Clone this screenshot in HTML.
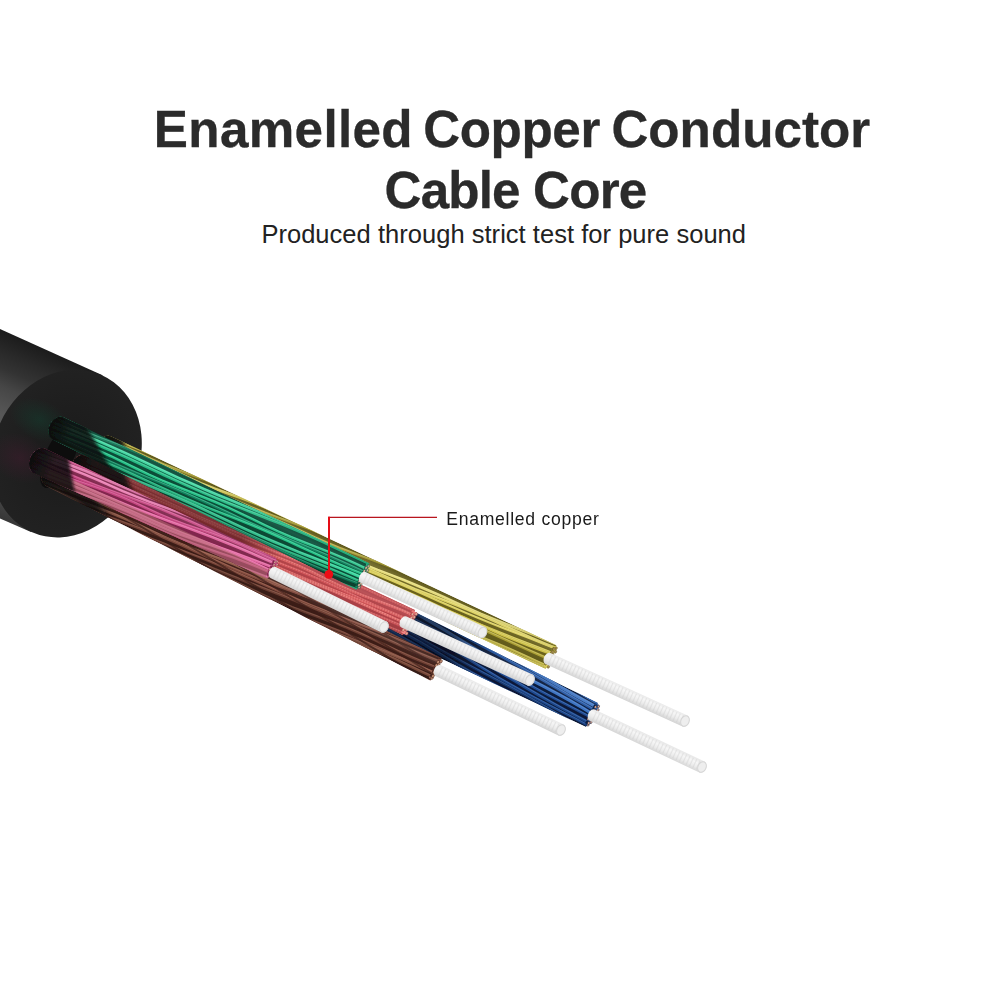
<!DOCTYPE html>
<html><head><meta charset="utf-8"><title>Enamelled Copper Conductor Cable Core</title>
<style>
html,body{margin:0;padding:0;background:#fff;}
body{width:1000px;height:1000px;position:relative;overflow:hidden;font-family:"Liberation Sans",sans-serif;}
.t{position:absolute;white-space:nowrap;line-height:1;transform-origin:0 0;}
#t1,#t1b,#t1c,#t2{font-weight:bold;color:#2b2b2b;font-size:51.2px;-webkit-text-stroke:0.3px #2b2b2b;}
#t3{color:#222;font-size:25.5px;}
#t4{color:#1a1a1a;font-size:17.6px;letter-spacing:0.72px;}
</style></head><body>
<svg width="1000" height="1000" viewBox="0 0 1000 1000" style="position:absolute;left:0;top:0"><defs><linearGradient id="jb" gradientUnits="userSpaceOnUse" x1="45" y1="350" x2="-25" y2="505"><stop offset="0" stop-color="#1c1c1c"/><stop offset="0.1" stop-color="#282828"/><stop offset="0.2" stop-color="#333333"/><stop offset="0.3" stop-color="#464646"/><stop offset="0.45" stop-color="#575757"/><stop offset="0.7" stop-color="#5a5a5a"/><stop offset="0.88" stop-color="#4a4a4a"/><stop offset="1" stop-color="#383838"/></linearGradient><radialGradient id="jf" cx="0.5" cy="0.5" r="0.6"><stop offset="0" stop-color="#1a1a1a"/><stop offset="1" stop-color="#232323"/></radialGradient><radialGradient id="tg"><stop offset="0" stop-color="#0b5a3e" stop-opacity="0.28"/><stop offset="1" stop-color="#0b5a3e" stop-opacity="0"/></radialGradient><radialGradient id="tp"><stop offset="0" stop-color="#5a1a3a" stop-opacity="0.3"/><stop offset="1" stop-color="#5a1a3a" stop-opacity="0"/></radialGradient><clipPath id="y1"><path d="M100.6 459.5 L545.5 668.7 L556.5 645.2 L111.4 436.5 A9.7 12.7 25.2 0 0 100.6 459.5 Z"/></clipPath><linearGradient id="gy1" gradientUnits="userSpaceOnUse" x1="556.5" y1="645.2" x2="545.5" y2="668.7"><stop offset="0" stop-color="#000" stop-opacity="0.12"/><stop offset="0.22" stop-color="#fff" stop-opacity="0.08"/><stop offset="0.55" stop-color="#000" stop-opacity="0"/><stop offset="1" stop-color="#000" stop-opacity="0.13"/></linearGradient><filter id="fy1" x="-30%" y="-30%" width="160%" height="160%"><feGaussianBlur stdDeviation="2"/></filter><linearGradient id="hy1" gradientUnits="userSpaceOnUse" x1="96.8" y1="443.6" x2="118.7" y2="453.9"><stop offset="0" stop-color="#101010" stop-opacity="1"/><stop offset="0.45" stop-color="#101010" stop-opacity="0.85"/><stop offset="1" stop-color="#101010" stop-opacity="0"/></linearGradient><linearGradient id="c2" gradientUnits="userSpaceOnUse" x1="550.5" y1="653" x2="545.5" y2="664"><stop offset="0" stop-color="#e9e9e9"/><stop offset="0.28" stop-color="#f6f6f6"/><stop offset="0.62" stop-color="#ececec"/><stop offset="1" stop-color="#d4d4d4"/></linearGradient><clipPath id="bl3"><path d="M389.2 633.9 L586.1 727.1 L597.9 702.9 L402.8 606.1 A11.8 15.5 25.9 0 0 389.2 633.9 Z"/></clipPath><linearGradient id="gbl3" gradientUnits="userSpaceOnUse" x1="598.8" y1="701.1" x2="585.2" y2="728.9"><stop offset="0" stop-color="#000" stop-opacity="0.12"/><stop offset="0.22" stop-color="#fff" stop-opacity="0.08"/><stop offset="0.55" stop-color="#000" stop-opacity="0"/><stop offset="1" stop-color="#000" stop-opacity="0.12"/></linearGradient><linearGradient id="dbl3" gradientUnits="userSpaceOnUse" x1="396" y1="620" x2="486" y2="663.6"><stop offset="0" stop-color="#040814" stop-opacity="0.55"/><stop offset="0.6" stop-color="#040814" stop-opacity="0.55"/><stop offset="1" stop-color="#040814" stop-opacity="0"/></linearGradient><linearGradient id="c4" gradientUnits="userSpaceOnUse" x1="594.6" y1="709.6" x2="589.4" y2="720.4"><stop offset="0" stop-color="#e9e9e9"/><stop offset="0.28" stop-color="#f6f6f6"/><stop offset="0.62" stop-color="#ececec"/><stop offset="1" stop-color="#d4d4d4"/></linearGradient><clipPath id="r5"><path d="M75.1 476.4 L403 635.2 L415 610 L84.9 455.6 A8.7 11.5 25.5 0 0 75.1 476.4 Z"/></clipPath><linearGradient id="gr5" gradientUnits="userSpaceOnUse" x1="415" y1="610" x2="403" y2="635.2"><stop offset="0" stop-color="#000" stop-opacity="0.12"/><stop offset="0.22" stop-color="#fff" stop-opacity="0.08"/><stop offset="0.55" stop-color="#000" stop-opacity="0"/><stop offset="1" stop-color="#000" stop-opacity="0.15"/></linearGradient><linearGradient id="dr5" gradientUnits="userSpaceOnUse" x1="80" y1="466" x2="278.6" y2="560.6"><stop offset="0" stop-color="#2a0808" stop-opacity="0.45"/><stop offset="0.8" stop-color="#2a0808" stop-opacity="0.45"/><stop offset="1" stop-color="#2a0808" stop-opacity="0"/></linearGradient><filter id="fr5" x="-30%" y="-30%" width="160%" height="160%"><feGaussianBlur stdDeviation="2"/></filter><linearGradient id="hr5" gradientUnits="userSpaceOnUse" x1="71.7" y1="462" x2="92.6" y2="472"><stop offset="0" stop-color="#101010" stop-opacity="1"/><stop offset="0.45" stop-color="#101010" stop-opacity="0.85"/><stop offset="1" stop-color="#101010" stop-opacity="0"/></linearGradient><linearGradient id="c6" gradientUnits="userSpaceOnUse" x1="406.5" y1="616.5" x2="401.5" y2="627.5"><stop offset="0" stop-color="#e9e9e9"/><stop offset="0.28" stop-color="#f6f6f6"/><stop offset="0.62" stop-color="#ececec"/><stop offset="1" stop-color="#d4d4d4"/></linearGradient><clipPath id="g7"><path d="M52.5 439.6 L356.6 589.7 L369.4 563.5 L63.5 417.2 A9.5 12.5 25.9 0 0 52.5 439.6 Z"/></clipPath><linearGradient id="gg7" gradientUnits="userSpaceOnUse" x1="369.4" y1="563.5" x2="356.6" y2="589.7"><stop offset="0" stop-color="#000" stop-opacity="0.12"/><stop offset="0.22" stop-color="#fff" stop-opacity="0.08"/><stop offset="0.55" stop-color="#000" stop-opacity="0"/><stop offset="1" stop-color="#000" stop-opacity="0.2"/></linearGradient><filter id="fg7" x="-30%" y="-30%" width="160%" height="160%"><feGaussianBlur stdDeviation="1.5"/></filter><linearGradient id="hg7" gradientUnits="userSpaceOnUse" x1="49" y1="424" x2="70.6" y2="434.5"><stop offset="0" stop-color="#101010" stop-opacity="1"/><stop offset="0.45" stop-color="#101010" stop-opacity="0.85"/><stop offset="1" stop-color="#101010" stop-opacity="0"/></linearGradient><linearGradient id="c8" gradientUnits="userSpaceOnUse" x1="365.5" y1="571.9" x2="360.5" y2="582.7"><stop offset="0" stop-color="#e9e9e9"/><stop offset="0.28" stop-color="#f6f6f6"/><stop offset="0.62" stop-color="#ececec"/><stop offset="1" stop-color="#d4d4d4"/></linearGradient><clipPath id="br9"><path d="M45.3 485.4 L430.4 680.4 L441.6 658.2 L54.7 466.6 A8 10.5 26.6 0 0 45.3 485.4 Z"/></clipPath><linearGradient id="gbr9" gradientUnits="userSpaceOnUse" x1="441.6" y1="658.2" x2="430.4" y2="680.4"><stop offset="0" stop-color="#000" stop-opacity="0.12"/><stop offset="0.22" stop-color="#fff" stop-opacity="0.08"/><stop offset="0.55" stop-color="#000" stop-opacity="0"/><stop offset="1" stop-color="#000" stop-opacity="0.2"/></linearGradient><filter id="fbr9" x="-30%" y="-30%" width="160%" height="160%"><feGaussianBlur stdDeviation="4"/></filter><linearGradient id="hbr9" gradientUnits="userSpaceOnUse" x1="42.5" y1="472.2" x2="62.5" y2="482.3"><stop offset="0" stop-color="#101010" stop-opacity="1"/><stop offset="0.45" stop-color="#101010" stop-opacity="0.85"/><stop offset="1" stop-color="#101010" stop-opacity="0"/></linearGradient><clipPath id="p10"><path d="M34.3 473.5 L267.4 578.6 L276.6 558.6 L45.7 448.9 A10.3 13.5 24.8 0 0 34.3 473.5 Z"/></clipPath><linearGradient id="gp10" gradientUnits="userSpaceOnUse" x1="277.7" y1="556.3" x2="266.3" y2="580.9"><stop offset="0" stop-color="#000" stop-opacity="0.12"/><stop offset="0.22" stop-color="#fff" stop-opacity="0.08"/><stop offset="0.55" stop-color="#000" stop-opacity="0"/><stop offset="1" stop-color="#000" stop-opacity="0.15"/></linearGradient><filter id="fp10" x="-30%" y="-30%" width="160%" height="160%"><feGaussianBlur stdDeviation="1.5"/></filter><linearGradient id="hp10" gradientUnits="userSpaceOnUse" x1="30.2" y1="456.7" x2="52.7" y2="467.1"><stop offset="0" stop-color="#101010" stop-opacity="1"/><stop offset="0.45" stop-color="#101010" stop-opacity="0.85"/><stop offset="1" stop-color="#101010" stop-opacity="0"/></linearGradient><linearGradient id="c11" gradientUnits="userSpaceOnUse" x1="275.6" y1="567.1" x2="270.4" y2="577.9"><stop offset="0" stop-color="#e9e9e9"/><stop offset="0.28" stop-color="#f6f6f6"/><stop offset="0.62" stop-color="#ececec"/><stop offset="1" stop-color="#d4d4d4"/></linearGradient><linearGradient id="c12" gradientUnits="userSpaceOnUse" x1="440.6" y1="665.1" x2="435.4" y2="675.9"><stop offset="0" stop-color="#e9e9e9"/><stop offset="0.28" stop-color="#f6f6f6"/><stop offset="0.62" stop-color="#ececec"/><stop offset="1" stop-color="#d4d4d4"/></linearGradient><filter id="soft" x="0" y="0" width="1000" height="1000" filterUnits="userSpaceOnUse"><feGaussianBlur stdDeviation="0.45"/></filter></defs><path d="M-2 328 L102.5 375.3 L31 532 L-2 517.5 Z" fill="url(#jb)"/>
<ellipse cx="66.5" cy="453.5" rx="73" ry="86" fill="url(#jf)" transform="rotate(24 66.5 453.5)"/>
<ellipse cx="40" cy="420" rx="32" ry="20" fill="url(#tg)" transform="rotate(25 40 420)"/>
<ellipse cx="20" cy="458" rx="32" ry="24" fill="url(#tp)" transform="rotate(25 20 458)"/>
<ellipse cx="60" cy="455" rx="14" ry="36" fill="#0d0d0d" transform="rotate(25.6 60 455)"/><g filter="url(#soft)"><g clip-path="url(#y1)">
<path d="M100.6 459.5 L545.5 668.7 L556.5 645.2 L111.4 436.5 A9.7 12.7 25.2 0 0 100.6 459.5 Z" fill="#6a621e"/>
<path d="M99.5 403 L112.3 408.8 L125 414.7 L137.7 420.6 L150.5 426.4 L163.5 431.8 L176.5 437 L189.7 442 L202.9 446.9 L216.1 451.8 L229.2 456.8 L242.2 462.2 L255.1 467.8 L267.8 473.6 L280.5 479.5 L293.3 485.4 L306.1 491.2 L319 496.7 L332 501.9 L345.2 506.8 L358.4 511.7 L371.6 516.6 L384.7 521.7 L397.7 527 L410.6 532.6 L423.4 538.4 L436.1 544.3 L448.8 550.3 L461.6 556 L474.5 561.5 L487.6 566.7 L500.7 571.7 L513.9 576.5 L527.1 581.4 L540.3 586.5 L553.3 591.8 L566.1 597.4 L578.9 603.2 L591.6 609.2 L604.3 615.1 L617.1 620.8" stroke="#d4c850" stroke-width="2.6" fill="none" stroke-linejoin="round"/>
<path d="M99.5 403 L112.3 408.8 L125 414.7 L137.7 420.6 L150.5 426.4 L163.5 431.8 L176.5 437 L189.7 442 L202.9 446.9 L216.1 451.8 L229.2 456.8 L242.2 462.2 L255.1 467.8 L267.8 473.6 L280.5 479.5 L293.3 485.4 L306.1 491.2 L319 496.7 L332 501.9 L345.2 506.8 L358.4 511.7 L371.6 516.6 L384.7 521.7 L397.7 527 L410.6 532.6 L423.4 538.4 L436.1 544.3 L448.8 550.3 L461.6 556 L474.5 561.5 L487.6 566.7 L500.7 571.7 L513.9 576.5 L527.1 581.4 L540.3 586.5 L553.3 591.8 L566.1 597.4 L578.9 603.2 L591.6 609.2 L604.3 615.1 L617.1 620.8" stroke="#f6f0b0" stroke-width="0.8" fill="none" opacity="0.45" transform="translate(0.2 -0.5)"/>
<path d="M97.2 407.8 L110.4 412.8 L123.7 417.5 L136.9 422.4 L150 427.6 L162.7 433.4 L175.4 439.5 L188 445.7 L200.7 451.5 L213.7 456.9 L226.9 461.7 L240.2 466.4 L253.4 471.4 L266.4 476.8 L279.1 482.7 L291.7 488.9 L304.3 495 L317.2 500.7 L330.2 505.8 L343.5 510.6 L356.7 515.4 L369.9 520.4 L382.8 526 L395.4 532 L408 538.2 L420.7 544.2 L433.6 549.8 L446.7 554.8 L460 559.5 L473.3 564.3 L486.3 569.5 L499.1 575.2 L511.8 581.3 L524.4 587.5 L537.1 593.4 L550.1 598.8 L563.3 603.7 L576.6 608.4 L589.8 613.3 L602.7 618.6 L615.5 624.5" stroke="#b0a436" stroke-width="2.5" fill="none" stroke-linejoin="round"/>
<path d="M97.2 407.8 L110.4 412.8 L123.7 417.5 L136.9 422.4 L150 427.6 L162.7 433.4 L175.4 439.5 L188 445.7 L200.7 451.5 L213.7 456.9 L226.9 461.7 L240.2 466.4 L253.4 471.4 L266.4 476.8 L279.1 482.7 L291.7 488.9 L304.3 495 L317.2 500.7 L330.2 505.8 L343.5 510.6 L356.7 515.4 L369.9 520.4 L382.8 526 L395.4 532 L408 538.2 L420.7 544.2 L433.6 549.8 L446.7 554.8 L460 559.5 L473.3 564.3 L486.3 569.5 L499.1 575.2 L511.8 581.3 L524.4 587.5 L537.1 593.4 L550.1 598.8 L563.3 603.7 L576.6 608.4 L589.8 613.3 L602.7 618.6 L615.5 624.5" stroke="#f6f0b0" stroke-width="0.8" fill="none" opacity="0.45" transform="translate(0.2 -0.4)"/>
<path d="M96.7 409.1 L109.5 414.6 L122.4 420.4 L135.1 426.2 L147.8 432.1 L160.6 437.9 L173.5 443.5 L186.5 448.9 L199.5 454.1 L212.7 459.1 L225.8 464.2 L238.9 469.3 L251.9 474.6 L264.8 480.1 L277.6 485.9 L290.4 491.7 L303.1 497.6 L315.9 503.4 L328.7 509 L341.7 514.4 L354.8 519.6 L367.9 524.6 L381 529.7 L394.1 534.8 L407.1 540.1 L420 545.6 L432.8 551.4 L445.6 557.2 L458.3 563.1 L471.1 568.9 L484 574.5 L497 579.9 L510 585.1 L523.1 590.1 L536.3 595.2 L549.4 600.3 L562.4 605.6 L575.3 611.1 L588.1 616.8 L600.8 622.7 L613.6 628.6" stroke="#dcd05a" stroke-width="2.4" fill="none" stroke-linejoin="round"/>
<path d="M96.7 409.1 L109.5 414.6 L122.4 420.4 L135.1 426.2 L147.8 432.1 L160.6 437.9 L173.5 443.5 L186.5 448.9 L199.5 454.1 L212.7 459.1 L225.8 464.2 L238.9 469.3 L251.9 474.6 L264.8 480.1 L277.6 485.9 L290.4 491.7 L303.1 497.6 L315.9 503.4 L328.7 509 L341.7 514.4 L354.8 519.6 L367.9 524.6 L381 529.7 L394.1 534.8 L407.1 540.1 L420 545.6 L432.8 551.4 L445.6 557.2 L458.3 563.1 L471.1 568.9 L484 574.5 L497 579.9 L510 585.1 L523.1 590.1 L536.3 595.2 L549.4 600.3 L562.4 605.6 L575.3 611.1 L588.1 616.8 L600.8 622.7 L613.6 628.6" stroke="#f6f0b0" stroke-width="0.8" fill="none" opacity="0.45" transform="translate(0.2 -0.4)"/>
<path d="M94.8 413.1 L107.8 418.4 L120.8 423.7 L133.7 429.1 L146.6 434.7 L159.5 440.3 L172.4 445.9 L185.2 451.6 L198 457.2 L210.9 462.8 L223.8 468.3 L236.8 473.7 L249.8 479.1 L262.8 484.3 L275.9 489.5 L288.9 494.7 L302 499.9 L315 505.2 L328 510.6 L340.9 516 L353.8 521.5 L366.7 527.1 L379.5 532.8 L392.4 538.4 L405.2 544.1 L418.1 549.7 L431 555.2 L444 560.6 L457 565.9 L470 571.2 L483.1 576.4 L496.1 581.6 L509.2 586.8 L522.2 592.1 L535.2 597.4 L548.1 602.9 L561 608.4 L573.9 614 L586.7 619.6 L599.6 625.3 L612.4 631" stroke="#d4c850" stroke-width="2.1" fill="none" stroke-linejoin="round"/>
<path d="M94.8 413.1 L107.8 418.4 L120.8 423.7 L133.7 429.1 L146.6 434.7 L159.5 440.3 L172.4 445.9 L185.2 451.6 L198 457.2 L210.9 462.8 L223.8 468.3 L236.8 473.7 L249.8 479.1 L262.8 484.3 L275.9 489.5 L288.9 494.7 L302 499.9 L315 505.2 L328 510.6 L340.9 516 L353.8 521.5 L366.7 527.1 L379.5 532.8 L392.4 538.4 L405.2 544.1 L418.1 549.7 L431 555.2 L444 560.6 L457 565.9 L470 571.2 L483.1 576.4 L496.1 581.6 L509.2 586.8 L522.2 592.1 L535.2 597.4 L548.1 602.9 L561 608.4 L573.9 614 L586.7 619.6 L599.6 625.3 L612.4 631" stroke="#f6f0b0" stroke-width="0.7" fill="none" opacity="0.45" transform="translate(0.2 -0.4)"/>
<path d="M92.9 417.1 L106.1 422.1 L119.2 427.1 L132.2 432.3 L145.2 437.7 L158.1 443.3 L170.9 449 L183.7 454.8 L196.5 460.6 L209.3 466.2 L222.2 471.8 L235.2 477.1 L248.2 482.3 L261.4 487.3 L274.5 492.3 L287.7 497.3 L300.8 502.4 L313.8 507.7 L326.7 513.1 L339.6 518.7 L352.4 524.4 L365.2 530.2 L378 536 L390.8 541.6 L403.7 547.1 L416.7 552.4 L429.8 557.6 L443 562.6 L456.1 567.6 L469.3 572.6 L482.4 577.7 L495.4 583 L508.3 588.5 L521.1 594.1 L533.9 599.9 L546.7 605.7 L559.5 611.4 L572.4 617 L585.3 622.5 L598.3 627.7 L611.4 632.8" stroke="#d4c850" stroke-width="2.6" fill="none" stroke-linejoin="round"/>
<path d="M92.9 417.1 L106.1 422.1 L119.2 427.1 L132.2 432.3 L145.2 437.7 L158.1 443.3 L170.9 449 L183.7 454.8 L196.5 460.6 L209.3 466.2 L222.2 471.8 L235.2 477.1 L248.2 482.3 L261.4 487.3 L274.5 492.3 L287.7 497.3 L300.8 502.4 L313.8 507.7 L326.7 513.1 L339.6 518.7 L352.4 524.4 L365.2 530.2 L378 536 L390.8 541.6 L403.7 547.1 L416.7 552.4 L429.8 557.6 L443 562.6 L456.1 567.6 L469.3 572.6 L482.4 577.7 L495.4 583 L508.3 588.5 L521.1 594.1 L533.9 599.9 L546.7 605.7 L559.5 611.4 L572.4 617 L585.3 622.5 L598.3 627.7 L611.4 632.8" stroke="#f6f0b0" stroke-width="0.8" fill="none" opacity="0.45" transform="translate(0.2 -0.5)"/>
<path d="M91.1 421 L103.9 426.6 L116.8 432.2 L129.8 437.6 L142.8 442.9 L155.8 448.1 L168.9 453.2 L182 458.3 L195.2 463.3 L208.3 468.5 L221.3 473.7 L234.3 479 L247.2 484.5 L260.1 490.1 L272.9 495.8 L285.7 501.5 L298.5 507.3 L311.3 513 L324.2 518.6 L337.1 524.1 L350.1 529.4 L363.1 534.7 L376.2 539.8 L389.3 544.9 L402.5 549.9 L415.6 555 L428.6 560.2 L441.6 565.5 L454.6 570.9 L467.5 576.4 L480.3 582.1 L493.2 587.8 L506 593.5 L518.8 599.3 L531.6 604.9 L544.5 610.5 L557.4 615.9 L570.4 621.2 L583.5 626.4 L596.6 631.5 L609.7 636.5" stroke="#e6dc74" stroke-width="2.3" fill="none" stroke-linejoin="round"/>
<path d="M91.1 421 L103.9 426.6 L116.8 432.2 L129.8 437.6 L142.8 442.9 L155.8 448.1 L168.9 453.2 L182 458.3 L195.2 463.3 L208.3 468.5 L221.3 473.7 L234.3 479 L247.2 484.5 L260.1 490.1 L272.9 495.8 L285.7 501.5 L298.5 507.3 L311.3 513 L324.2 518.6 L337.1 524.1 L350.1 529.4 L363.1 534.7 L376.2 539.8 L389.3 544.9 L402.5 549.9 L415.6 555 L428.6 560.2 L441.6 565.5 L454.6 570.9 L467.5 576.4 L480.3 582.1 L493.2 587.8 L506 593.5 L518.8 599.3 L531.6 604.9 L544.5 610.5 L557.4 615.9 L570.4 621.2 L583.5 626.4 L596.6 631.5 L609.7 636.5" stroke="#f6f0b0" stroke-width="0.7" fill="none" opacity="0.45" transform="translate(0.2 -0.4)"/>
<path d="M89.7 424 L102.7 429.2 L115.8 434.4 L128.8 439.6 L141.9 444.9 L154.8 450.2 L167.8 455.7 L180.6 461.3 L193.5 467 L206.3 472.7 L219.1 478.4 L232 484 L244.8 489.6 L257.8 495.1 L270.7 500.5 L283.8 505.7 L296.8 510.9 L309.9 516.1 L322.9 521.3 L336 526.6 L348.9 532 L361.9 537.5 L374.7 543.1 L387.6 548.7 L400.4 554.5 L413.2 560.2 L426 565.8 L438.9 571.4 L451.9 576.8 L464.9 582.2 L477.9 587.5 L490.9 592.7 L504 597.8 L517 603.1 L530.1 608.4 L543 613.7 L556 619.2 L568.8 624.8 L581.7 630.5 L594.5 636.2 L607.3 641.9" stroke="#d4c850" stroke-width="2.3" fill="none" stroke-linejoin="round"/>
<path d="M89.7 424 L102.7 429.2 L115.8 434.4 L128.8 439.6 L141.9 444.9 L154.8 450.2 L167.8 455.7 L180.6 461.3 L193.5 467 L206.3 472.7 L219.1 478.4 L232 484 L244.8 489.6 L257.8 495.1 L270.7 500.5 L283.8 505.7 L296.8 510.9 L309.9 516.1 L322.9 521.3 L336 526.6 L348.9 532 L361.9 537.5 L374.7 543.1 L387.6 548.7 L400.4 554.5 L413.2 560.2 L426 565.8 L438.9 571.4 L451.9 576.8 L464.9 582.2 L477.9 587.5 L490.9 592.7 L504 597.8 L517 603.1 L530.1 608.4 L543 613.7 L556 619.2 L568.8 624.8 L581.7 630.5 L594.5 636.2 L607.3 641.9" stroke="#f6f0b0" stroke-width="0.7" fill="none" opacity="0.45" transform="translate(0.2 -0.4)"/>
<path d="M88.3 427 L101 432.8 L113.8 438.5 L126.7 444.1 L139.7 449.4 L152.8 454.6 L165.9 459.6 L179.1 464.6 L192.1 469.9 L205 475.3 L217.9 481 L230.7 486.8 L243.5 492.5 L256.4 498 L269.4 503.3 L282.5 508.4 L295.6 513.4 L308.7 518.5 L321.7 523.8 L334.7 529.3 L347.5 535 L360.3 540.7 L373.1 546.4 L386 551.9 L399 557.1 L412.2 562.2 L425.3 567.2 L438.4 572.4 L451.4 577.7 L464.3 583.3 L477.1 589 L489.9 594.7 L502.7 600.4 L515.7 605.8 L528.7 611 L541.9 616 L555 621.1 L568.1 626.2 L581 631.6 L593.9 637.2 L606.7 643" stroke="#dcd05a" stroke-width="2.6" fill="none" stroke-linejoin="round"/>
<path d="M88.3 427 L101 432.8 L113.8 438.5 L126.7 444.1 L139.7 449.4 L152.8 454.6 L165.9 459.6 L179.1 464.6 L192.1 469.9 L205 475.3 L217.9 481 L230.7 486.8 L243.5 492.5 L256.4 498 L269.4 503.3 L282.5 508.4 L295.6 513.4 L308.7 518.5 L321.7 523.8 L334.7 529.3 L347.5 535 L360.3 540.7 L373.1 546.4 L386 551.9 L399 557.1 L412.2 562.2 L425.3 567.2 L438.4 572.4 L451.4 577.7 L464.3 583.3 L477.1 589 L489.9 594.7 L502.7 600.4 L515.7 605.8 L528.7 611 L541.9 616 L555 621.1 L568.1 626.2 L581 631.6 L593.9 637.2 L606.7 643" stroke="#f6f0b0" stroke-width="0.8" fill="none" opacity="0.45" transform="translate(0.2 -0.5)"/>
<path d="M87 429.7 L100 435.1 L112.7 440.8 L125.4 446.9 L138.1 452.9 L150.8 458.8 L163.7 464.3 L176.8 469.4 L190 474.4 L203.2 479.3 L216.3 484.5 L229.2 490 L241.9 495.9 L254.6 501.9 L267.3 507.9 L280.1 513.7 L293 519.1 L306.2 524.1 L319.4 529 L332.5 534 L345.5 539.3 L358.4 544.9 L371.1 550.9 L383.7 557 L396.5 562.9 L409.3 568.5 L422.3 573.8 L435.5 578.8 L448.7 583.7 L461.8 588.7 L474.8 594.1 L487.6 599.9 L500.3 605.9 L512.9 612 L525.7 617.8 L538.6 623.4 L551.7 628.5 L564.8 633.4 L578 638.4 L591.1 643.5 L604 649" stroke="#b0a436" stroke-width="2.3" fill="none" stroke-linejoin="round"/>
<path d="M87 429.7 L100 435.1 L112.7 440.8 L125.4 446.9 L138.1 452.9 L150.8 458.8 L163.7 464.3 L176.8 469.4 L190 474.4 L203.2 479.3 L216.3 484.5 L229.2 490 L241.9 495.9 L254.6 501.9 L267.3 507.9 L280.1 513.7 L293 519.1 L306.2 524.1 L319.4 529 L332.5 534 L345.5 539.3 L358.4 544.9 L371.1 550.9 L383.7 557 L396.5 562.9 L409.3 568.5 L422.3 573.8 L435.5 578.8 L448.7 583.7 L461.8 588.7 L474.8 594.1 L487.6 599.9 L500.3 605.9 L512.9 612 L525.7 617.8 L538.6 623.4 L551.7 628.5 L564.8 633.4 L578 638.4 L591.1 643.5 L604 649" stroke="#f6f0b0" stroke-width="0.7" fill="none" opacity="0.45" transform="translate(0.2 -0.4)"/>
<path d="M84.5 435 L97.6 440.1 L110.8 444.9 L124.1 449.6 L137.3 454.5 L150.3 459.9 L163.1 465.7 L175.7 471.8 L188.4 477.8 L201.2 483.4 L214.3 488.5 L227.6 493.2 L240.9 497.9 L254.1 502.9 L267 508.3 L279.8 514.2 L292.4 520.3 L305.1 526.2 L318 531.8 L331.1 536.9 L344.4 541.6 L357.6 546.3 L370.8 551.3 L383.7 556.7 L396.5 562.6 L409.1 568.7 L421.8 574.7 L434.7 580.2 L447.8 585.2 L461.1 590 L474.4 594.7 L487.5 599.7 L500.5 605.2 L513.2 611.1 L525.8 617.2 L538.5 623.1 L551.4 628.6 L564.6 633.6 L577.9 638.3 L591.1 643 L604.3 648.1" stroke="#dcd05a" stroke-width="2.7" fill="none" stroke-linejoin="round"/>
<path d="M84.5 435 L97.6 440.1 L110.8 444.9 L124.1 449.6 L137.3 454.5 L150.3 459.9 L163.1 465.7 L175.7 471.8 L188.4 477.8 L201.2 483.4 L214.3 488.5 L227.6 493.2 L240.9 497.9 L254.1 502.9 L267 508.3 L279.8 514.2 L292.4 520.3 L305.1 526.2 L318 531.8 L331.1 536.9 L344.4 541.6 L357.6 546.3 L370.8 551.3 L383.7 556.7 L396.5 562.6 L409.1 568.7 L421.8 574.7 L434.7 580.2 L447.8 585.2 L461.1 590 L474.4 594.7 L487.5 599.7 L500.5 605.2 L513.2 611.1 L525.8 617.2 L538.5 623.1 L551.4 628.6 L564.6 633.6 L577.9 638.3 L591.1 643 L604.3 648.1" stroke="#f6f0b0" stroke-width="0.9" fill="none" opacity="0.45" transform="translate(0.2 -0.5)"/>
<path d="M83.1 438 L96.1 443.3 L109.2 448.5 L122.3 453.5 L135.5 458.3 L148.7 463.2 L161.8 468.3 L174.8 473.6 L187.7 479.1 L200.5 484.8 L213.3 490.6 L226.1 496.4 L238.9 502 L251.9 507.4 L265 512.6 L278.2 517.5 L291.4 522.4 L304.6 527.3 L317.7 532.3 L330.7 537.6 L343.6 543.2 L356.4 548.9 L369.1 554.7 L381.9 560.5 L394.8 566.1 L407.7 571.5 L420.8 576.6 L434 581.6 L447.2 586.4 L460.4 591.3 L473.5 596.4 L486.5 601.7 L499.4 607.3 L512.2 613 L525 618.8 L537.7 624.6 L550.6 630.2 L563.6 635.6 L576.7 640.7 L589.8 645.6 L603 650.5" stroke="#b0a436" stroke-width="2.2" fill="none" stroke-linejoin="round"/>
<path d="M83.1 438 L96.1 443.3 L109.2 448.5 L122.3 453.5 L135.5 458.3 L148.7 463.2 L161.8 468.3 L174.8 473.6 L187.7 479.1 L200.5 484.8 L213.3 490.6 L226.1 496.4 L238.9 502 L251.9 507.4 L265 512.6 L278.2 517.5 L291.4 522.4 L304.6 527.3 L317.7 532.3 L330.7 537.6 L343.6 543.2 L356.4 548.9 L369.1 554.7 L381.9 560.5 L394.8 566.1 L407.7 571.5 L420.8 576.6 L434 581.6 L447.2 586.4 L460.4 591.3 L473.5 596.4 L486.5 601.7 L499.4 607.3 L512.2 613 L525 618.8 L537.7 624.6 L550.6 630.2 L563.6 635.6 L576.7 640.7 L589.8 645.6 L603 650.5" stroke="#f6f0b0" stroke-width="0.7" fill="none" opacity="0.45" transform="translate(0.2 -0.4)"/>
<path d="M81.5 441.4 L94.6 446.6 L107.8 451.4 L121 456.3 L134.1 461.3 L147.2 466.5 L160 472.1 L172.8 478 L185.5 483.8 L198.3 489.5 L211.3 494.9 L224.4 500 L237.6 504.8 L250.9 509.7 L264 514.7 L277 520.1 L289.8 525.7 L302.5 531.6 L315.3 537.4 L328.1 543.1 L341.1 548.4 L354.3 553.4 L367.5 558.2 L380.7 563.1 L393.8 568.2 L406.8 573.6 L419.6 579.3 L432.3 585.2 L445.1 591 L457.9 596.6 L471 601.9 L484.1 606.8 L497.4 611.6 L510.6 616.5 L523.6 621.7 L536.6 627.2 L549.3 632.9 L562.1 638.8 L574.9 644.6 L587.8 650.1 L600.8 655.3" stroke="#b0a436" stroke-width="2.2" fill="none" stroke-linejoin="round"/>
<path d="M81.5 441.4 L94.6 446.6 L107.8 451.4 L121 456.3 L134.1 461.3 L147.2 466.5 L160 472.1 L172.8 478 L185.5 483.8 L198.3 489.5 L211.3 494.9 L224.4 500 L237.6 504.8 L250.9 509.7 L264 514.7 L277 520.1 L289.8 525.7 L302.5 531.6 L315.3 537.4 L328.1 543.1 L341.1 548.4 L354.3 553.4 L367.5 558.2 L380.7 563.1 L393.8 568.2 L406.8 573.6 L419.6 579.3 L432.3 585.2 L445.1 591 L457.9 596.6 L471 601.9 L484.1 606.8 L497.4 611.6 L510.6 616.5 L523.6 621.7 L536.6 627.2 L549.3 632.9 L562.1 638.8 L574.9 644.6 L587.8 650.1 L600.8 655.3" stroke="#f6f0b0" stroke-width="0.7" fill="none" opacity="0.45" transform="translate(0.2 -0.4)"/>
<path d="M80.2 444.1 L93 449.9 L105.8 455.6 L118.8 461 L131.8 466.2 L144.9 471.3 L158 476.4 L171.1 481.7 L184 487.2 L196.8 493 L209.5 498.8 L222.3 504.6 L235.2 510.2 L248.2 515.5 L261.3 520.6 L274.4 525.7 L287.5 530.9 L300.4 536.3 L313.3 541.9 L326.1 547.7 L338.8 553.5 L351.6 559.2 L364.6 564.7 L377.6 570 L390.7 575 L403.8 580.1 L416.9 585.4 L429.8 590.9 L442.6 596.6 L455.4 602.4 L468.1 608.2 L481 613.9 L494 619.2 L507.1 624.4 L520.2 629.4 L533.3 634.6 L546.2 639.9 L559.1 645.5 L571.9 651.3 L584.6 657.2 L597.5 662.9" stroke="#e6dc74" stroke-width="2.7" fill="none" stroke-linejoin="round"/>
<path d="M80.2 444.1 L93 449.9 L105.8 455.6 L118.8 461 L131.8 466.2 L144.9 471.3 L158 476.4 L171.1 481.7 L184 487.2 L196.8 493 L209.5 498.8 L222.3 504.6 L235.2 510.2 L248.2 515.5 L261.3 520.6 L274.4 525.7 L287.5 530.9 L300.4 536.3 L313.3 541.9 L326.1 547.7 L338.8 553.5 L351.6 559.2 L364.6 564.7 L377.6 570 L390.7 575 L403.8 580.1 L416.9 585.4 L429.8 590.9 L442.6 596.6 L455.4 602.4 L468.1 608.2 L481 613.9 L494 619.2 L507.1 624.4 L520.2 629.4 L533.3 634.6 L546.2 639.9 L559.1 645.5 L571.9 651.3 L584.6 657.2 L597.5 662.9" stroke="#f6f0b0" stroke-width="0.9" fill="none" opacity="0.45" transform="translate(0.2 -0.5)"/>
<path d="M78.9 446.9 L91.8 452.5 L104.6 458.3 L117.3 464.1 L130.1 469.9 L143 475.4 L156 480.7 L169.2 485.7 L182.3 490.7 L195.4 495.8 L208.4 501.1 L221.3 506.6 L234.1 512.4 L246.9 518.3 L259.7 524 L272.5 529.6 L285.5 534.9 L298.6 540 L311.8 545 L324.9 550.1 L338 555.3 L350.9 560.8 L363.7 566.5 L376.4 572.4 L389.2 578.2 L402.1 583.8 L415 589.2 L428.1 594.3 L441.3 599.3 L454.4 604.3 L467.5 609.5 L480.4 615 L493.2 620.6 L506 626.5 L518.8 632.3 L531.6 638 L544.5 643.4 L557.6 648.6 L570.7 653.6 L583.9 658.6 L597 663.8" stroke="#dcd05a" stroke-width="2.7" fill="none" stroke-linejoin="round"/>
<path d="M78.9 446.9 L91.8 452.5 L104.6 458.3 L117.3 464.1 L130.1 469.9 L143 475.4 L156 480.7 L169.2 485.7 L182.3 490.7 L195.4 495.8 L208.4 501.1 L221.3 506.6 L234.1 512.4 L246.9 518.3 L259.7 524 L272.5 529.6 L285.5 534.9 L298.6 540 L311.8 545 L324.9 550.1 L338 555.3 L350.9 560.8 L363.7 566.5 L376.4 572.4 L389.2 578.2 L402.1 583.8 L415 589.2 L428.1 594.3 L441.3 599.3 L454.4 604.3 L467.5 609.5 L480.4 615 L493.2 620.6 L506 626.5 L518.8 632.3 L531.6 638 L544.5 643.4 L557.6 648.6 L570.7 653.6 L583.9 658.6 L597 663.8" stroke="#f6f0b0" stroke-width="0.9" fill="none" opacity="0.45" transform="translate(0.2 -0.5)"/>
<path d="M77 451 L89.8 456.7 L102.7 462.3 L115.6 467.7 L128.6 473.1 L141.7 478.3 L154.8 483.4 L167.9 488.4 L181 493.5 L194.1 498.7 L207.1 504 L220 509.4 L232.9 515 L245.7 520.6 L258.5 526.3 L271.4 532 L284.3 537.6 L297.2 543 L310.2 548.3 L323.3 553.5 L336.4 558.6 L349.5 563.6 L362.6 568.7 L375.7 573.9 L388.7 579.2 L401.6 584.7 L414.4 590.3 L427.3 596 L440.1 601.7 L452.9 607.3 L465.8 612.9 L478.8 618.3 L491.8 623.6 L504.9 628.7 L518 633.8 L531.1 638.8 L544.2 643.9 L557.3 649.2 L570.2 654.5 L583.1 660 L596 665.7" stroke="#dcd05a" stroke-width="2.1" fill="none" stroke-linejoin="round"/>
<path d="M77 451 L89.8 456.7 L102.7 462.3 L115.6 467.7 L128.6 473.1 L141.7 478.3 L154.8 483.4 L167.9 488.4 L181 493.5 L194.1 498.7 L207.1 504 L220 509.4 L232.9 515 L245.7 520.6 L258.5 526.3 L271.4 532 L284.3 537.6 L297.2 543 L310.2 548.3 L323.3 553.5 L336.4 558.6 L349.5 563.6 L362.6 568.7 L375.7 573.9 L388.7 579.2 L401.6 584.7 L414.4 590.3 L427.3 596 L440.1 601.7 L452.9 607.3 L465.8 612.9 L478.8 618.3 L491.8 623.6 L504.9 628.7 L518 633.8 L531.1 638.8 L544.2 643.9 L557.3 649.2 L570.2 654.5 L583.1 660 L596 665.7" stroke="#f6f0b0" stroke-width="0.7" fill="none" opacity="0.45" transform="translate(0.2 -0.4)"/>
<path d="M75.8 453.4 L88.6 459.2 L101.4 465 L114.1 470.9 L127 476.6 L139.9 482.1 L152.9 487.4 L165.9 492.6 L179.1 497.7 L192.2 502.7 L205.3 507.8 L218.4 513 L231.3 518.4 L244.2 524 L257 529.7 L269.7 535.6 L282.5 541.4 L295.3 547.1 L308.2 552.7 L321.2 558 L334.2 563.2 L347.4 568.3 L360.5 573.3 L373.6 578.4 L386.7 583.6 L399.7 588.9 L412.5 594.5 L425.4 600.2 L438.1 606.1 L450.9 611.9 L463.7 617.6 L476.5 623.2 L489.5 628.6 L502.6 633.8 L515.7 638.9 L528.8 643.9 L541.9 649 L555 654.2 L568 659.5 L580.9 665 L593.7 670.7" stroke="#cfc248" stroke-width="2.7" fill="none" stroke-linejoin="round"/>
<path d="M75.8 453.4 L88.6 459.2 L101.4 465 L114.1 470.9 L127 476.6 L139.9 482.1 L152.9 487.4 L165.9 492.6 L179.1 497.7 L192.2 502.7 L205.3 507.8 L218.4 513 L231.3 518.4 L244.2 524 L257 529.7 L269.7 535.6 L282.5 541.4 L295.3 547.1 L308.2 552.7 L321.2 558 L334.2 563.2 L347.4 568.3 L360.5 573.3 L373.6 578.4 L386.7 583.6 L399.7 588.9 L412.5 594.5 L425.4 600.2 L438.1 606.1 L450.9 611.9 L463.7 617.6 L476.5 623.2 L489.5 628.6 L502.6 633.8 L515.7 638.9 L528.8 643.9 L541.9 649 L555 654.2 L568 659.5 L580.9 665 L593.7 670.7" stroke="#f6f0b0" stroke-width="0.9" fill="none" opacity="0.45" transform="translate(0.2 -0.5)"/>
<path d="M74.3 456.6 L87.3 462.1 L100.1 467.8 L112.8 473.7 L125.6 479.4 L138.5 484.9 L151.6 490 L164.8 495 L178 499.9 L191.1 504.9 L204.1 510.2 L217 515.8 L229.8 521.6 L242.5 527.4 L255.4 533 L268.4 538.4 L281.5 543.4 L294.7 548.3 L307.9 553.3 L321 558.4 L333.9 563.8 L346.7 569.5 L359.5 575.3 L372.3 581.1 L385.2 586.6 L398.2 591.8 L411.4 596.8 L424.6 601.7 L437.7 606.7 L450.8 611.9 L463.6 617.5 L476.4 623.2 L489.2 629 L502 634.7 L515 640.1 L528.1 645.2 L541.3 650.2 L554.5 655.1 L567.6 660.1 L580.5 665.5 L593.4 671.1" stroke="#cfc248" stroke-width="2.6" fill="none" stroke-linejoin="round"/>
<path d="M74.3 456.6 L87.3 462.1 L100.1 467.8 L112.8 473.7 L125.6 479.4 L138.5 484.9 L151.6 490 L164.8 495 L178 499.9 L191.1 504.9 L204.1 510.2 L217 515.8 L229.8 521.6 L242.5 527.4 L255.4 533 L268.4 538.4 L281.5 543.4 L294.7 548.3 L307.9 553.3 L321 558.4 L333.9 563.8 L346.7 569.5 L359.5 575.3 L372.3 581.1 L385.2 586.6 L398.2 591.8 L411.4 596.8 L424.6 601.7 L437.7 606.7 L450.8 611.9 L463.6 617.5 L476.4 623.2 L489.2 629 L502 634.7 L515 640.1 L528.1 645.2 L541.3 650.2 L554.5 655.1 L567.6 660.1 L580.5 665.5 L593.4 671.1" stroke="#f6f0b0" stroke-width="0.8" fill="none" opacity="0.45" transform="translate(0.2 -0.5)"/>
<path d="M72 461.6 L84.8 467.3 L97.8 472.7 L110.9 477.8 L124 482.8 L137.2 487.6 L150.4 492.6 L163.5 497.6 L176.5 503 L189.4 508.6 L202.2 514.4 L214.9 520.2 L227.7 526 L240.6 531.6 L253.5 537 L266.6 542.1 L279.8 547 L293 551.8 L306.2 556.8 L319.3 561.9 L332.2 567.4 L345.1 573 L357.8 578.8 L370.6 584.7 L383.4 590.4 L396.3 596 L409.3 601.3 L422.4 606.3 L435.6 611.2 L448.8 616.1 L462 621.1 L475 626.3 L487.9 631.7 L500.8 637.5 L513.5 643.3 L526.3 649.1 L539.1 654.8 L552 660.3 L565 665.5 L578.2 670.5 L591.4 675.4" stroke="#b0a436" stroke-width="2.6" fill="none" stroke-linejoin="round"/>
<path d="M72 461.6 L84.8 467.3 L97.8 472.7 L110.9 477.8 L124 482.8 L137.2 487.6 L150.4 492.6 L163.5 497.6 L176.5 503 L189.4 508.6 L202.2 514.4 L214.9 520.2 L227.7 526 L240.6 531.6 L253.5 537 L266.6 542.1 L279.8 547 L293 551.8 L306.2 556.8 L319.3 561.9 L332.2 567.4 L345.1 573 L357.8 578.8 L370.6 584.7 L383.4 590.4 L396.3 596 L409.3 601.3 L422.4 606.3 L435.6 611.2 L448.8 616.1 L462 621.1 L475 626.3 L487.9 631.7 L500.8 637.5 L513.5 643.3 L526.3 649.1 L539.1 654.8 L552 660.3 L565 665.5 L578.2 670.5 L591.4 675.4" stroke="#f6f0b0" stroke-width="0.8" fill="none" opacity="0.45" transform="translate(0.2 -0.5)"/>
<path d="M71.2 463.4 L83.9 469.3 L96.6 475.2 L109.4 481 L122.3 486.6 L135.2 492 L148.3 497.2 L161.4 502.2 L174.5 507.3 L187.6 512.5 L200.6 517.9 L213.4 523.5 L226.2 529.3 L238.9 535.2 L251.7 541.1 L264.5 546.8 L277.4 552.4 L290.4 557.7 L303.5 562.8 L316.6 567.9 L329.7 573 L342.8 578.2 L355.7 583.7 L368.5 589.3 L381.3 595.2 L394 601.1 L406.8 607 L419.6 612.7 L432.5 618.1 L445.5 623.4 L458.6 628.5 L471.8 633.6 L484.9 638.7 L497.9 644 L510.8 649.5 L523.6 655.2 L536.4 661.1 L549.1 667 L561.8 672.8 L574.7 678.5 L587.6 683.9" stroke="#cfc248" stroke-width="2.5" fill="none" stroke-linejoin="round"/>
<path d="M71.2 463.4 L83.9 469.3 L96.6 475.2 L109.4 481 L122.3 486.6 L135.2 492 L148.3 497.2 L161.4 502.2 L174.5 507.3 L187.6 512.5 L200.6 517.9 L213.4 523.5 L226.2 529.3 L238.9 535.2 L251.7 541.1 L264.5 546.8 L277.4 552.4 L290.4 557.7 L303.5 562.8 L316.6 567.9 L329.7 573 L342.8 578.2 L355.7 583.7 L368.5 589.3 L381.3 595.2 L394 601.1 L406.8 607 L419.6 612.7 L432.5 618.1 L445.5 623.4 L458.6 628.5 L471.8 633.6 L484.9 638.7 L497.9 644 L510.8 649.5 L523.6 655.2 L536.4 661.1 L549.1 667 L561.8 672.8 L574.7 678.5 L587.6 683.9" stroke="#f6f0b0" stroke-width="0.8" fill="none" opacity="0.45" transform="translate(0.2 -0.5)"/>
<path d="M69.6 466.8 L82.6 471.9 L95.6 477.3 L108.5 482.8 L121.4 488.5 L134.1 494.3 L146.9 500.1 L159.7 505.8 L172.6 511.4 L185.5 516.9 L198.5 522.2 L211.6 527.3 L224.7 532.4 L237.9 537.4 L251 542.5 L264 547.7 L277 553.1 L289.9 558.6 L302.7 564.3 L315.5 570.1 L328.3 575.9 L341.1 581.6 L353.9 587.2 L366.9 592.7 L379.9 597.9 L393 603.1 L406.1 608.1 L419.3 613.1 L432.4 618.2 L445.4 623.5 L458.4 628.8 L471.3 634.4 L484.1 640.1 L496.9 645.9 L509.6 651.7 L522.5 657.4 L535.3 663 L548.3 668.4 L561.3 673.7 L574.4 678.8 L587.5 683.8" stroke="#dcd05a" stroke-width="2.2" fill="none" stroke-linejoin="round"/>
<path d="M69.6 466.8 L82.6 471.9 L95.6 477.3 L108.5 482.8 L121.4 488.5 L134.1 494.3 L146.9 500.1 L159.7 505.8 L172.6 511.4 L185.5 516.9 L198.5 522.2 L211.6 527.3 L224.7 532.4 L237.9 537.4 L251 542.5 L264 547.7 L277 553.1 L289.9 558.6 L302.7 564.3 L315.5 570.1 L328.3 575.9 L341.1 581.6 L353.9 587.2 L366.9 592.7 L379.9 597.9 L393 603.1 L406.1 608.1 L419.3 613.1 L432.4 618.2 L445.4 623.5 L458.4 628.8 L471.3 634.4 L484.1 640.1 L496.9 645.9 L509.6 651.7 L522.5 657.4 L535.3 663 L548.3 668.4 L561.3 673.7 L574.4 678.8 L587.5 683.8" stroke="#f6f0b0" stroke-width="0.7" fill="none" opacity="0.45" transform="translate(0.2 -0.4)"/>
<path d="M67.5 471.1 L80.5 476.4 L93.6 481.5 L106.8 486.6 L119.9 491.6 L133 496.7 L146 502.1 L158.9 507.5 L171.8 513.2 L184.6 518.9 L197.4 524.5 L210.3 530.1 L223.3 535.5 L236.3 540.7 L249.4 545.8 L262.5 550.8 L275.7 555.9 L288.7 561.1 L301.7 566.4 L314.6 572 L327.4 577.6 L340.2 583.3 L353.1 589 L366 594.5 L379 599.8 L392.1 605 L405.2 610 L418.3 615.1 L431.4 620.2 L444.4 625.4 L457.4 630.8 L470.2 636.4 L483.1 642.1 L495.9 647.8 L508.8 653.4 L521.7 658.8 L534.7 664.1 L547.8 669.2 L560.9 674.3 L574.1 679.3 L587.1 684.5" stroke="#cfc248" stroke-width="2.5" fill="none" stroke-linejoin="round"/>
<path d="M67.5 471.1 L80.5 476.4 L93.6 481.5 L106.8 486.6 L119.9 491.6 L133 496.7 L146 502.1 L158.9 507.5 L171.8 513.2 L184.6 518.9 L197.4 524.5 L210.3 530.1 L223.3 535.5 L236.3 540.7 L249.4 545.8 L262.5 550.8 L275.7 555.9 L288.7 561.1 L301.7 566.4 L314.6 572 L327.4 577.6 L340.2 583.3 L353.1 589 L366 594.5 L379 599.8 L392.1 605 L405.2 610 L418.3 615.1 L431.4 620.2 L444.4 625.4 L457.4 630.8 L470.2 636.4 L483.1 642.1 L495.9 647.8 L508.8 653.4 L521.7 658.8 L534.7 664.1 L547.8 669.2 L560.9 674.3 L574.1 679.3 L587.1 684.5" stroke="#f6f0b0" stroke-width="0.8" fill="none" opacity="0.45" transform="translate(0.2 -0.5)"/>
<path d="M100.6 459.5 L545.5 668.7 L556.5 645.2 L111.4 436.5 A9.7 12.7 25.2 0 0 100.6 459.5 Z" fill="url(#gy1)"/>
<polygon points="84.2,423.7 124.4,437 125.6,476.7 73.4,446.7" fill="#0b0b0b" opacity="0.86" filter="url(#fy1)"/>
<path d="M100.6 459.5 L545.5 668.7 L556.5 645.2 L111.4 436.5 A9.7 12.7 25.2 0 0 100.6 459.5 Z" fill="url(#hy1)"/>
</g>
<line x1="553" y1="646.8" x2="556.1" y2="648.3" stroke="#d4c850" stroke-width="3"/>
<ellipse cx="556.1" cy="648.3" rx="1.1" ry="1.5" fill="#a88a58" stroke="#6a621e" stroke-width="0.5" transform="rotate(25.2 556.1 648.3)"/>
<line x1="551.6" y1="649.9" x2="555.5" y2="651.7" stroke="#cfc248" stroke-width="3"/>
<ellipse cx="555.5" cy="651.7" rx="1.1" ry="1.5" fill="#a88a58" stroke="#6a621e" stroke-width="0.5" transform="rotate(25.2 555.5 651.7)"/>
<line x1="550.2" y1="652.9" x2="552.7" y2="654.1" stroke="#cfc248" stroke-width="3"/>
<ellipse cx="552.7" cy="654.1" rx="1.1" ry="1.5" fill="#a88a58" stroke="#6a621e" stroke-width="0.5" transform="rotate(25.2 552.7 654.1)"/>
<line x1="548.7" y1="655.9" x2="553.6" y2="658.2" stroke="#e6dc74" stroke-width="3"/>
<ellipse cx="553.6" cy="658.2" rx="1.1" ry="1.5" fill="#a88a58" stroke="#6a621e" stroke-width="0.5" transform="rotate(25.2 553.6 658.2)"/>
<line x1="547.3" y1="658.9" x2="551.5" y2="660.9" stroke="#d4c850" stroke-width="3"/>
<ellipse cx="551.5" cy="660.9" rx="1.1" ry="1.5" fill="#a88a58" stroke="#6a621e" stroke-width="0.5" transform="rotate(25.2 551.5 660.9)"/>
<line x1="545.9" y1="662" x2="549.9" y2="663.8" stroke="#cfc248" stroke-width="3"/>
<ellipse cx="549.9" cy="663.8" rx="1.1" ry="1.5" fill="#a88a58" stroke="#6a621e" stroke-width="0.5" transform="rotate(25.2 549.9 663.8)"/>
<line x1="544.5" y1="665" x2="548.4" y2="666.8" stroke="#dcd05a" stroke-width="3"/>
<ellipse cx="548.4" cy="666.8" rx="1.1" ry="1.5" fill="#a88a58" stroke="#6a621e" stroke-width="0.5" transform="rotate(25.2 548.4 666.8)"/>
<line x1="552.3" y1="648.3" x2="553.9" y2="649.1" stroke="#6a621e" stroke-width="3"/>
<ellipse cx="553.9" cy="649.1" rx="1.1" ry="1.5" fill="#a88a58" stroke="#6a621e" stroke-width="0.5" transform="rotate(25.2 553.9 649.1)"/>
<line x1="550.9" y1="651.4" x2="552.2" y2="652" stroke="#6a621e" stroke-width="3"/>
<ellipse cx="552.2" cy="652" rx="1.1" ry="1.5" fill="#a88a58" stroke="#6a621e" stroke-width="0.5" transform="rotate(25.2 552.2 652)"/>
<line x1="549.4" y1="654.4" x2="550.6" y2="654.9" stroke="#6a621e" stroke-width="3"/>
<ellipse cx="550.6" cy="654.9" rx="1.1" ry="1.5" fill="#a88a58" stroke="#6a621e" stroke-width="0.5" transform="rotate(25.2 550.6 654.9)"/>
<line x1="548" y1="657.4" x2="548.4" y2="657.6" stroke="#6a621e" stroke-width="3"/>
<ellipse cx="548.4" cy="657.6" rx="1.1" ry="1.5" fill="#a88a58" stroke="#6a621e" stroke-width="0.5" transform="rotate(25.2 548.4 657.6)"/>
<line x1="546.6" y1="660.4" x2="548.6" y2="661.4" stroke="#6a621e" stroke-width="3"/>
<ellipse cx="548.6" cy="661.4" rx="1.1" ry="1.5" fill="#a88a58" stroke="#6a621e" stroke-width="0.5" transform="rotate(25.2 548.6 661.4)"/>
<line x1="545.2" y1="663.5" x2="545.7" y2="663.7" stroke="#6a621e" stroke-width="3"/>
<ellipse cx="545.7" cy="663.7" rx="1.1" ry="1.5" fill="#a88a58" stroke="#6a621e" stroke-width="0.5" transform="rotate(25.2 545.7 663.7)"/>
<path d="M545.5 664 L682.5 726.5 A4.1 6 24.5 0 0 687.5 715.5 L550.5 653 A4.1 6 24.5 0 0 545.5 664 Z" fill="url(#c2)"/>
<line x1="549.8" y1="659.3" x2="683.2" y2="720.2" stroke="#c8c8c8" stroke-width="9.4" stroke-dasharray="1.3 2.4" opacity="0.32"/>
<ellipse cx="685" cy="721" rx="4.1" ry="5.5" fill="#eeeeee" stroke="#d6d6d6" stroke-width="1" transform="rotate(24.5 685 721)"/>
<g clip-path="url(#bl3)">
<path d="M389.2 633.9 L586.1 727.1 L597.9 702.9 L402.8 606.1 A11.8 15.5 25.9 0 0 389.2 633.9 Z" fill="#0a1a3a"/>
<path d="M388.8 577.6 L401.7 583.9 L414.4 590.8 L426.7 598.3 L438.9 606.1 L451.1 613.8 L463.6 621 L476.3 627.6 L489.3 633.8 L502.3 640 L515 646.7 L527.4 654 L539.6 661.7 L551.8 669.5 L564.2 676.9 L576.9 683.7 L589.8 690 L602.8 696.1 L615.6 702.6 L628.2 709.7 L640.4 717.3" stroke="#193e7c" stroke-width="2.7" fill="none" stroke-linejoin="round"/>
<path d="M388.8 577.6 L401.7 583.9 L414.4 590.8 L426.7 598.3 L438.9 606.1 L451.1 613.8 L463.6 621 L476.3 627.6 L489.3 633.8 L502.3 640 L515 646.7 L527.4 654 L539.6 661.7 L551.8 669.5 L564.2 676.9 L576.9 683.7 L589.8 690 L602.8 696.1 L615.6 702.6 L628.2 709.7 L640.4 717.3" stroke="#74a0e0" stroke-width="0.9" fill="none" opacity="0.45" transform="translate(0.2 -0.5)"/>
<path d="M387.2 580.9 L399.8 587.9 L412.2 595.3 L424.4 603 L436.6 610.7 L448.9 618.4 L461.3 625.7 L473.8 632.7 L486.6 639.3 L499.4 645.8 L512.2 652.3 L524.9 659.1 L537.4 666.2 L549.7 673.7 L561.9 681.4 L574.1 689.1 L586.4 696.7 L598.8 704 L611.4 710.9 L624.2 717.5 L637 724" stroke="#2f65b6" stroke-width="3.1" fill="none" stroke-linejoin="round"/>
<path d="M387.2 580.9 L399.8 587.9 L412.2 595.3 L424.4 603 L436.6 610.7 L448.9 618.4 L461.3 625.7 L473.8 632.7 L486.6 639.3 L499.4 645.8 L512.2 652.3 L524.9 659.1 L537.4 666.2 L549.7 673.7 L561.9 681.4 L574.1 689.1 L586.4 696.7 L598.8 704 L611.4 710.9 L624.2 717.5 L637 724" stroke="#74a0e0" stroke-width="1" fill="none" opacity="0.45" transform="translate(0.3 -0.6)"/>
<path d="M384.6 586.3 L397 593.7 L409.4 601 L421.9 608.1 L434.5 615.2 L447.1 622 L459.7 628.8 L472.4 635.7 L485 642.6 L497.5 649.6 L510 656.8 L522.4 664.1 L534.8 671.6 L547.1 679 L559.5 686.3 L572 693.5 L584.6 700.5 L597.2 707.4 L609.8 714.2 L622.5 721.1 L635.1 727.9" stroke="#3d74c4" stroke-width="3.2" fill="none" stroke-linejoin="round"/>
<path d="M384.6 586.3 L397 593.7 L409.4 601 L421.9 608.1 L434.5 615.2 L447.1 622 L459.7 628.8 L472.4 635.7 L485 642.6 L497.5 649.6 L510 656.8 L522.4 664.1 L534.8 671.6 L547.1 679 L559.5 686.3 L572 693.5 L584.6 700.5 L597.2 707.4 L609.8 714.2 L622.5 721.1 L635.1 727.9" stroke="#74a0e0" stroke-width="1" fill="none" opacity="0.45" transform="translate(0.3 -0.6)"/>
<path d="M382.6 590.4 L395 597.7 L407.5 605 L419.9 612.2 L432.5 619.2 L445.1 626.1 L457.8 632.9 L470.5 639.6 L483.2 646.4 L495.8 653.2 L508.4 660.2 L521 667.3 L533.4 674.5 L545.8 681.8 L558.3 689.1 L570.7 696.4 L583.2 703.6 L595.7 710.7 L608.3 717.7 L620.9 724.5 L633.6 731.3" stroke="#2455a2" stroke-width="2.9" fill="none" stroke-linejoin="round"/>
<path d="M382.6 590.4 L395 597.7 L407.5 605 L419.9 612.2 L432.5 619.2 L445.1 626.1 L457.8 632.9 L470.5 639.6 L483.2 646.4 L495.8 653.2 L508.4 660.2 L521 667.3 L533.4 674.5 L545.8 681.8 L558.3 689.1 L570.7 696.4 L583.2 703.6 L595.7 710.7 L608.3 717.7 L620.9 724.5 L633.6 731.3" stroke="#74a0e0" stroke-width="0.9" fill="none" opacity="0.45" transform="translate(0.3 -0.5)"/>
<path d="M380.5 594.9 L393.2 601.4 L406 608.1 L418.6 614.9 L431.1 622.1 L443.5 629.4 L455.8 637 L468.1 644.6 L480.4 652.1 L492.8 659.4 L505.3 666.5 L518 673.2 L530.8 679.8 L543.6 686.4 L556.3 693.1 L568.9 700 L581.4 707.2 L593.7 714.6 L606 722.2 L618.3 729.8 L630.6 737.3" stroke="#3d74c4" stroke-width="3.2" fill="none" stroke-linejoin="round"/>
<path d="M380.5 594.9 L393.2 601.4 L406 608.1 L418.6 614.9 L431.1 622.1 L443.5 629.4 L455.8 637 L468.1 644.6 L480.4 652.1 L492.8 659.4 L505.3 666.5 L518 673.2 L530.8 679.8 L543.6 686.4 L556.3 693.1 L568.9 700 L581.4 707.2 L593.7 714.6 L606 722.2 L618.3 729.8 L630.6 737.3" stroke="#74a0e0" stroke-width="1" fill="none" opacity="0.45" transform="translate(0.3 -0.6)"/>
<path d="M378.1 599.6 L390.7 606.6 L403.4 613.4 L416.2 620 L428.9 626.6 L441.7 633.3 L454.3 640.1 L466.8 647.3 L479.2 654.6 L491.5 662.1 L503.8 669.7 L516.2 677.1 L528.6 684.3 L541.2 691.3 L553.9 698.1 L566.6 704.7 L579.4 711.3 L592.1 718 L604.8 724.8 L617.3 732 L629.7 739.3" stroke="#204b92" stroke-width="2.5" fill="none" stroke-linejoin="round"/>
<path d="M378.1 599.6 L390.7 606.6 L403.4 613.4 L416.2 620 L428.9 626.6 L441.7 633.3 L454.3 640.1 L466.8 647.3 L479.2 654.6 L491.5 662.1 L503.8 669.7 L516.2 677.1 L528.6 684.3 L541.2 691.3 L553.9 698.1 L566.6 704.7 L579.4 711.3 L592.1 718 L604.8 724.8 L617.3 732 L629.7 739.3" stroke="#74a0e0" stroke-width="0.8" fill="none" opacity="0.45" transform="translate(0.2 -0.5)"/>
<path d="M376.3 603.5 L388.9 610.3 L401.6 617 L414.4 623.7 L427 630.5 L439.7 637.3 L452.3 644.3 L464.8 651.4 L477.2 658.7 L489.6 666 L502 673.4 L514.4 680.8 L526.8 688.2 L539.2 695.4 L551.7 702.5 L564.3 709.5 L577 716.3 L589.7 723.1 L602.4 729.8 L615.1 736.5 L627.7 743.3" stroke="#204b92" stroke-width="3" fill="none" stroke-linejoin="round"/>
<path d="M376.3 603.5 L388.9 610.3 L401.6 617 L414.4 623.7 L427 630.5 L439.7 637.3 L452.3 644.3 L464.8 651.4 L477.2 658.7 L489.6 666 L502 673.4 L514.4 680.8 L526.8 688.2 L539.2 695.4 L551.7 702.5 L564.3 709.5 L577 716.3 L589.7 723.1 L602.4 729.8 L615.1 736.5 L627.7 743.3" stroke="#74a0e0" stroke-width="0.9" fill="none" opacity="0.45" transform="translate(0.3 -0.5)"/>
<path d="M374.6 606.9 L387.4 613.5 L400.2 620.1 L412.9 626.8 L425.5 633.7 L438 640.9 L450.4 648.2 L462.7 655.7 L475 663.3 L487.3 670.9 L499.6 678.3 L512.1 685.4 L524.7 692.4 L537.4 699.1 L550.2 705.8 L562.9 712.3 L575.7 718.9 L588.4 725.7 L600.9 732.7 L613.4 740 L625.7 747.4" stroke="#204b92" stroke-width="2.6" fill="none" stroke-linejoin="round"/>
<path d="M374.6 606.9 L387.4 613.5 L400.2 620.1 L412.9 626.8 L425.5 633.7 L438 640.9 L450.4 648.2 L462.7 655.7 L475 663.3 L487.3 670.9 L499.6 678.3 L512.1 685.4 L524.7 692.4 L537.4 699.1 L550.2 705.8 L562.9 712.3 L575.7 718.9 L588.4 725.7 L600.9 732.7 L613.4 740 L625.7 747.4" stroke="#74a0e0" stroke-width="0.8" fill="none" opacity="0.45" transform="translate(0.2 -0.5)"/>
<path d="M372.9 610.5 L385.3 617.8 L397.7 625.2 L410.1 632.5 L422.5 639.8 L435.1 646.9 L447.6 653.8 L460.3 660.7 L473 667.4 L485.7 674.1 L498.4 680.8 L511.1 687.5 L523.8 694.4 L536.3 701.5 L548.8 708.6 L561.2 715.9 L573.6 723.3 L586 730.7 L598.4 738 L610.9 745.2 L623.4 752.3" stroke="#193e7c" stroke-width="2.6" fill="none" stroke-linejoin="round"/>
<path d="M372.9 610.5 L385.3 617.8 L397.7 625.2 L410.1 632.5 L422.5 639.8 L435.1 646.9 L447.6 653.8 L460.3 660.7 L473 667.4 L485.7 674.1 L498.4 680.8 L511.1 687.5 L523.8 694.4 L536.3 701.5 L548.8 708.6 L561.2 715.9 L573.6 723.3 L586 730.7 L598.4 738 L610.9 745.2 L623.4 752.3" stroke="#74a0e0" stroke-width="0.8" fill="none" opacity="0.45" transform="translate(0.2 -0.5)"/>
<path d="M370.3 615.8 L383.1 622.4 L395.9 628.9 L408.6 635.6 L421.1 642.7 L433.5 650 L445.9 657.5 L458.2 665 L470.7 672.2 L483.3 679 L496.1 685.6 L508.9 692.2 L521.6 699 L534.1 706 L546.5 713.4 L558.8 720.9 L571.2 728.4 L583.6 735.5 L596.3 742.3 L609.1 748.9 L621.9 755.5" stroke="#204b92" stroke-width="3.2" fill="none" stroke-linejoin="round"/>
<path d="M370.3 615.8 L383.1 622.4 L395.9 628.9 L408.6 635.6 L421.1 642.7 L433.5 650 L445.9 657.5 L458.2 665 L470.7 672.2 L483.3 679 L496.1 685.6 L508.9 692.2 L521.6 699 L534.1 706 L546.5 713.4 L558.8 720.9 L571.2 728.4 L583.6 735.5 L596.3 742.3 L609.1 748.9 L621.9 755.5" stroke="#74a0e0" stroke-width="1" fill="none" opacity="0.45" transform="translate(0.3 -0.6)"/>
<path d="M368.4 619.8 L381.2 626.3 L393.9 632.9 L406.6 639.8 L419 647 L431.4 654.5 L443.7 661.9 L456.2 669.2 L468.8 676.1 L481.6 682.7 L494.4 689.2 L507.2 695.8 L519.8 702.6 L532.3 709.8 L544.7 717.3 L557 724.7 L569.4 732 L582 739 L594.7 745.7 L607.6 752.2 L620.4 758.7" stroke="#2455a2" stroke-width="3.2" fill="none" stroke-linejoin="round"/>
<path d="M368.4 619.8 L381.2 626.3 L393.9 632.9 L406.6 639.8 L419 647 L431.4 654.5 L443.7 661.9 L456.2 669.2 L468.8 676.1 L481.6 682.7 L494.4 689.2 L507.2 695.8 L519.8 702.6 L532.3 709.8 L544.7 717.3 L557 724.7 L569.4 732 L582 739 L594.7 745.7 L607.6 752.2 L620.4 758.7" stroke="#74a0e0" stroke-width="1" fill="none" opacity="0.45" transform="translate(0.3 -0.6)"/>
<path d="M367.1 622.5 L379.6 629.5 L392.1 636.7 L404.5 644 L416.9 651.4 L429.3 658.8 L441.7 666.1 L454.2 673.3 L466.8 680.3 L479.4 687.1 L492.2 693.7 L504.9 700.4 L517.7 707 L530.4 713.7 L543 720.6 L555.6 727.7 L568 734.9 L580.4 742.3 L592.8 749.7 L605.2 757.1 L617.6 764.4" stroke="#3d74c4" stroke-width="2.8" fill="none" stroke-linejoin="round"/>
<path d="M367.1 622.5 L379.6 629.5 L392.1 636.7 L404.5 644 L416.9 651.4 L429.3 658.8 L441.7 666.1 L454.2 673.3 L466.8 680.3 L479.4 687.1 L492.2 693.7 L504.9 700.4 L517.7 707 L530.4 713.7 L543 720.6 L555.6 727.7 L568 734.9 L580.4 742.3 L592.8 749.7 L605.2 757.1 L617.6 764.4" stroke="#74a0e0" stroke-width="0.9" fill="none" opacity="0.45" transform="translate(0.2 -0.5)"/>
<path d="M364.6 627.6 L377 634.9 L389.5 642.2 L401.9 649.3 L414.5 656.4 L427.1 663.3 L439.7 670.2 L452.4 677 L465 683.9 L477.6 690.7 L490.2 697.7 L502.8 704.7 L515.3 711.8 L527.8 719 L540.2 726.3 L552.6 733.6 L565 740.9 L577.5 748.2 L589.9 755.4 L602.5 762.5 L615 769.5" stroke="#193e7c" stroke-width="2.5" fill="none" stroke-linejoin="round"/>
<path d="M364.6 627.6 L377 634.9 L389.5 642.2 L401.9 649.3 L414.5 656.4 L427.1 663.3 L439.7 670.2 L452.4 677 L465 683.9 L477.6 690.7 L490.2 697.7 L502.8 704.7 L515.3 711.8 L527.8 719 L540.2 726.3 L552.6 733.6 L565 740.9 L577.5 748.2 L589.9 755.4 L602.5 762.5 L615 769.5" stroke="#74a0e0" stroke-width="0.8" fill="none" opacity="0.45" transform="translate(0.2 -0.5)"/>
<path d="M362.4 632.2 L375.1 638.8 L387.8 645.5 L400.6 652.2 L413.2 659 L425.7 666.1 L438.2 673.3 L450.6 680.7 L462.9 688.2 L475.2 695.7 L487.6 703 L500.1 710.3 L512.6 717.3 L525.3 724.2 L538 730.9 L550.7 737.5 L563.5 744.2 L576.1 751 L588.7 757.9 L601.2 765.1 L613.6 772.4" stroke="#193e7c" stroke-width="3" fill="none" stroke-linejoin="round"/>
<path d="M362.4 632.2 L375.1 638.8 L387.8 645.5 L400.6 652.2 L413.2 659 L425.7 666.1 L438.2 673.3 L450.6 680.7 L462.9 688.2 L475.2 695.7 L487.6 703 L500.1 710.3 L512.6 717.3 L525.3 724.2 L538 730.9 L550.7 737.5 L563.5 744.2 L576.1 751 L588.7 757.9 L601.2 765.1 L613.6 772.4" stroke="#74a0e0" stroke-width="0.9" fill="none" opacity="0.45" transform="translate(0.3 -0.5)"/>
<path d="M361.1 634.8 L373.7 641.8 L386.1 649.1 L398.4 656.6 L410.7 664.2 L423.1 671.5 L435.7 678.4 L448.5 685 L461.2 691.6 L473.8 698.5 L486.3 705.8 L498.6 713.4 L510.9 720.9 L523.3 728.3 L535.9 735.2 L548.6 741.8 L561.4 748.4 L574 755.3 L586.4 762.6 L598.7 770.1 L611 777.7" stroke="#193e7c" stroke-width="2.7" fill="none" stroke-linejoin="round"/>
<path d="M361.1 634.8 L373.7 641.8 L386.1 649.1 L398.4 656.6 L410.7 664.2 L423.1 671.5 L435.7 678.4 L448.5 685 L461.2 691.6 L473.8 698.5 L486.3 705.8 L498.6 713.4 L510.9 720.9 L523.3 728.3 L535.9 735.2 L548.6 741.8 L561.4 748.4 L574 755.3 L586.4 762.6 L598.7 770.1 L611 777.7" stroke="#74a0e0" stroke-width="0.9" fill="none" opacity="0.45" transform="translate(0.2 -0.5)"/>
<path d="M389.2 633.9 L586.1 727.1 L597.9 702.9 L402.8 606.1 A11.8 15.5 25.9 0 0 389.2 633.9 Z" fill="url(#gbl3)"/>
<path d="M389.2 633.9 L586.1 727.1 L597.9 702.9 L402.8 606.1 A11.8 15.5 25.9 0 0 389.2 633.9 Z" fill="url(#dbl3)"/>
</g>
<line x1="594.3" y1="704.5" x2="598.4" y2="706.5" stroke="#193e7c" stroke-width="3.1"/>
<ellipse cx="598.4" cy="706.5" rx="1.1" ry="1.5" fill="#e0ab92" stroke="#0a1a3a" stroke-width="0.5" transform="rotate(25.9 598.4 706.5)"/>
<line x1="592.8" y1="707.7" x2="597.8" y2="710.1" stroke="#2f65b6" stroke-width="3.1"/>
<ellipse cx="597.8" cy="710.1" rx="1.1" ry="1.5" fill="#e0ab92" stroke="#0a1a3a" stroke-width="0.5" transform="rotate(25.9 597.8 710.1)"/>
<line x1="591.3" y1="710.8" x2="594.1" y2="712.2" stroke="#3d74c4" stroke-width="3.1"/>
<ellipse cx="594.1" cy="712.2" rx="1.1" ry="1.5" fill="#e0ab92" stroke="#0a1a3a" stroke-width="0.5" transform="rotate(25.9 594.1 712.2)"/>
<line x1="589.8" y1="713.9" x2="592.7" y2="715.4" stroke="#2455a2" stroke-width="3.1"/>
<ellipse cx="592.7" cy="715.4" rx="1.1" ry="1.5" fill="#e0ab92" stroke="#0a1a3a" stroke-width="0.5" transform="rotate(25.9 592.7 715.4)"/>
<line x1="588.2" y1="717" x2="592.7" y2="719.2" stroke="#204b92" stroke-width="3.1"/>
<ellipse cx="592.7" cy="719.2" rx="1.1" ry="1.5" fill="#e0ab92" stroke="#0a1a3a" stroke-width="0.5" transform="rotate(25.9 592.7 719.2)"/>
<line x1="586.7" y1="720.2" x2="591" y2="722.2" stroke="#2f65b6" stroke-width="3.1"/>
<ellipse cx="591" cy="722.2" rx="1.1" ry="1.5" fill="#e0ab92" stroke="#0a1a3a" stroke-width="0.5" transform="rotate(25.9 591 722.2)"/>
<line x1="585.2" y1="723.3" x2="588.1" y2="724.7" stroke="#193e7c" stroke-width="3.1"/>
<ellipse cx="588.1" cy="724.7" rx="1.1" ry="1.5" fill="#e0ab92" stroke="#0a1a3a" stroke-width="0.5" transform="rotate(25.9 588.1 724.7)"/>
<line x1="593.5" y1="706.1" x2="595.4" y2="707" stroke="#0a1a3a" stroke-width="3.1"/>
<ellipse cx="595.4" cy="707" rx="1.1" ry="1.5" fill="#e0ab92" stroke="#0a1a3a" stroke-width="0.5" transform="rotate(25.9 595.4 707)"/>
<line x1="592" y1="709.2" x2="595" y2="710.7" stroke="#0a1a3a" stroke-width="3.1"/>
<ellipse cx="595" cy="710.7" rx="1.1" ry="1.5" fill="#e0ab92" stroke="#0a1a3a" stroke-width="0.5" transform="rotate(25.9 595 710.7)"/>
<line x1="590.5" y1="712.3" x2="592.2" y2="713.2" stroke="#0a1a3a" stroke-width="3.1"/>
<ellipse cx="592.2" cy="713.2" rx="1.1" ry="1.5" fill="#e0ab92" stroke="#0a1a3a" stroke-width="0.5" transform="rotate(25.9 592.2 713.2)"/>
<line x1="589" y1="715.5" x2="592.1" y2="717" stroke="#0a1a3a" stroke-width="3.1"/>
<ellipse cx="592.1" cy="717" rx="1.1" ry="1.5" fill="#e0ab92" stroke="#0a1a3a" stroke-width="0.5" transform="rotate(25.9 592.1 717)"/>
<line x1="587.5" y1="718.6" x2="588.2" y2="718.9" stroke="#0a1a3a" stroke-width="3.1"/>
<ellipse cx="588.2" cy="718.9" rx="1.1" ry="1.5" fill="#e0ab92" stroke="#0a1a3a" stroke-width="0.5" transform="rotate(25.9 588.2 718.9)"/>
<line x1="586" y1="721.7" x2="588.7" y2="723" stroke="#0a1a3a" stroke-width="3.1"/>
<ellipse cx="588.7" cy="723" rx="1.1" ry="1.5" fill="#e0ab92" stroke="#0a1a3a" stroke-width="0.5" transform="rotate(25.9 588.7 723)"/>
<path d="M589.4 720.4 L699.4 772.4 A4.1 6 25.3 0 0 704.6 761.6 L594.6 709.6 A4.1 6 25.3 0 0 589.4 720.4 Z" fill="url(#c4)"/>
<line x1="593.8" y1="715.9" x2="700.2" y2="766.1" stroke="#c8c8c8" stroke-width="9.4" stroke-dasharray="1.3 2.4" opacity="0.32"/>
<ellipse cx="702" cy="767" rx="4.1" ry="5.5" fill="#eeeeee" stroke="#d6d6d6" stroke-width="1" transform="rotate(25.3 702 767)"/>
<g clip-path="url(#r5)">
<path d="M75.1 476.4 L403 635.2 L415 610 L84.9 455.6 A8.7 11.5 25.5 0 0 75.1 476.4 Z" fill="#b4444a"/>
<path d="M71.2 426.4 L84 432.1 L96.8 437.7 L109.8 443 L122.8 448.2 L135.9 453.2 L149.1 458.3 L162.1 463.3 L175.2 468.5 L188.1 473.9 L201 479.5 L213.7 485.3 L226.4 491.2 L239.1 497.2 L251.7 503.1 L264.5 509 L277.3 514.6 L290.2 520.1 L303.2 525.3 L316.3 530.5 L329.4 535.5 L342.5 540.5 L355.6 545.6 L368.5 550.9 L381.4 556.4 L394.2 562.1 L407 567.9 L419.6 573.9 L432.3 579.8 L445 585.8 L457.7 591.5 L470.6 597.1" stroke="#ee7a78" stroke-width="2.3" fill="none" stroke-linejoin="round"/>
<path d="M71.2 426.4 L84 432.1 L96.8 437.7 L109.8 443 L122.8 448.2 L135.9 453.2 L149.1 458.3 L162.1 463.3 L175.2 468.5 L188.1 473.9 L201 479.5 L213.7 485.3 L226.4 491.2 L239.1 497.2 L251.7 503.1 L264.5 509 L277.3 514.6 L290.2 520.1 L303.2 525.3 L316.3 530.5 L329.4 535.5 L342.5 540.5 L355.6 545.6 L368.5 550.9 L381.4 556.4 L394.2 562.1 L407 567.9 L419.6 573.9 L432.3 579.8 L445 585.8 L457.7 591.5 L470.6 597.1" stroke="#fab0aa" stroke-width="0.7" fill="none" opacity="0.45" transform="translate(0.2 -0.4)"/>
<path d="M71.2 426.4 L84 432.1 L96.8 437.7 L109.8 443 L122.8 448.2 L135.9 453.2 L149.1 458.3 L162.1 463.3 L175.2 468.5 L188.1 473.9 L201 479.5 L213.7 485.3 L226.4 491.2 L239.1 497.2 L251.7 503.1 L264.5 509 L277.3 514.6 L290.2 520.1 L303.2 525.3 L316.3 530.5 L329.4 535.5 L342.5 540.5 L355.6 545.6 L368.5 550.9 L381.4 556.4 L394.2 562.1 L407 567.9 L419.6 573.9 L432.3 579.8 L445 585.8 L457.7 591.5 L470.6 597.1" stroke="#bd454a" stroke-width="2.3" fill="none" stroke-dasharray="1.2 1.6" stroke-dashoffset="1.4" opacity="0.45"/>
<path d="M70.3 428.3 L83 434.2 L95.6 440.2 L108.3 446.2 L121 452.1 L133.8 457.8 L146.6 463.3 L159.6 468.6 L172.7 473.7 L185.8 478.7 L198.9 483.9 L211.9 489.1 L224.8 494.6 L237.6 500.3 L250.3 506.3 L262.9 512.3 L275.6 518.2 L288.3 524.1 L301.1 529.7 L314.1 535.1 L327.1 540.3 L340.2 545.3 L353.3 550.4 L366.3 555.6 L379.3 561 L392.1 566.6 L404.9 572.4 L417.5 578.4 L430.2 584.4 L442.9 590.3 L455.6 596 L468.5 601.6" stroke="#f28884" stroke-width="2.6" fill="none" stroke-linejoin="round"/>
<path d="M70.3 428.3 L83 434.2 L95.6 440.2 L108.3 446.2 L121 452.1 L133.8 457.8 L146.6 463.3 L159.6 468.6 L172.7 473.7 L185.8 478.7 L198.9 483.9 L211.9 489.1 L224.8 494.6 L237.6 500.3 L250.3 506.3 L262.9 512.3 L275.6 518.2 L288.3 524.1 L301.1 529.7 L314.1 535.1 L327.1 540.3 L340.2 545.3 L353.3 550.4 L366.3 555.6 L379.3 561 L392.1 566.6 L404.9 572.4 L417.5 578.4 L430.2 584.4 L442.9 590.3 L455.6 596 L468.5 601.6" stroke="#fab0aa" stroke-width="0.8" fill="none" opacity="0.45" transform="translate(0.2 -0.5)"/>
<path d="M70.3 428.3 L83 434.2 L95.6 440.2 L108.3 446.2 L121 452.1 L133.8 457.8 L146.6 463.3 L159.6 468.6 L172.7 473.7 L185.8 478.7 L198.9 483.9 L211.9 489.1 L224.8 494.6 L237.6 500.3 L250.3 506.3 L262.9 512.3 L275.6 518.2 L288.3 524.1 L301.1 529.7 L314.1 535.1 L327.1 540.3 L340.2 545.3 L353.3 550.4 L366.3 555.6 L379.3 561 L392.1 566.6 L404.9 572.4 L417.5 578.4 L430.2 584.4 L442.9 590.3 L455.6 596 L468.5 601.6" stroke="#bd454a" stroke-width="2.6" fill="none" stroke-dasharray="1.2 1.6" stroke-dashoffset="1" opacity="0.45"/>
<path d="M68.7 431.6 L81.6 437.2 L94.3 443 L107 448.9 L119.6 454.9 L132.3 460.9 L145 466.8 L157.8 472.5 L170.7 478 L183.6 483.3 L196.7 488.5 L209.8 493.5 L222.9 498.6 L235.9 503.8 L248.9 509.2 L261.7 514.8 L274.5 520.6 L287.1 526.5 L299.8 532.6 L312.4 538.6 L325.1 544.4 L338 550.1 L350.9 555.6 L363.9 560.8 L376.9 565.9 L390 571 L403.1 576.1 L416.1 581.3 L429.1 586.8 L441.9 592.4 L454.6 598.2 L467.3 604.2" stroke="#e46868" stroke-width="2.7" fill="none" stroke-linejoin="round"/>
<path d="M68.7 431.6 L81.6 437.2 L94.3 443 L107 448.9 L119.6 454.9 L132.3 460.9 L145 466.8 L157.8 472.5 L170.7 478 L183.6 483.3 L196.7 488.5 L209.8 493.5 L222.9 498.6 L235.9 503.8 L248.9 509.2 L261.7 514.8 L274.5 520.6 L287.1 526.5 L299.8 532.6 L312.4 538.6 L325.1 544.4 L338 550.1 L350.9 555.6 L363.9 560.8 L376.9 565.9 L390 571 L403.1 576.1 L416.1 581.3 L429.1 586.8 L441.9 592.4 L454.6 598.2 L467.3 604.2" stroke="#fab0aa" stroke-width="0.9" fill="none" opacity="0.45" transform="translate(0.2 -0.5)"/>
<path d="M68.7 431.6 L81.6 437.2 L94.3 443 L107 448.9 L119.6 454.9 L132.3 460.9 L145 466.8 L157.8 472.5 L170.7 478 L183.6 483.3 L196.7 488.5 L209.8 493.5 L222.9 498.6 L235.9 503.8 L248.9 509.2 L261.7 514.8 L274.5 520.6 L287.1 526.5 L299.8 532.6 L312.4 538.6 L325.1 544.4 L338 550.1 L350.9 555.6 L363.9 560.8 L376.9 565.9 L390 571 L403.1 576.1 L416.1 581.3 L429.1 586.8 L441.9 592.4 L454.6 598.2 L467.3 604.2" stroke="#bd454a" stroke-width="2.7" fill="none" stroke-dasharray="1.2 1.6" stroke-dashoffset="0.6" opacity="0.45"/>
<path d="M66.6 436 L79.2 442.1 L91.8 448.3 L104.5 454.2 L117.3 459.8 L130.3 465 L143.4 470.1 L156.6 475 L169.7 480.1 L182.7 485.4 L195.5 491.1 L208.1 497.1 L220.7 503.2 L233.3 509.3 L246 515.2 L258.9 520.7 L271.9 525.9 L285.1 530.9 L298.2 535.8 L311.3 540.9 L324.2 546.3 L337 552.1 L349.7 558.1 L362.2 564.2 L374.9 570.3 L387.6 576.1 L400.5 581.6 L413.5 586.8 L426.7 591.7 L439.8 596.7 L452.9 601.8 L465.8 607.3" stroke="#da5c60" stroke-width="2.6" fill="none" stroke-linejoin="round"/>
<path d="M66.6 436 L79.2 442.1 L91.8 448.3 L104.5 454.2 L117.3 459.8 L130.3 465 L143.4 470.1 L156.6 475 L169.7 480.1 L182.7 485.4 L195.5 491.1 L208.1 497.1 L220.7 503.2 L233.3 509.3 L246 515.2 L258.9 520.7 L271.9 525.9 L285.1 530.9 L298.2 535.8 L311.3 540.9 L324.2 546.3 L337 552.1 L349.7 558.1 L362.2 564.2 L374.9 570.3 L387.6 576.1 L400.5 581.6 L413.5 586.8 L426.7 591.7 L439.8 596.7 L452.9 601.8 L465.8 607.3" stroke="#fab0aa" stroke-width="0.8" fill="none" opacity="0.45" transform="translate(0.2 -0.5)"/>
<path d="M66.6 436 L79.2 442.1 L91.8 448.3 L104.5 454.2 L117.3 459.8 L130.3 465 L143.4 470.1 L156.6 475 L169.7 480.1 L182.7 485.4 L195.5 491.1 L208.1 497.1 L220.7 503.2 L233.3 509.3 L246 515.2 L258.9 520.7 L271.9 525.9 L285.1 530.9 L298.2 535.8 L311.3 540.9 L324.2 546.3 L337 552.1 L349.7 558.1 L362.2 564.2 L374.9 570.3 L387.6 576.1 L400.5 581.6 L413.5 586.8 L426.7 591.7 L439.8 596.7 L452.9 601.8 L465.8 607.3" stroke="#bd454a" stroke-width="2.6" fill="none" stroke-dasharray="1.2 1.6" stroke-dashoffset="2.6" opacity="0.45"/>
<path d="M64.8 439.9 L77.4 445.8 L90.2 451.7 L103 457.3 L115.9 462.7 L129 467.8 L142.1 472.8 L155.3 477.7 L168.4 482.8 L181.3 488.1 L194.1 493.8 L206.8 499.6 L219.5 505.5 L232.3 511.3 L245.2 516.8 L258.2 522 L271.3 526.9 L284.5 531.8 L297.6 536.8 L310.6 542.1 L323.5 547.6 L336.2 553.4 L348.9 559.3 L361.7 565.1 L374.5 570.7 L387.5 576.1 L400.5 581.1 L413.7 586 L426.9 591 L439.9 596.1 L452.8 601.5 L465.6 607.2" stroke="#f28884" stroke-width="2.5" fill="none" stroke-linejoin="round"/>
<path d="M64.8 439.9 L77.4 445.8 L90.2 451.7 L103 457.3 L115.9 462.7 L129 467.8 L142.1 472.8 L155.3 477.7 L168.4 482.8 L181.3 488.1 L194.1 493.8 L206.8 499.6 L219.5 505.5 L232.3 511.3 L245.2 516.8 L258.2 522 L271.3 526.9 L284.5 531.8 L297.6 536.8 L310.6 542.1 L323.5 547.6 L336.2 553.4 L348.9 559.3 L361.7 565.1 L374.5 570.7 L387.5 576.1 L400.5 581.1 L413.7 586 L426.9 591 L439.9 596.1 L452.8 601.5 L465.6 607.2" stroke="#fab0aa" stroke-width="0.8" fill="none" opacity="0.45" transform="translate(0.2 -0.4)"/>
<path d="M64.8 439.9 L77.4 445.8 L90.2 451.7 L103 457.3 L115.9 462.7 L129 467.8 L142.1 472.8 L155.3 477.7 L168.4 482.8 L181.3 488.1 L194.1 493.8 L206.8 499.6 L219.5 505.5 L232.3 511.3 L245.2 516.8 L258.2 522 L271.3 526.9 L284.5 531.8 L297.6 536.8 L310.6 542.1 L323.5 547.6 L336.2 553.4 L348.9 559.3 L361.7 565.1 L374.5 570.7 L387.5 576.1 L400.5 581.1 L413.7 586 L426.9 591 L439.9 596.1 L452.8 601.5 L465.6 607.2" stroke="#bd454a" stroke-width="2.5" fill="none" stroke-dasharray="1.2 1.6" stroke-dashoffset="0.7" opacity="0.45"/>
<path d="M62.5 444.7 L75.3 450.3 L88.2 455.8 L101.2 461.1 L114.2 466.4 L127.2 471.5 L140.3 476.7 L153.3 481.8 L166.3 487.1 L179.3 492.4 L192.2 497.9 L205 503.5 L217.8 509.2 L230.6 515 L243.3 520.8 L256.1 526.5 L268.9 532.1 L281.8 537.6 L294.8 543 L307.8 548.2 L320.8 553.4 L333.9 558.5 L346.9 563.7 L359.9 568.9 L372.9 574.2 L385.8 579.7 L398.6 585.3 L411.4 591 L424.2 596.8 L436.9 602.5 L449.7 608.3 L462.5 613.9" stroke="#e46868" stroke-width="2.4" fill="none" stroke-linejoin="round"/>
<path d="M62.5 444.7 L75.3 450.3 L88.2 455.8 L101.2 461.1 L114.2 466.4 L127.2 471.5 L140.3 476.7 L153.3 481.8 L166.3 487.1 L179.3 492.4 L192.2 497.9 L205 503.5 L217.8 509.2 L230.6 515 L243.3 520.8 L256.1 526.5 L268.9 532.1 L281.8 537.6 L294.8 543 L307.8 548.2 L320.8 553.4 L333.9 558.5 L346.9 563.7 L359.9 568.9 L372.9 574.2 L385.8 579.7 L398.6 585.3 L411.4 591 L424.2 596.8 L436.9 602.5 L449.7 608.3 L462.5 613.9" stroke="#fab0aa" stroke-width="0.8" fill="none" opacity="0.45" transform="translate(0.2 -0.4)"/>
<path d="M62.5 444.7 L75.3 450.3 L88.2 455.8 L101.2 461.1 L114.2 466.4 L127.2 471.5 L140.3 476.7 L153.3 481.8 L166.3 487.1 L179.3 492.4 L192.2 497.9 L205 503.5 L217.8 509.2 L230.6 515 L243.3 520.8 L256.1 526.5 L268.9 532.1 L281.8 537.6 L294.8 543 L307.8 548.2 L320.8 553.4 L333.9 558.5 L346.9 563.7 L359.9 568.9 L372.9 574.2 L385.8 579.7 L398.6 585.3 L411.4 591 L424.2 596.8 L436.9 602.5 L449.7 608.3 L462.5 613.9" stroke="#bd454a" stroke-width="2.4" fill="none" stroke-dasharray="1.2 1.6" stroke-dashoffset="0.4" opacity="0.45"/>
<path d="M60.8 448.1 L73.6 453.9 L86.4 459.5 L99.3 465 L112.2 470.4 L125.2 475.7 L138.3 481 L151.3 486.1 L164.3 491.3 L177.3 496.5 L190.3 501.9 L203.2 507.3 L216.1 512.8 L228.9 518.5 L241.7 524.3 L254.4 530.1 L267.1 535.9 L279.9 541.7 L292.7 547.4 L305.5 553 L318.4 558.5 L331.4 563.9 L344.4 569.1 L357.4 574.3 L370.4 579.5 L383.5 584.7 L396.5 590 L409.4 595.3 L422.3 600.8 L435.2 606.4 L448 612.1 L460.7 617.9" stroke="#f28884" stroke-width="2.9" fill="none" stroke-linejoin="round"/>
<path d="M60.8 448.1 L73.6 453.9 L86.4 459.5 L99.3 465 L112.2 470.4 L125.2 475.7 L138.3 481 L151.3 486.1 L164.3 491.3 L177.3 496.5 L190.3 501.9 L203.2 507.3 L216.1 512.8 L228.9 518.5 L241.7 524.3 L254.4 530.1 L267.1 535.9 L279.9 541.7 L292.7 547.4 L305.5 553 L318.4 558.5 L331.4 563.9 L344.4 569.1 L357.4 574.3 L370.4 579.5 L383.5 584.7 L396.5 590 L409.4 595.3 L422.3 600.8 L435.2 606.4 L448 612.1 L460.7 617.9" stroke="#fab0aa" stroke-width="0.9" fill="none" opacity="0.45" transform="translate(0.2 -0.5)"/>
<path d="M60.8 448.1 L73.6 453.9 L86.4 459.5 L99.3 465 L112.2 470.4 L125.2 475.7 L138.3 481 L151.3 486.1 L164.3 491.3 L177.3 496.5 L190.3 501.9 L203.2 507.3 L216.1 512.8 L228.9 518.5 L241.7 524.3 L254.4 530.1 L267.1 535.9 L279.9 541.7 L292.7 547.4 L305.5 553 L318.4 558.5 L331.4 563.9 L344.4 569.1 L357.4 574.3 L370.4 579.5 L383.5 584.7 L396.5 590 L409.4 595.3 L422.3 600.8 L435.2 606.4 L448 612.1 L460.7 617.9" stroke="#bd454a" stroke-width="2.9" fill="none" stroke-dasharray="1.2 1.6" stroke-dashoffset="0.7" opacity="0.45"/>
<path d="M59.4 451.1 L72.5 456.2 L85.5 461.5 L98.5 466.8 L111.3 472.3 L124.2 478 L136.9 483.7 L149.7 489.5 L162.4 495.2 L175.2 501 L188 506.6 L200.9 512.1 L213.9 517.4 L226.9 522.6 L240 527.7 L253.1 532.8 L266.2 537.9 L279.2 543 L292.2 548.3 L305.1 553.7 L318 559.3 L330.8 565 L343.5 570.7 L356.3 576.5 L369 582.3 L381.8 587.9 L394.7 593.5 L407.6 598.9 L420.6 604.2 L433.6 609.4 L446.7 614.5 L459.8 619.6" stroke="#e06266" stroke-width="2.7" fill="none" stroke-linejoin="round"/>
<path d="M59.4 451.1 L72.5 456.2 L85.5 461.5 L98.5 466.8 L111.3 472.3 L124.2 478 L136.9 483.7 L149.7 489.5 L162.4 495.2 L175.2 501 L188 506.6 L200.9 512.1 L213.9 517.4 L226.9 522.6 L240 527.7 L253.1 532.8 L266.2 537.9 L279.2 543 L292.2 548.3 L305.1 553.7 L318 559.3 L330.8 565 L343.5 570.7 L356.3 576.5 L369 582.3 L381.8 587.9 L394.7 593.5 L407.6 598.9 L420.6 604.2 L433.6 609.4 L446.7 614.5 L459.8 619.6" stroke="#fab0aa" stroke-width="0.9" fill="none" opacity="0.45" transform="translate(0.2 -0.5)"/>
<path d="M59.4 451.1 L72.5 456.2 L85.5 461.5 L98.5 466.8 L111.3 472.3 L124.2 478 L136.9 483.7 L149.7 489.5 L162.4 495.2 L175.2 501 L188 506.6 L200.9 512.1 L213.9 517.4 L226.9 522.6 L240 527.7 L253.1 532.8 L266.2 537.9 L279.2 543 L292.2 548.3 L305.1 553.7 L318 559.3 L330.8 565 L343.5 570.7 L356.3 576.5 L369 582.3 L381.8 587.9 L394.7 593.5 L407.6 598.9 L420.6 604.2 L433.6 609.4 L446.7 614.5 L459.8 619.6" stroke="#bd454a" stroke-width="2.7" fill="none" stroke-dasharray="1.2 1.6" stroke-dashoffset="0.9" opacity="0.45"/>
<path d="M57.8 454.6 L70.8 459.8 L83.8 465 L96.8 470.3 L109.7 475.8 L122.5 481.4 L135.3 487.2 L148 493 L160.7 498.9 L173.4 504.8 L186.1 510.7 L198.9 516.5 L211.7 522.1 L224.6 527.6 L237.6 532.9 L250.6 538.1 L263.7 543.3 L276.7 548.4 L289.8 553.5 L302.8 558.8 L315.8 564.1 L328.6 569.6 L341.5 575.3 L354.2 581 L366.9 586.9 L379.6 592.8 L392.3 598.7 L405 604.6 L417.8 610.3 L430.7 615.9 L443.6 621.4 L456.5 626.7" stroke="#e06266" stroke-width="2.4" fill="none" stroke-linejoin="round"/>
<path d="M57.8 454.6 L70.8 459.8 L83.8 465 L96.8 470.3 L109.7 475.8 L122.5 481.4 L135.3 487.2 L148 493 L160.7 498.9 L173.4 504.8 L186.1 510.7 L198.9 516.5 L211.7 522.1 L224.6 527.6 L237.6 532.9 L250.6 538.1 L263.7 543.3 L276.7 548.4 L289.8 553.5 L302.8 558.8 L315.8 564.1 L328.6 569.6 L341.5 575.3 L354.2 581 L366.9 586.9 L379.6 592.8 L392.3 598.7 L405 604.6 L417.8 610.3 L430.7 615.9 L443.6 621.4 L456.5 626.7" stroke="#fab0aa" stroke-width="0.8" fill="none" opacity="0.45" transform="translate(0.2 -0.4)"/>
<path d="M57.8 454.6 L70.8 459.8 L83.8 465 L96.8 470.3 L109.7 475.8 L122.5 481.4 L135.3 487.2 L148 493 L160.7 498.9 L173.4 504.8 L186.1 510.7 L198.9 516.5 L211.7 522.1 L224.6 527.6 L237.6 532.9 L250.6 538.1 L263.7 543.3 L276.7 548.4 L289.8 553.5 L302.8 558.8 L315.8 564.1 L328.6 569.6 L341.5 575.3 L354.2 581 L366.9 586.9 L379.6 592.8 L392.3 598.7 L405 604.6 L417.8 610.3 L430.7 615.9 L443.6 621.4 L456.5 626.7" stroke="#bd454a" stroke-width="2.4" fill="none" stroke-dasharray="1.2 1.6" stroke-dashoffset="1.7" opacity="0.45"/>
<path d="M55.9 458.5 L68.7 464.3 L81.5 470 L94.3 475.5 L107.3 480.8 L120.4 485.9 L133.4 491 L146.5 496.1 L159.6 501.3 L172.5 506.7 L185.4 512.2 L198.1 518 L210.9 523.8 L223.6 529.7 L236.3 535.5 L249.1 541.1 L262 546.6 L275 551.9 L288.1 557 L301.2 562.1 L314.2 567.2 L327.3 572.4 L340.2 577.8 L353.1 583.4 L365.8 589.1 L378.5 595 L391.3 600.8 L404 606.6 L416.8 612.2 L429.8 617.7 L442.8 622.9 L455.8 628.1" stroke="#e06266" stroke-width="2.2" fill="none" stroke-linejoin="round"/>
<path d="M55.9 458.5 L68.7 464.3 L81.5 470 L94.3 475.5 L107.3 480.8 L120.4 485.9 L133.4 491 L146.5 496.1 L159.6 501.3 L172.5 506.7 L185.4 512.2 L198.1 518 L210.9 523.8 L223.6 529.7 L236.3 535.5 L249.1 541.1 L262 546.6 L275 551.9 L288.1 557 L301.2 562.1 L314.2 567.2 L327.3 572.4 L340.2 577.8 L353.1 583.4 L365.8 589.1 L378.5 595 L391.3 600.8 L404 606.6 L416.8 612.2 L429.8 617.7 L442.8 622.9 L455.8 628.1" stroke="#fab0aa" stroke-width="0.7" fill="none" opacity="0.45" transform="translate(0.2 -0.4)"/>
<path d="M55.9 458.5 L68.7 464.3 L81.5 470 L94.3 475.5 L107.3 480.8 L120.4 485.9 L133.4 491 L146.5 496.1 L159.6 501.3 L172.5 506.7 L185.4 512.2 L198.1 518 L210.9 523.8 L223.6 529.7 L236.3 535.5 L249.1 541.1 L262 546.6 L275 551.9 L288.1 557 L301.2 562.1 L314.2 567.2 L327.3 572.4 L340.2 577.8 L353.1 583.4 L365.8 589.1 L378.5 595 L391.3 600.8 L404 606.6 L416.8 612.2 L429.8 617.7 L442.8 622.9 L455.8 628.1" stroke="#bd454a" stroke-width="2.2" fill="none" stroke-dasharray="1.2 1.6" stroke-dashoffset="2.8" opacity="0.45"/>
<path d="M54.5 461.5 L67.6 466.5 L80.5 471.9 L93.2 477.8 L105.8 484 L118.3 490.2 L131.1 496 L144.1 501.3 L157.2 506.2 L170.4 511.1 L183.5 516.2 L196.3 521.9 L208.9 528 L221.4 534.3 L234.1 540.3 L246.9 545.8 L260 550.9 L273.3 555.7 L286.4 560.7 L299.3 566.1 L312 572 L324.5 578.3 L337.1 584.5 L349.9 590.2 L362.9 595.5 L376.1 600.4 L389.2 605.2 L402.3 610.4 L415.1 616.1 L427.7 622.3 L440.2 628.5 L452.8 634.5" stroke="#e46868" stroke-width="2.6" fill="none" stroke-linejoin="round"/>
<path d="M54.5 461.5 L67.6 466.5 L80.5 471.9 L93.2 477.8 L105.8 484 L118.3 490.2 L131.1 496 L144.1 501.3 L157.2 506.2 L170.4 511.1 L183.5 516.2 L196.3 521.9 L208.9 528 L221.4 534.3 L234.1 540.3 L246.9 545.8 L260 550.9 L273.3 555.7 L286.4 560.7 L299.3 566.1 L312 572 L324.5 578.3 L337.1 584.5 L349.9 590.2 L362.9 595.5 L376.1 600.4 L389.2 605.2 L402.3 610.4 L415.1 616.1 L427.7 622.3 L440.2 628.5 L452.8 634.5" stroke="#fab0aa" stroke-width="0.8" fill="none" opacity="0.45" transform="translate(0.2 -0.5)"/>
<path d="M54.5 461.5 L67.6 466.5 L80.5 471.9 L93.2 477.8 L105.8 484 L118.3 490.2 L131.1 496 L144.1 501.3 L157.2 506.2 L170.4 511.1 L183.5 516.2 L196.3 521.9 L208.9 528 L221.4 534.3 L234.1 540.3 L246.9 545.8 L260 550.9 L273.3 555.7 L286.4 560.7 L299.3 566.1 L312 572 L324.5 578.3 L337.1 584.5 L349.9 590.2 L362.9 595.5 L376.1 600.4 L389.2 605.2 L402.3 610.4 L415.1 616.1 L427.7 622.3 L440.2 628.5 L452.8 634.5" stroke="#bd454a" stroke-width="2.6" fill="none" stroke-dasharray="1.2 1.6" stroke-dashoffset="1.2" opacity="0.45"/>
<path d="M52.7 465.2 L65.4 471.2 L78 477.2 L90.7 483.1 L103.5 488.7 L116.5 494.1 L129.6 499.2 L142.7 504.3 L155.7 509.4 L168.7 514.7 L181.6 520.2 L194.3 526.1 L207 532.1 L219.6 538.1 L232.3 544 L245.1 549.6 L258.1 554.9 L271.2 560.1 L284.3 565.1 L297.4 570.2 L310.3 575.5 L323.2 581.1 L335.9 586.9 L348.6 592.9 L361.2 598.9 L373.9 604.8 L386.8 610.4 L399.7 615.8 L412.8 620.9 L425.9 626 L439 631.1 L452 636.4" stroke="#da5c60" stroke-width="2.4" fill="none" stroke-linejoin="round"/>
<path d="M52.7 465.2 L65.4 471.2 L78 477.2 L90.7 483.1 L103.5 488.7 L116.5 494.1 L129.6 499.2 L142.7 504.3 L155.7 509.4 L168.7 514.7 L181.6 520.2 L194.3 526.1 L207 532.1 L219.6 538.1 L232.3 544 L245.1 549.6 L258.1 554.9 L271.2 560.1 L284.3 565.1 L297.4 570.2 L310.3 575.5 L323.2 581.1 L335.9 586.9 L348.6 592.9 L361.2 598.9 L373.9 604.8 L386.8 610.4 L399.7 615.8 L412.8 620.9 L425.9 626 L439 631.1 L452 636.4" stroke="#fab0aa" stroke-width="0.8" fill="none" opacity="0.45" transform="translate(0.2 -0.4)"/>
<path d="M52.7 465.2 L65.4 471.2 L78 477.2 L90.7 483.1 L103.5 488.7 L116.5 494.1 L129.6 499.2 L142.7 504.3 L155.7 509.4 L168.7 514.7 L181.6 520.2 L194.3 526.1 L207 532.1 L219.6 538.1 L232.3 544 L245.1 549.6 L258.1 554.9 L271.2 560.1 L284.3 565.1 L297.4 570.2 L310.3 575.5 L323.2 581.1 L335.9 586.9 L348.6 592.9 L361.2 598.9 L373.9 604.8 L386.8 610.4 L399.7 615.8 L412.8 620.9 L425.9 626 L439 631.1 L452 636.4" stroke="#bd454a" stroke-width="2.4" fill="none" stroke-dasharray="1.2 1.6" stroke-dashoffset="2.8" opacity="0.45"/>
<path d="M50.2 470.5 L63 476.1 L75.9 481.7 L88.8 487.1 L101.8 492.3 L114.9 497.5 L127.9 502.6 L141 507.7 L154.1 512.9 L167.1 518.1 L180 523.5 L192.9 529 L205.7 534.7 L218.5 540.4 L231.2 546.2 L243.9 552 L256.7 557.8 L269.5 563.6 L282.3 569.1 L295.2 574.6 L308.2 579.9 L321.2 585.1 L334.3 590.3 L347.3 595.4 L360.4 600.5 L373.4 605.7 L386.4 611 L399.3 616.5 L412.2 622.1 L424.9 627.8 L437.7 633.6 L450.4 639.4" stroke="#e46868" stroke-width="2.4" fill="none" stroke-linejoin="round"/>
<path d="M50.2 470.5 L63 476.1 L75.9 481.7 L88.8 487.1 L101.8 492.3 L114.9 497.5 L127.9 502.6 L141 507.7 L154.1 512.9 L167.1 518.1 L180 523.5 L192.9 529 L205.7 534.7 L218.5 540.4 L231.2 546.2 L243.9 552 L256.7 557.8 L269.5 563.6 L282.3 569.1 L295.2 574.6 L308.2 579.9 L321.2 585.1 L334.3 590.3 L347.3 595.4 L360.4 600.5 L373.4 605.7 L386.4 611 L399.3 616.5 L412.2 622.1 L424.9 627.8 L437.7 633.6 L450.4 639.4" stroke="#fab0aa" stroke-width="0.8" fill="none" opacity="0.45" transform="translate(0.2 -0.4)"/>
<path d="M50.2 470.5 L63 476.1 L75.9 481.7 L88.8 487.1 L101.8 492.3 L114.9 497.5 L127.9 502.6 L141 507.7 L154.1 512.9 L167.1 518.1 L180 523.5 L192.9 529 L205.7 534.7 L218.5 540.4 L231.2 546.2 L243.9 552 L256.7 557.8 L269.5 563.6 L282.3 569.1 L295.2 574.6 L308.2 579.9 L321.2 585.1 L334.3 590.3 L347.3 595.4 L360.4 600.5 L373.4 605.7 L386.4 611 L399.3 616.5 L412.2 622.1 L424.9 627.8 L437.7 633.6 L450.4 639.4" stroke="#bd454a" stroke-width="2.4" fill="none" stroke-dasharray="1.2 1.6" stroke-dashoffset="2.3" opacity="0.45"/>
<path d="M48.6 473.9 L61.5 479.2 L74.6 484.5 L87.6 489.6 L100.7 494.7 L113.8 499.8 L126.8 505 L139.8 510.3 L152.7 515.7 L165.5 521.3 L178.3 527 L191.1 532.7 L203.9 538.4 L216.7 544.1 L229.5 549.7 L242.4 555.1 L255.4 560.4 L268.4 565.6 L281.5 570.7 L294.6 575.8 L307.6 581 L320.7 586.2 L333.6 591.5 L346.5 597 L359.3 602.7 L372.1 608.4 L384.9 614.1 L397.7 619.8 L410.5 625.4 L423.4 631 L436.3 636.3 L449.3 641.6" stroke="#ee7a78" stroke-width="2.3" fill="none" stroke-linejoin="round"/>
<path d="M48.6 473.9 L61.5 479.2 L74.6 484.5 L87.6 489.6 L100.7 494.7 L113.8 499.8 L126.8 505 L139.8 510.3 L152.7 515.7 L165.5 521.3 L178.3 527 L191.1 532.7 L203.9 538.4 L216.7 544.1 L229.5 549.7 L242.4 555.1 L255.4 560.4 L268.4 565.6 L281.5 570.7 L294.6 575.8 L307.6 581 L320.7 586.2 L333.6 591.5 L346.5 597 L359.3 602.7 L372.1 608.4 L384.9 614.1 L397.7 619.8 L410.5 625.4 L423.4 631 L436.3 636.3 L449.3 641.6" stroke="#fab0aa" stroke-width="0.7" fill="none" opacity="0.45" transform="translate(0.2 -0.4)"/>
<path d="M48.6 473.9 L61.5 479.2 L74.6 484.5 L87.6 489.6 L100.7 494.7 L113.8 499.8 L126.8 505 L139.8 510.3 L152.7 515.7 L165.5 521.3 L178.3 527 L191.1 532.7 L203.9 538.4 L216.7 544.1 L229.5 549.7 L242.4 555.1 L255.4 560.4 L268.4 565.6 L281.5 570.7 L294.6 575.8 L307.6 581 L320.7 586.2 L333.6 591.5 L346.5 597 L359.3 602.7 L372.1 608.4 L384.9 614.1 L397.7 619.8 L410.5 625.4 L423.4 631 L436.3 636.3 L449.3 641.6" stroke="#bd454a" stroke-width="2.3" fill="none" stroke-dasharray="1.2 1.6" stroke-dashoffset="1.5" opacity="0.45"/>
<path d="M47.6 475.9 L60.3 481.8 L73 487.7 L85.7 493.6 L98.5 499.4 L111.3 505 L124.2 510.5 L137.2 515.7 L150.3 520.8 L163.4 525.9 L176.5 531 L189.5 536.1 L202.5 541.4 L215.4 546.9 L228.2 552.5 L241 558.3 L253.6 564.2 L266.3 570.1 L279.1 576 L291.9 581.7 L304.7 587.2 L317.7 592.5 L330.8 597.7 L343.8 602.7 L357 607.8 L370 612.9 L383 618.1 L396 623.5 L408.8 629.1 L421.6 634.9 L434.3 640.8 L447 646.7" stroke="#e06266" stroke-width="2.7" fill="none" stroke-linejoin="round"/>
<path d="M47.6 475.9 L60.3 481.8 L73 487.7 L85.7 493.6 L98.5 499.4 L111.3 505 L124.2 510.5 L137.2 515.7 L150.3 520.8 L163.4 525.9 L176.5 531 L189.5 536.1 L202.5 541.4 L215.4 546.9 L228.2 552.5 L241 558.3 L253.6 564.2 L266.3 570.1 L279.1 576 L291.9 581.7 L304.7 587.2 L317.7 592.5 L330.8 597.7 L343.8 602.7 L357 607.8 L370 612.9 L383 618.1 L396 623.5 L408.8 629.1 L421.6 634.9 L434.3 640.8 L447 646.7" stroke="#fab0aa" stroke-width="0.8" fill="none" opacity="0.45" transform="translate(0.2 -0.5)"/>
<path d="M47.6 475.9 L60.3 481.8 L73 487.7 L85.7 493.6 L98.5 499.4 L111.3 505 L124.2 510.5 L137.2 515.7 L150.3 520.8 L163.4 525.9 L176.5 531 L189.5 536.1 L202.5 541.4 L215.4 546.9 L228.2 552.5 L241 558.3 L253.6 564.2 L266.3 570.1 L279.1 576 L291.9 581.7 L304.7 587.2 L317.7 592.5 L330.8 597.7 L343.8 602.7 L357 607.8 L370 612.9 L383 618.1 L396 623.5 L408.8 629.1 L421.6 634.9 L434.3 640.8 L447 646.7" stroke="#bd454a" stroke-width="2.7" fill="none" stroke-dasharray="1.2 1.6" stroke-dashoffset="0.1" opacity="0.45"/>
<path d="M45.8 479.7 L58.7 485.1 L71.6 490.6 L84.4 496.3 L97.2 502 L109.9 507.9 L122.7 513.7 L135.4 519.5 L148.3 525.1 L161.1 530.6 L174.1 536 L187.1 541.2 L200.1 546.4 L213.2 551.6 L226.2 556.9 L239.1 562.3 L251.9 567.9 L264.7 573.6 L277.5 579.3 L290.2 585.2 L303 591 L315.7 596.7 L328.6 602.3 L341.5 607.8 L354.5 613.1 L367.5 618.3 L380.5 623.5 L393.5 628.8 L406.5 634.1 L419.4 639.5 L432.3 645.1 L445 650.8" stroke="#e06266" stroke-width="2.3" fill="none" stroke-linejoin="round"/>
<path d="M45.8 479.7 L58.7 485.1 L71.6 490.6 L84.4 496.3 L97.2 502 L109.9 507.9 L122.7 513.7 L135.4 519.5 L148.3 525.1 L161.1 530.6 L174.1 536 L187.1 541.2 L200.1 546.4 L213.2 551.6 L226.2 556.9 L239.1 562.3 L251.9 567.9 L264.7 573.6 L277.5 579.3 L290.2 585.2 L303 591 L315.7 596.7 L328.6 602.3 L341.5 607.8 L354.5 613.1 L367.5 618.3 L380.5 623.5 L393.5 628.8 L406.5 634.1 L419.4 639.5 L432.3 645.1 L445 650.8" stroke="#fab0aa" stroke-width="0.8" fill="none" opacity="0.45" transform="translate(0.2 -0.4)"/>
<path d="M45.8 479.7 L58.7 485.1 L71.6 490.6 L84.4 496.3 L97.2 502 L109.9 507.9 L122.7 513.7 L135.4 519.5 L148.3 525.1 L161.1 530.6 L174.1 536 L187.1 541.2 L200.1 546.4 L213.2 551.6 L226.2 556.9 L239.1 562.3 L251.9 567.9 L264.7 573.6 L277.5 579.3 L290.2 585.2 L303 591 L315.7 596.7 L328.6 602.3 L341.5 607.8 L354.5 613.1 L367.5 618.3 L380.5 623.5 L393.5 628.8 L406.5 634.1 L419.4 639.5 L432.3 645.1 L445 650.8" stroke="#bd454a" stroke-width="2.3" fill="none" stroke-dasharray="1.2 1.6" stroke-dashoffset="1.6" opacity="0.45"/>
<path d="M44 483.6 L56.7 489.5 L69.4 495.4 L82.1 501.2 L94.8 507 L107.7 512.6 L120.6 518.1 L133.6 523.4 L146.6 528.5 L159.7 533.6 L172.8 538.7 L185.8 543.8 L198.9 549.1 L211.8 554.4 L224.7 560 L237.4 565.7 L250.2 571.6 L262.9 577.5 L275.6 583.3 L288.3 589.1 L301.1 594.8 L314 600.3 L326.9 605.7 L340 610.9 L353 616 L366.1 621.1 L379.2 626.2 L392.2 631.4 L405.2 636.7 L418.1 642.2 L430.9 647.9 L443.7 653.7" stroke="#ee7a78" stroke-width="2.4" fill="none" stroke-linejoin="round"/>
<path d="M44 483.6 L56.7 489.5 L69.4 495.4 L82.1 501.2 L94.8 507 L107.7 512.6 L120.6 518.1 L133.6 523.4 L146.6 528.5 L159.7 533.6 L172.8 538.7 L185.8 543.8 L198.9 549.1 L211.8 554.4 L224.7 560 L237.4 565.7 L250.2 571.6 L262.9 577.5 L275.6 583.3 L288.3 589.1 L301.1 594.8 L314 600.3 L326.9 605.7 L340 610.9 L353 616 L366.1 621.1 L379.2 626.2 L392.2 631.4 L405.2 636.7 L418.1 642.2 L430.9 647.9 L443.7 653.7" stroke="#fab0aa" stroke-width="0.8" fill="none" opacity="0.45" transform="translate(0.2 -0.4)"/>
<path d="M44 483.6 L56.7 489.5 L69.4 495.4 L82.1 501.2 L94.8 507 L107.7 512.6 L120.6 518.1 L133.6 523.4 L146.6 528.5 L159.7 533.6 L172.8 538.7 L185.8 543.8 L198.9 549.1 L211.8 554.4 L224.7 560 L237.4 565.7 L250.2 571.6 L262.9 577.5 L275.6 583.3 L288.3 589.1 L301.1 594.8 L314 600.3 L326.9 605.7 L340 610.9 L353 616 L366.1 621.1 L379.2 626.2 L392.2 631.4 L405.2 636.7 L418.1 642.2 L430.9 647.9 L443.7 653.7" stroke="#bd454a" stroke-width="2.4" fill="none" stroke-dasharray="1.2 1.6" stroke-dashoffset="0.9" opacity="0.45"/>
<path d="M75.1 476.4 L403 635.2 L415 610 L84.9 455.6 A8.7 11.5 25.5 0 0 75.1 476.4 Z" fill="url(#gr5)"/>
<path d="M75.1 476.4 L403 635.2 L415 610 L84.9 455.6 A8.7 11.5 25.5 0 0 75.1 476.4 Z" fill="url(#dr5)"/>
<polygon points="57.9,442.7 123.2,468.3 140.6,513.1 48,463.5" fill="#0b0b0b" opacity="0.86" filter="url(#fr5)"/>
<path d="M75.1 476.4 L403 635.2 L415 610 L84.9 455.6 A8.7 11.5 25.5 0 0 75.1 476.4 Z" fill="url(#hr5)"/>
</g>
<line x1="411.4" y1="611.8" x2="416.3" y2="614.1" stroke="#ee7a78" stroke-width="3.2"/>
<ellipse cx="416.3" cy="614.1" rx="1.2" ry="1.6" fill="#e0b09a" stroke="#b4444a" stroke-width="0.5" transform="rotate(25.5 416.3 614.1)"/>
<line x1="409.8" y1="615" x2="414.3" y2="617.2" stroke="#ee7a78" stroke-width="3.2"/>
<ellipse cx="414.3" cy="617.2" rx="1.2" ry="1.6" fill="#e0b09a" stroke="#b4444a" stroke-width="0.5" transform="rotate(25.5 414.3 617.2)"/>
<line x1="408.3" y1="618.3" x2="413.1" y2="620.6" stroke="#ee7a78" stroke-width="3.2"/>
<ellipse cx="413.1" cy="620.6" rx="1.2" ry="1.6" fill="#e0b09a" stroke="#b4444a" stroke-width="0.5" transform="rotate(25.5 413.1 620.6)"/>
<line x1="406.7" y1="621.5" x2="411.6" y2="623.8" stroke="#ee7a78" stroke-width="3.2"/>
<ellipse cx="411.6" cy="623.8" rx="1.2" ry="1.6" fill="#e0b09a" stroke="#b4444a" stroke-width="0.5" transform="rotate(25.5 411.6 623.8)"/>
<line x1="405.2" y1="624.8" x2="409.6" y2="626.9" stroke="#da5c60" stroke-width="3.2"/>
<ellipse cx="409.6" cy="626.9" rx="1.2" ry="1.6" fill="#e0b09a" stroke="#b4444a" stroke-width="0.5" transform="rotate(25.5 409.6 626.9)"/>
<line x1="403.6" y1="628" x2="407" y2="629.6" stroke="#f28884" stroke-width="3.2"/>
<ellipse cx="407" cy="629.6" rx="1.2" ry="1.6" fill="#e0b09a" stroke="#b4444a" stroke-width="0.5" transform="rotate(25.5 407 629.6)"/>
<line x1="402.1" y1="631.3" x2="406.8" y2="633.5" stroke="#f28884" stroke-width="3.2"/>
<ellipse cx="406.8" cy="633.5" rx="1.2" ry="1.6" fill="#e0b09a" stroke="#b4444a" stroke-width="0.5" transform="rotate(25.5 406.8 633.5)"/>
<line x1="410.6" y1="613.4" x2="412.5" y2="614.3" stroke="#b4444a" stroke-width="3.2"/>
<ellipse cx="412.5" cy="614.3" rx="1.2" ry="1.6" fill="#e0b09a" stroke="#b4444a" stroke-width="0.5" transform="rotate(25.5 412.5 614.3)"/>
<line x1="409.1" y1="616.7" x2="411.4" y2="617.8" stroke="#b4444a" stroke-width="3.2"/>
<ellipse cx="411.4" cy="617.8" rx="1.2" ry="1.6" fill="#e0b09a" stroke="#b4444a" stroke-width="0.5" transform="rotate(25.5 411.4 617.8)"/>
<line x1="407.5" y1="619.9" x2="408.4" y2="620.3" stroke="#b4444a" stroke-width="3.2"/>
<ellipse cx="408.4" cy="620.3" rx="1.2" ry="1.6" fill="#e0b09a" stroke="#b4444a" stroke-width="0.5" transform="rotate(25.5 408.4 620.3)"/>
<line x1="406" y1="623.2" x2="408.1" y2="624.1" stroke="#b4444a" stroke-width="3.2"/>
<ellipse cx="408.1" cy="624.1" rx="1.2" ry="1.6" fill="#e0b09a" stroke="#b4444a" stroke-width="0.5" transform="rotate(25.5 408.1 624.1)"/>
<line x1="404.4" y1="626.4" x2="407" y2="627.6" stroke="#b4444a" stroke-width="3.2"/>
<ellipse cx="407" cy="627.6" rx="1.2" ry="1.6" fill="#e0b09a" stroke="#b4444a" stroke-width="0.5" transform="rotate(25.5 407 627.6)"/>
<line x1="402.9" y1="629.7" x2="403.4" y2="629.9" stroke="#b4444a" stroke-width="3.2"/>
<ellipse cx="403.4" cy="629.9" rx="1.2" ry="1.6" fill="#e0b09a" stroke="#b4444a" stroke-width="0.5" transform="rotate(25.5 403.4 629.9)"/>
<path d="M401.5 627.5 L527.5 685.5 A4.1 6 24.7 0 0 532.5 674.5 L406.5 616.5 A4.1 6 24.7 0 0 401.5 627.5 Z" fill="url(#c6)"/>
<line x1="405.8" y1="622.8" x2="528.2" y2="679.2" stroke="#c8c8c8" stroke-width="9.4" stroke-dasharray="1.3 2.4" opacity="0.32"/>
<ellipse cx="530" cy="680" rx="4.1" ry="5.5" fill="#eeeeee" stroke="#d6d6d6" stroke-width="1" transform="rotate(24.7 530 680)"/>
<g clip-path="url(#g7)">
<path d="M52.5 439.6 L356.6 589.7 L369.4 563.5 L63.5 417.2 A9.5 12.5 25.9 0 0 52.5 439.6 Z" fill="#084c37"/>
<path d="M49.8 388.2 L63.1 393.1 L76.2 398.3 L89 404.1 L101.7 410.4 L114.2 416.8 L126.9 423 L139.8 428.7 L153 433.8 L166.3 438.6 L179.6 443.6 L192.6 448.9 L205.5 454.8 L218.1 461.1 L230.6 467.5 L243.3 473.6 L256.3 479.2 L269.5 484.3 L282.8 489.1 L296.1 494 L309.1 499.4 L321.9 505.4 L334.5 511.7 L347 518.1 L359.8 524.2 L372.8 529.7 L386 534.7 L399.3 539.5 L412.6 544.5 L425.6 550" stroke="#128660" stroke-width="3" fill="none" stroke-linejoin="round"/>
<path d="M49.8 388.2 L63.1 393.1 L76.2 398.3 L89 404.1 L101.7 410.4 L114.2 416.8 L126.9 423 L139.8 428.7 L153 433.8 L166.3 438.6 L179.6 443.6 L192.6 448.9 L205.5 454.8 L218.1 461.1 L230.6 467.5 L243.3 473.6 L256.3 479.2 L269.5 484.3 L282.8 489.1 L296.1 494 L309.1 499.4 L321.9 505.4 L334.5 511.7 L347 518.1 L359.8 524.2 L372.8 529.7 L386 534.7 L399.3 539.5 L412.6 544.5 L425.6 550" stroke="#86ecc6" stroke-width="0.9" fill="none" opacity="0.45" transform="translate(0.3 -0.5)"/>
<path d="M47.7 392.4 L60.4 398.5 L73.2 404.4 L86.1 410.1 L99.2 415.5 L112.3 420.7 L125.5 425.8 L138.7 430.9 L151.8 436.1 L164.8 441.6 L177.7 447.4 L190.4 453.4 L203.1 459.5 L215.8 465.6 L228.6 471.6 L241.5 477.4 L254.5 482.8 L267.6 488.1 L280.8 493.2 L294 498.2 L307.1 503.5 L320.2 508.9 L333.1 514.6 L345.8 520.6 L358.5 526.7 L371.2 532.8 L384 538.8 L396.8 544.6 L409.8 550.2 L422.9 555.4" stroke="#27c288" stroke-width="2.9" fill="none" stroke-linejoin="round"/>
<path d="M47.7 392.4 L60.4 398.5 L73.2 404.4 L86.1 410.1 L99.2 415.5 L112.3 420.7 L125.5 425.8 L138.7 430.9 L151.8 436.1 L164.8 441.6 L177.7 447.4 L190.4 453.4 L203.1 459.5 L215.8 465.6 L228.6 471.6 L241.5 477.4 L254.5 482.8 L267.6 488.1 L280.8 493.2 L294 498.2 L307.1 503.5 L320.2 508.9 L333.1 514.6 L345.8 520.6 L358.5 526.7 L371.2 532.8 L384 538.8 L396.8 544.6 L409.8 550.2 L422.9 555.4" stroke="#86ecc6" stroke-width="0.9" fill="none" opacity="0.45" transform="translate(0.3 -0.5)"/>
<path d="M45.6 396.7 L58.5 402.4 L71.6 407.8 L84.7 413 L97.9 418.1 L110.9 423.6 L123.8 429.3 L136.6 435.3 L149.3 441.4 L162 447.4 L175 453 L188 458.3 L201.2 463.5 L214.4 468.7 L227.4 474.2 L240.2 480 L253 486 L265.7 492.1 L278.5 498 L291.4 503.6 L304.5 508.9 L317.7 514 L330.8 519.3 L343.8 524.8 L356.6 530.6 L369.4 536.7 L382.1 542.8 L394.9 548.7 L407.9 554.2 L421 559.4" stroke="#107a58" stroke-width="2.7" fill="none" stroke-linejoin="round"/>
<path d="M45.6 396.7 L58.5 402.4 L71.6 407.8 L84.7 413 L97.9 418.1 L110.9 423.6 L123.8 429.3 L136.6 435.3 L149.3 441.4 L162 447.4 L175 453 L188 458.3 L201.2 463.5 L214.4 468.7 L227.4 474.2 L240.2 480 L253 486 L265.7 492.1 L278.5 498 L291.4 503.6 L304.5 508.9 L317.7 514 L330.8 519.3 L343.8 524.8 L356.6 530.6 L369.4 536.7 L382.1 542.8 L394.9 548.7 L407.9 554.2 L421 559.4" stroke="#86ecc6" stroke-width="0.9" fill="none" opacity="0.45" transform="translate(0.2 -0.5)"/>
<path d="M44.1 399.9 L57.2 405.2 L70.2 410.5 L83.3 415.9 L96.3 421.4 L109.3 427 L122.2 432.6 L135.1 438.3 L148 444.1 L160.8 449.9 L173.7 455.7 L186.5 461.4 L199.4 467.1 L212.4 472.8 L225.3 478.3 L238.3 483.7 L251.4 489.1 L264.5 494.5 L277.5 499.8 L290.6 505.2 L303.6 510.6 L316.6 516.1 L329.6 521.7 L342.5 527.4 L355.4 533.1 L368.2 538.9 L381.1 544.7 L393.9 550.5 L406.8 556.2 L419.7 561.9" stroke="#27c288" stroke-width="2.4" fill="none" stroke-linejoin="round"/>
<path d="M44.1 399.9 L57.2 405.2 L70.2 410.5 L83.3 415.9 L96.3 421.4 L109.3 427 L122.2 432.6 L135.1 438.3 L148 444.1 L160.8 449.9 L173.7 455.7 L186.5 461.4 L199.4 467.1 L212.4 472.8 L225.3 478.3 L238.3 483.7 L251.4 489.1 L264.5 494.5 L277.5 499.8 L290.6 505.2 L303.6 510.6 L316.6 516.1 L329.6 521.7 L342.5 527.4 L355.4 533.1 L368.2 538.9 L381.1 544.7 L393.9 550.5 L406.8 556.2 L419.7 561.9" stroke="#86ecc6" stroke-width="0.8" fill="none" opacity="0.45" transform="translate(0.2 -0.4)"/>
<path d="M42 404.2 L55.2 409.4 L68.4 414.4 L81.5 419.7 L94.5 425.2 L107.3 431 L120 437.1 L132.7 443.1 L145.6 449 L158.5 454.6 L171.6 459.9 L184.8 465 L198 470.1 L211.1 475.4 L224 481 L236.8 486.9 L249.5 493 L262.3 499 L275.1 504.8 L288.1 510.4 L301.2 515.6 L314.4 520.7 L327.6 525.8 L340.7 531.2 L353.6 536.9 L366.3 542.8 L379 548.9 L391.8 554.9 L404.7 560.6 L417.7 566.1" stroke="#3ad69e" stroke-width="2.6" fill="none" stroke-linejoin="round"/>
<path d="M42 404.2 L55.2 409.4 L68.4 414.4 L81.5 419.7 L94.5 425.2 L107.3 431 L120 437.1 L132.7 443.1 L145.6 449 L158.5 454.6 L171.6 459.9 L184.8 465 L198 470.1 L211.1 475.4 L224 481 L236.8 486.9 L249.5 493 L262.3 499 L275.1 504.8 L288.1 510.4 L301.2 515.6 L314.4 520.7 L327.6 525.8 L340.7 531.2 L353.6 536.9 L366.3 542.8 L379 548.9 L391.8 554.9 L404.7 560.6 L417.7 566.1" stroke="#86ecc6" stroke-width="0.8" fill="none" opacity="0.45" transform="translate(0.2 -0.5)"/>
<path d="M40.1 408.1 L53.3 413.3 L66.4 418.4 L79.5 423.6 L92.6 429 L105.6 434.4 L118.6 440 L131.5 445.8 L144.3 451.6 L157.1 457.5 L169.9 463.4 L182.7 469.2 L195.7 474.8 L208.6 480.3 L221.7 485.7 L234.8 490.9 L248 496.1 L261.1 501.3 L274.2 506.5 L287.3 511.9 L300.3 517.4 L313.2 523.1 L326.1 528.9 L338.9 534.7 L351.7 540.6 L364.5 546.5 L377.4 552.2 L390.3 557.8 L403.3 563.3 L416.4 568.6" stroke="#2dca90" stroke-width="2.5" fill="none" stroke-linejoin="round"/>
<path d="M40.1 408.1 L53.3 413.3 L66.4 418.4 L79.5 423.6 L92.6 429 L105.6 434.4 L118.6 440 L131.5 445.8 L144.3 451.6 L157.1 457.5 L169.9 463.4 L182.7 469.2 L195.7 474.8 L208.6 480.3 L221.7 485.7 L234.8 490.9 L248 496.1 L261.1 501.3 L274.2 506.5 L287.3 511.9 L300.3 517.4 L313.2 523.1 L326.1 528.9 L338.9 534.7 L351.7 540.6 L364.5 546.5 L377.4 552.2 L390.3 557.8 L403.3 563.3 L416.4 568.6" stroke="#86ecc6" stroke-width="0.8" fill="none" opacity="0.45" transform="translate(0.2 -0.4)"/>
<path d="M39 410.4 L51.7 416.4 L64.4 422.5 L77.2 428.5 L90.2 434 L103.3 439.2 L116.6 444.2 L129.7 449.3 L142.8 454.7 L155.6 460.6 L168.3 466.6 L181 472.7 L193.9 478.5 L206.9 483.9 L220.1 488.9 L233.4 494 L246.5 499.2 L259.4 504.8 L272.2 510.7 L284.9 516.8 L297.7 522.8 L310.6 528.4 L323.7 533.7 L337 538.7 L350.2 543.8 L363.2 549.1 L376.1 554.9 L388.8 560.9 L401.5 567 L414.4 572.9" stroke="#107a58" stroke-width="2.9" fill="none" stroke-linejoin="round"/>
<path d="M39 410.4 L51.7 416.4 L64.4 422.5 L77.2 428.5 L90.2 434 L103.3 439.2 L116.6 444.2 L129.7 449.3 L142.8 454.7 L155.6 460.6 L168.3 466.6 L181 472.7 L193.9 478.5 L206.9 483.9 L220.1 488.9 L233.4 494 L246.5 499.2 L259.4 504.8 L272.2 510.7 L284.9 516.8 L297.7 522.8 L310.6 528.4 L323.7 533.7 L337 538.7 L350.2 543.8 L363.2 549.1 L376.1 554.9 L388.8 560.9 L401.5 567 L414.4 572.9" stroke="#86ecc6" stroke-width="0.9" fill="none" opacity="0.45" transform="translate(0.3 -0.5)"/>
<path d="M36.5 415.5 L49.5 420.9 L62.6 426.3 L75.7 431.6 L88.7 437 L101.7 442.6 L114.6 448.3 L127.4 454.1 L140.2 460 L153 466 L165.8 472 L178.6 477.9 L191.5 483.6 L204.4 489.2 L217.4 494.7 L230.5 500.1 L243.6 505.4 L256.6 510.8 L269.6 516.3 L282.5 522 L295.4 527.8 L308.2 533.7 L320.9 539.7 L333.7 545.7 L346.5 551.6 L359.4 557.4 L372.3 563 L385.3 568.5 L398.4 573.8 L411.5 579.2" stroke="#3ad69e" stroke-width="2.7" fill="none" stroke-linejoin="round"/>
<path d="M36.5 415.5 L49.5 420.9 L62.6 426.3 L75.7 431.6 L88.7 437 L101.7 442.6 L114.6 448.3 L127.4 454.1 L140.2 460 L153 466 L165.8 472 L178.6 477.9 L191.5 483.6 L204.4 489.2 L217.4 494.7 L230.5 500.1 L243.6 505.4 L256.6 510.8 L269.6 516.3 L282.5 522 L295.4 527.8 L308.2 533.7 L320.9 539.7 L333.7 545.7 L346.5 551.6 L359.4 557.4 L372.3 563 L385.3 568.5 L398.4 573.8 L411.5 579.2" stroke="#86ecc6" stroke-width="0.9" fill="none" opacity="0.45" transform="translate(0.2 -0.5)"/>
<path d="M34.5 419.6 L47.7 424.8 L60.8 429.9 L74 435.1 L87.1 440.4 L100.1 445.8 L113 451.5 L125.9 457.2 L138.7 463.1 L151.5 469.1 L164.2 475.1 L177 481 L189.8 486.8 L202.8 492.5 L215.8 498 L228.9 503.3 L242 508.5 L255.2 513.6 L268.3 518.8 L281.4 524 L294.5 529.4 L307.5 535 L320.3 540.7 L333.1 546.6 L345.9 552.6 L358.7 558.6 L371.4 564.5 L384.3 570.4 L397.2 576 L410.2 581.6" stroke="#24bc84" stroke-width="2.9" fill="none" stroke-linejoin="round"/>
<path d="M34.5 419.6 L47.7 424.8 L60.8 429.9 L74 435.1 L87.1 440.4 L100.1 445.8 L113 451.5 L125.9 457.2 L138.7 463.1 L151.5 469.1 L164.2 475.1 L177 481 L189.8 486.8 L202.8 492.5 L215.8 498 L228.9 503.3 L242 508.5 L255.2 513.6 L268.3 518.8 L281.4 524 L294.5 529.4 L307.5 535 L320.3 540.7 L333.1 546.6 L345.9 552.6 L358.7 558.6 L371.4 564.5 L384.3 570.4 L397.2 576 L410.2 581.6" stroke="#86ecc6" stroke-width="0.9" fill="none" opacity="0.45" transform="translate(0.2 -0.5)"/>
<path d="M32.5 423.7 L45.4 429.3 L58.5 434.7 L71.7 439.8 L84.9 445 L97.9 450.4 L110.8 456.2 L123.5 462.3 L136.1 468.5 L148.8 474.6 L161.7 480.4 L174.7 485.8 L187.9 491 L201 496.2 L214.1 501.5 L227.1 507.1 L239.8 513.1 L252.5 519.2 L265.2 525.4 L278 531.4 L290.9 537 L304 542.3 L317.2 547.4 L330.3 552.6 L343.4 558.1 L356.2 563.9 L368.9 570 L381.6 576.2 L394.3 582.3 L407.1 588.1" stroke="#27c288" stroke-width="2.6" fill="none" stroke-linejoin="round"/>
<path d="M32.5 423.7 L45.4 429.3 L58.5 434.7 L71.7 439.8 L84.9 445 L97.9 450.4 L110.8 456.2 L123.5 462.3 L136.1 468.5 L148.8 474.6 L161.7 480.4 L174.7 485.8 L187.9 491 L201 496.2 L214.1 501.5 L227.1 507.1 L239.8 513.1 L252.5 519.2 L265.2 525.4 L278 531.4 L290.9 537 L304 542.3 L317.2 547.4 L330.3 552.6 L343.4 558.1 L356.2 563.9 L368.9 570 L381.6 576.2 L394.3 582.3 L407.1 588.1" stroke="#86ecc6" stroke-width="0.8" fill="none" opacity="0.45" transform="translate(0.2 -0.5)"/>
<path d="M31.4 426 L44.4 431.5 L57.3 437.2 L70.1 443.1 L82.9 449.1 L95.6 455 L108.5 460.9 L121.4 466.6 L134.4 472.1 L147.4 477.5 L160.5 482.8 L173.6 488.2 L186.6 493.7 L199.5 499.4 L212.3 505.2 L225.1 511.2 L237.8 517.2 L250.6 523.1 L263.5 528.8 L276.5 534.3 L289.6 539.7 L302.7 545 L315.7 550.4 L328.7 555.9 L341.6 561.6 L354.5 567.4 L367.2 573.4 L380 579.3 L392.8 585.2 L405.7 591" stroke="#128660" stroke-width="2.7" fill="none" stroke-linejoin="round"/>
<path d="M31.4 426 L44.4 431.5 L57.3 437.2 L70.1 443.1 L82.9 449.1 L95.6 455 L108.5 460.9 L121.4 466.6 L134.4 472.1 L147.4 477.5 L160.5 482.8 L173.6 488.2 L186.6 493.7 L199.5 499.4 L212.3 505.2 L225.1 511.2 L237.8 517.2 L250.6 523.1 L263.5 528.8 L276.5 534.3 L289.6 539.7 L302.7 545 L315.7 550.4 L328.7 555.9 L341.6 561.6 L354.5 567.4 L367.2 573.4 L380 579.3 L392.8 585.2 L405.7 591" stroke="#86ecc6" stroke-width="0.9" fill="none" opacity="0.45" transform="translate(0.2 -0.5)"/>
<path d="M28.9 431.1 L41.9 436.7 L54.9 442.1 L68 447.4 L81.2 452.6 L94.3 457.8 L107.4 463.2 L120.3 468.7 L133.2 474.5 L146 480.4 L158.8 486.3 L171.6 492.2 L184.5 497.9 L197.4 503.4 L210.5 508.8 L223.7 514 L236.8 519.2 L249.9 524.4 L262.9 529.9 L275.8 535.5 L288.7 541.4 L301.5 547.3 L314.3 553.2 L327.1 559 L340 564.7 L353 570.1 L366.2 575.4 L379.3 580.6 L392.4 585.8 L405.5 591.1" stroke="#27c288" stroke-width="2.5" fill="none" stroke-linejoin="round"/>
<path d="M28.9 431.1 L41.9 436.7 L54.9 442.1 L68 447.4 L81.2 452.6 L94.3 457.8 L107.4 463.2 L120.3 468.7 L133.2 474.5 L146 480.4 L158.8 486.3 L171.6 492.2 L184.5 497.9 L197.4 503.4 L210.5 508.8 L223.7 514 L236.8 519.2 L249.9 524.4 L262.9 529.9 L275.8 535.5 L288.7 541.4 L301.5 547.3 L314.3 553.2 L327.1 559 L340 564.7 L353 570.1 L366.2 575.4 L379.3 580.6 L392.4 585.8 L405.5 591.1" stroke="#86ecc6" stroke-width="0.8" fill="none" opacity="0.45" transform="translate(0.2 -0.5)"/>
<path d="M27.7 433.7 L40.4 439.7 L53.2 445.7 L66 451.5 L78.9 457.2 L91.9 462.8 L105 468.1 L118.1 473.4 L131.2 478.5 L144.4 483.8 L157.4 489.1 L170.5 494.5 L183.4 500.1 L196.3 505.9 L209 511.9 L221.8 517.9 L234.5 523.9 L247.3 529.9 L260.1 535.7 L273.1 541.4 L286.1 546.8 L299.1 552.2 L312.3 557.4 L325.4 562.6 L338.5 567.8 L351.6 573.1 L364.6 578.6 L377.6 584.3 L390.4 590.1 L403.2 596.1" stroke="#3ad69e" stroke-width="2.8" fill="none" stroke-linejoin="round"/>
<path d="M27.7 433.7 L40.4 439.7 L53.2 445.7 L66 451.5 L78.9 457.2 L91.9 462.8 L105 468.1 L118.1 473.4 L131.2 478.5 L144.4 483.8 L157.4 489.1 L170.5 494.5 L183.4 500.1 L196.3 505.9 L209 511.9 L221.8 517.9 L234.5 523.9 L247.3 529.9 L260.1 535.7 L273.1 541.4 L286.1 546.8 L299.1 552.2 L312.3 557.4 L325.4 562.6 L338.5 567.8 L351.6 573.1 L364.6 578.6 L377.6 584.3 L390.4 590.1 L403.2 596.1" stroke="#86ecc6" stroke-width="0.9" fill="none" opacity="0.45" transform="translate(0.2 -0.5)"/>
<path d="M26.4 436.3 L39.2 442.1 L52 448 L64.8 454.1 L77.5 460.1 L90.3 466 L103.2 471.8 L116.2 477.3 L129.2 482.6 L142.4 487.9 L155.5 493.1 L168.6 498.4 L181.6 503.8 L194.5 509.5 L207.4 515.4 L220.1 521.4 L232.8 527.4 L245.6 533.4 L258.4 539.2 L271.4 544.8 L284.4 550.3 L297.5 555.5 L310.7 560.8 L323.8 566 L336.8 571.4 L349.8 576.9 L362.7 582.7 L375.4 588.7 L388.2 594.7 L400.9 600.7" stroke="#27c288" stroke-width="2.5" fill="none" stroke-linejoin="round"/>
<path d="M26.4 436.3 L39.2 442.1 L52 448 L64.8 454.1 L77.5 460.1 L90.3 466 L103.2 471.8 L116.2 477.3 L129.2 482.6 L142.4 487.9 L155.5 493.1 L168.6 498.4 L181.6 503.8 L194.5 509.5 L207.4 515.4 L220.1 521.4 L232.8 527.4 L245.6 533.4 L258.4 539.2 L271.4 544.8 L284.4 550.3 L297.5 555.5 L310.7 560.8 L323.8 566 L336.8 571.4 L349.8 576.9 L362.7 582.7 L375.4 588.7 L388.2 594.7 L400.9 600.7" stroke="#86ecc6" stroke-width="0.8" fill="none" opacity="0.45" transform="translate(0.2 -0.5)"/>
<path d="M24 441.1 L37.3 446.2 L50.4 451.3 L63.5 456.7 L76.4 462.3 L89.2 468.2 L102 474.2 L114.7 480.3 L127.5 486.2 L140.3 492 L153.3 497.6 L166.4 502.9 L179.6 508 L192.8 512.9 L206 518 L219.2 523.1 L232.2 528.5 L245.1 534.2 L257.9 540.1 L270.7 546.1 L283.4 552.2 L296.1 558.2 L309 563.9 L322 569.4 L335.1 574.7 L348.3 579.8 L361.6 584.7 L374.8 589.8 L387.9 595 L400.9 600.4" stroke="#128660" stroke-width="2.5" fill="none" stroke-linejoin="round"/>
<path d="M24 441.1 L37.3 446.2 L50.4 451.3 L63.5 456.7 L76.4 462.3 L89.2 468.2 L102 474.2 L114.7 480.3 L127.5 486.2 L140.3 492 L153.3 497.6 L166.4 502.9 L179.6 508 L192.8 512.9 L206 518 L219.2 523.1 L232.2 528.5 L245.1 534.2 L257.9 540.1 L270.7 546.1 L283.4 552.2 L296.1 558.2 L309 563.9 L322 569.4 L335.1 574.7 L348.3 579.8 L361.6 584.7 L374.8 589.8 L387.9 595 L400.9 600.4" stroke="#86ecc6" stroke-width="0.8" fill="none" opacity="0.45" transform="translate(0.2 -0.5)"/>
<path d="M22.4 444.5 L35.5 449.7 L48.4 455.5 L61.1 461.7 L73.6 468.1 L86.3 474.2 L99.3 479.8 L112.4 485 L125.7 489.8 L139 494.8 L152 500.3 L164.8 506.3 L177.3 512.6 L190 518.9 L202.7 524.8 L215.8 530.2 L229.1 535.1 L242.4 540 L255.5 545.2 L268.4 550.9 L281.1 557.2 L293.6 563.5 L306.3 569.7 L319.2 575.3 L332.4 580.5 L345.7 585.3 L359 590.3 L372 595.8 L384.8 601.7 L397.3 608.1" stroke="#24bc84" stroke-width="2.8" fill="none" stroke-linejoin="round"/>
<path d="M22.4 444.5 L35.5 449.7 L48.4 455.5 L61.1 461.7 L73.6 468.1 L86.3 474.2 L99.3 479.8 L112.4 485 L125.7 489.8 L139 494.8 L152 500.3 L164.8 506.3 L177.3 512.6 L190 518.9 L202.7 524.8 L215.8 530.2 L229.1 535.1 L242.4 540 L255.5 545.2 L268.4 550.9 L281.1 557.2 L293.6 563.5 L306.3 569.7 L319.2 575.3 L332.4 580.5 L345.7 585.3 L359 590.3 L372 595.8 L384.8 601.7 L397.3 608.1" stroke="#86ecc6" stroke-width="0.9" fill="none" opacity="0.45" transform="translate(0.2 -0.5)"/>
<path d="M52.5 439.6 L356.6 589.7 L369.4 563.5 L63.5 417.2 A9.5 12.5 25.9 0 0 52.5 439.6 Z" fill="url(#gg7)"/>
<polygon points="36.5,404 83.6,421.4 115.1,475.6 25.6,426.5" fill="#0b0b0b" opacity="0.86" filter="url(#fg7)"/>
<path d="M52.5 439.6 L356.6 589.7 L369.4 563.5 L63.5 417.2 A9.5 12.5 25.9 0 0 52.5 439.6 Z" fill="url(#hg7)"/>
</g>
<line x1="365.7" y1="565.4" x2="368.1" y2="566.5" stroke="#2dca90" stroke-width="3.3"/>
<ellipse cx="368.1" cy="566.5" rx="1.2" ry="1.7" fill="#e0b09a" stroke="#084c37" stroke-width="0.5" transform="rotate(25.9 368.1 566.5)"/>
<line x1="364" y1="568.8" x2="367.4" y2="570.4" stroke="#2dca90" stroke-width="3.3"/>
<ellipse cx="367.4" cy="570.4" rx="1.2" ry="1.7" fill="#e0b09a" stroke="#084c37" stroke-width="0.5" transform="rotate(25.9 367.4 570.4)"/>
<line x1="362.4" y1="572.1" x2="367.1" y2="574.4" stroke="#107a58" stroke-width="3.3"/>
<ellipse cx="367.1" cy="574.4" rx="1.2" ry="1.7" fill="#e0b09a" stroke="#084c37" stroke-width="0.5" transform="rotate(25.9 367.1 574.4)"/>
<line x1="360.8" y1="575.5" x2="364.8" y2="577.5" stroke="#24bc84" stroke-width="3.3"/>
<ellipse cx="364.8" cy="577.5" rx="1.2" ry="1.7" fill="#e0b09a" stroke="#084c37" stroke-width="0.5" transform="rotate(25.9 364.8 577.5)"/>
<line x1="359.1" y1="578.9" x2="362.6" y2="580.6" stroke="#3ad69e" stroke-width="3.3"/>
<ellipse cx="362.6" cy="580.6" rx="1.2" ry="1.7" fill="#e0b09a" stroke="#084c37" stroke-width="0.5" transform="rotate(25.9 362.6 580.6)"/>
<line x1="357.5" y1="582.3" x2="360.9" y2="583.9" stroke="#107a58" stroke-width="3.3"/>
<ellipse cx="360.9" cy="583.9" rx="1.2" ry="1.7" fill="#e0b09a" stroke="#084c37" stroke-width="0.5" transform="rotate(25.9 360.9 583.9)"/>
<line x1="355.8" y1="585.6" x2="359.2" y2="587.3" stroke="#128660" stroke-width="3.3"/>
<ellipse cx="359.2" cy="587.3" rx="1.2" ry="1.7" fill="#e0b09a" stroke="#084c37" stroke-width="0.5" transform="rotate(25.9 359.2 587.3)"/>
<line x1="364.9" y1="567.1" x2="366.2" y2="567.7" stroke="#084c37" stroke-width="3.3"/>
<ellipse cx="366.2" cy="567.7" rx="1.2" ry="1.7" fill="#e0b09a" stroke="#084c37" stroke-width="0.5" transform="rotate(25.9 366.2 567.7)"/>
<line x1="363.2" y1="570.4" x2="364.3" y2="571" stroke="#084c37" stroke-width="3.3"/>
<ellipse cx="364.3" cy="571" rx="1.2" ry="1.7" fill="#e0b09a" stroke="#084c37" stroke-width="0.5" transform="rotate(25.9 364.3 571)"/>
<line x1="361.6" y1="573.8" x2="363.7" y2="574.9" stroke="#084c37" stroke-width="3.3"/>
<ellipse cx="363.7" cy="574.9" rx="1.2" ry="1.7" fill="#e0b09a" stroke="#084c37" stroke-width="0.5" transform="rotate(25.9 363.7 574.9)"/>
<line x1="359.9" y1="577.2" x2="361.8" y2="578.1" stroke="#084c37" stroke-width="3.3"/>
<ellipse cx="361.8" cy="578.1" rx="1.2" ry="1.7" fill="#e0b09a" stroke="#084c37" stroke-width="0.5" transform="rotate(25.9 361.8 578.1)"/>
<line x1="358.3" y1="580.6" x2="359.4" y2="581.1" stroke="#084c37" stroke-width="3.3"/>
<ellipse cx="359.4" cy="581.1" rx="1.2" ry="1.7" fill="#e0b09a" stroke="#084c37" stroke-width="0.5" transform="rotate(25.9 359.4 581.1)"/>
<line x1="356.6" y1="583.9" x2="359" y2="585.1" stroke="#084c37" stroke-width="3.3"/>
<ellipse cx="359" cy="585.1" rx="1.2" ry="1.7" fill="#e0b09a" stroke="#084c37" stroke-width="0.5" transform="rotate(25.9 359 585.1)"/>
<path d="M360.5 582.7 L480 637.9 A4.1 6 24.8 0 0 485 627.1 L365.5 571.9 A4.1 6 24.8 0 0 360.5 582.7 Z" fill="url(#c8)"/>
<line x1="364.8" y1="578.1" x2="480.7" y2="631.7" stroke="#c8c8c8" stroke-width="9.4" stroke-dasharray="1.3 2.4" opacity="0.32"/>
<ellipse cx="482.5" cy="632.5" rx="4.1" ry="5.5" fill="#eeeeee" stroke="#d6d6d6" stroke-width="1" transform="rotate(24.8 482.5 632.5)"/>
<g clip-path="url(#br9)">
<path d="M45.3 485.4 L430.4 680.4 L441.6 658.2 L54.7 466.6 A8 10.5 26.6 0 0 45.3 485.4 Z" fill="#40201a"/>
<path d="M47.6 425.2 L61 430.2 L74.5 435.3 L87.9 440.4 L101.2 445.7 L114.5 451.1 L127.7 456.8 L140.7 462.6 L153.8 468.5 L166.8 474.4 L179.9 480.2 L193.1 485.8 L206.3 491.3 L219.7 496.5 L233.1 501.6 L246.6 506.7 L260 511.7 L273.4 516.9 L286.7 522.3 L299.9 527.9 L313 533.6 L326.1 539.5 L339.1 545.4 L352.2 551.3 L365.3 557 L378.5 562.5 L391.9 567.8 L405.3 573 L418.7 578 L432.2 583.1 L445.6 588.2 L458.9 593.5 L472.2 599 L485.3 604.7 L498.4 610.5 L511.4 616.4" stroke="#87503f" stroke-width="2.8" fill="none" stroke-linejoin="round"/>
<path d="M47.6 425.2 L61 430.2 L74.5 435.3 L87.9 440.4 L101.2 445.7 L114.5 451.1 L127.7 456.8 L140.7 462.6 L153.8 468.5 L166.8 474.4 L179.9 480.2 L193.1 485.8 L206.3 491.3 L219.7 496.5 L233.1 501.6 L246.6 506.7 L260 511.7 L273.4 516.9 L286.7 522.3 L299.9 527.9 L313 533.6 L326.1 539.5 L339.1 545.4 L352.2 551.3 L365.3 557 L378.5 562.5 L391.9 567.8 L405.3 573 L418.7 578 L432.2 583.1 L445.6 588.2 L458.9 593.5 L472.2 599 L485.3 604.7 L498.4 610.5 L511.4 616.4" stroke="#bb8875" stroke-width="0.9" fill="none" opacity="0.45" transform="translate(0.3 -0.5)"/>
<path d="M46 428.4 L59.1 434 L72.3 439.7 L85.4 445.3 L98.6 450.9 L111.9 456.4 L125.2 461.8 L138.5 467.1 L151.8 472.3 L165.2 477.6 L178.6 482.8 L192 488 L205.3 493.3 L218.6 498.6 L231.9 504.1 L245.1 509.6 L258.3 515.2 L271.4 520.9 L284.6 526.5 L297.7 532.2 L310.9 537.8 L324.1 543.3 L337.4 548.8 L350.7 554.2 L364 559.4 L377.3 564.7 L390.7 569.9 L404.1 575.1 L417.5 580.4 L430.8 585.7 L444.1 591.1 L457.3 596.5 L470.5 602.1 L483.7 607.7 L496.8 613.4 L510 619" stroke="#704034" stroke-width="2.8" fill="none" stroke-linejoin="round"/>
<path d="M46 428.4 L59.1 434 L72.3 439.7 L85.4 445.3 L98.6 450.9 L111.9 456.4 L125.2 461.8 L138.5 467.1 L151.8 472.3 L165.2 477.6 L178.6 482.8 L192 488 L205.3 493.3 L218.6 498.6 L231.9 504.1 L245.1 509.6 L258.3 515.2 L271.4 520.9 L284.6 526.5 L297.7 532.2 L310.9 537.8 L324.1 543.3 L337.4 548.8 L350.7 554.2 L364 559.4 L377.3 564.7 L390.7 569.9 L404.1 575.1 L417.5 580.4 L430.8 585.7 L444.1 591.1 L457.3 596.5 L470.5 602.1 L483.7 607.7 L496.8 613.4 L510 619" stroke="#bb8875" stroke-width="0.9" fill="none" opacity="0.45" transform="translate(0.3 -0.5)"/>
<path d="M44.2 431.9 L57.2 437.8 L70.4 443.5 L83.5 449.2 L96.8 454.7 L110.1 460.1 L123.4 465.3 L136.8 470.6 L150.1 475.9 L163.4 481.3 L176.7 486.7 L189.9 492.3 L203 498.1 L216.1 503.9 L229.1 509.8 L242.2 515.7 L255.3 521.5 L268.4 527.2 L281.6 532.8 L294.9 538.2 L308.2 543.5 L321.6 548.8 L334.9 554.1 L348.3 559.4 L361.6 564.8 L374.8 570.3 L387.9 576 L401 581.8 L414.1 587.7 L427.2 593.6 L440.2 599.4 L453.3 605.2 L466.5 610.8 L479.7 616.3 L493 621.7 L506.4 627" stroke="#9e6857" stroke-width="2.8" fill="none" stroke-linejoin="round"/>
<path d="M44.2 431.9 L57.2 437.8 L70.4 443.5 L83.5 449.2 L96.8 454.7 L110.1 460.1 L123.4 465.3 L136.8 470.6 L150.1 475.9 L163.4 481.3 L176.7 486.7 L189.9 492.3 L203 498.1 L216.1 503.9 L229.1 509.8 L242.2 515.7 L255.3 521.5 L268.4 527.2 L281.6 532.8 L294.9 538.2 L308.2 543.5 L321.6 548.8 L334.9 554.1 L348.3 559.4 L361.6 564.8 L374.8 570.3 L387.9 576 L401 581.8 L414.1 587.7 L427.2 593.6 L440.2 599.4 L453.3 605.2 L466.5 610.8 L479.7 616.3 L493 621.7 L506.4 627" stroke="#bb8875" stroke-width="0.9" fill="none" opacity="0.45" transform="translate(0.3 -0.5)"/>
<path d="M43.1 434 L56.3 439.6 L69.3 445.6 L82.2 451.9 L95 458.1 L108.1 464 L121.3 469.5 L134.8 474.6 L148.3 479.5 L161.9 484.4 L175.2 489.6 L188.4 495.3 L201.4 501.3 L214.3 507.5 L227.1 513.7 L240.2 519.6 L253.4 525.1 L266.9 530.2 L280.5 535 L294 539.9 L307.4 545.2 L320.5 550.9 L333.5 556.9 L346.3 563.2 L359.2 569.4 L372.3 575.2 L385.6 580.7 L399.1 585.7 L412.6 590.5 L426.2 595.5 L439.5 600.8 L452.6 606.5 L465.6 612.6 L478.4 618.9 L491.3 625 L504.4 630.8" stroke="#9e6857" stroke-width="2.4" fill="none" stroke-linejoin="round"/>
<path d="M43.1 434 L56.3 439.6 L69.3 445.6 L82.2 451.9 L95 458.1 L108.1 464 L121.3 469.5 L134.8 474.6 L148.3 479.5 L161.9 484.4 L175.2 489.6 L188.4 495.3 L201.4 501.3 L214.3 507.5 L227.1 513.7 L240.2 519.6 L253.4 525.1 L266.9 530.2 L280.5 535 L294 539.9 L307.4 545.2 L320.5 550.9 L333.5 556.9 L346.3 563.2 L359.2 569.4 L372.3 575.2 L385.6 580.7 L399.1 585.7 L412.6 590.5 L426.2 595.5 L439.5 600.8 L452.6 606.5 L465.6 612.6 L478.4 618.9 L491.3 625 L504.4 630.8" stroke="#bb8875" stroke-width="0.8" fill="none" opacity="0.45" transform="translate(0.2 -0.4)"/>
<path d="M40.6 439 L53.8 444.7 L67 450.2 L80.3 455.6 L93.7 460.8 L107.1 466 L120.5 471.2 L133.8 476.5 L147 482 L160.2 487.6 L173.4 493.3 L186.4 499.1 L199.5 504.9 L212.7 510.6 L225.9 516.2 L239.1 521.6 L252.5 526.9 L265.9 532.1 L279.3 537.3 L292.6 542.5 L305.9 547.9 L319.1 553.4 L332.3 559.1 L345.4 564.9 L358.5 570.7 L371.6 576.4 L384.7 582.1 L398 587.6 L411.3 592.9 L424.7 598.2 L438.1 603.4 L451.4 608.6 L464.8 613.9 L478 619.4 L491.2 625 L504.3 630.7" stroke="#87503f" stroke-width="2.5" fill="none" stroke-linejoin="round"/>
<path d="M40.6 439 L53.8 444.7 L67 450.2 L80.3 455.6 L93.7 460.8 L107.1 466 L120.5 471.2 L133.8 476.5 L147 482 L160.2 487.6 L173.4 493.3 L186.4 499.1 L199.5 504.9 L212.7 510.6 L225.9 516.2 L239.1 521.6 L252.5 526.9 L265.9 532.1 L279.3 537.3 L292.6 542.5 L305.9 547.9 L319.1 553.4 L332.3 559.1 L345.4 564.9 L358.5 570.7 L371.6 576.4 L384.7 582.1 L398 587.6 L411.3 592.9 L424.7 598.2 L438.1 603.4 L451.4 608.6 L464.8 613.9 L478 619.4 L491.2 625 L504.3 630.7" stroke="#bb8875" stroke-width="0.8" fill="none" opacity="0.45" transform="translate(0.2 -0.4)"/>
<path d="M38.7 442.9 L52.1 448.1 L65.5 453.2 L78.9 458.3 L92.3 463.6 L105.6 468.9 L118.8 474.5 L131.9 480.3 L145 486.1 L158 492.1 L171 498 L184.1 503.9 L197.2 509.6 L210.5 515.1 L223.8 520.4 L237.2 525.6 L250.6 530.7 L264.1 535.8 L277.4 541 L290.7 546.4 L303.9 552 L317 557.8 L330.1 563.7 L343.1 569.7 L356.1 575.6 L369.2 581.4 L382.3 587.1 L395.6 592.5 L408.9 597.8 L422.3 603 L435.8 608.1 L449.2 613.2 L462.6 618.5 L475.8 623.9 L489 629.5 L502.1 635.3" stroke="#9e6857" stroke-width="2.7" fill="none" stroke-linejoin="round"/>
<path d="M38.7 442.9 L52.1 448.1 L65.5 453.2 L78.9 458.3 L92.3 463.6 L105.6 468.9 L118.8 474.5 L131.9 480.3 L145 486.1 L158 492.1 L171 498 L184.1 503.9 L197.2 509.6 L210.5 515.1 L223.8 520.4 L237.2 525.6 L250.6 530.7 L264.1 535.8 L277.4 541 L290.7 546.4 L303.9 552 L317 557.8 L330.1 563.7 L343.1 569.7 L356.1 575.6 L369.2 581.4 L382.3 587.1 L395.6 592.5 L408.9 597.8 L422.3 603 L435.8 608.1 L449.2 613.2 L462.6 618.5 L475.8 623.9 L489 629.5 L502.1 635.3" stroke="#bb8875" stroke-width="0.9" fill="none" opacity="0.45" transform="translate(0.2 -0.5)"/>
<path d="M36.8 446.7 L49.8 452.6 L63.1 458.1 L76.5 463.2 L90 468.1 L103.5 473.1 L116.9 478.4 L130 484.1 L143 490.1 L155.9 496.3 L168.9 502.4 L181.9 508.2 L195.2 513.6 L208.7 518.7 L222.2 523.6 L235.7 528.7 L249 534 L262.1 539.7 L275.1 545.8 L288 551.9 L300.9 558 L314.1 563.8 L327.4 569.2 L340.8 574.2 L354.4 579.1 L367.8 584.2 L381.1 589.6 L394.2 595.4 L407.2 601.5 L420.1 607.6 L433 613.7 L446.2 619.4 L459.5 624.7 L473 629.7 L486.5 634.6 L500 639.7" stroke="#935b4a" stroke-width="3" fill="none" stroke-linejoin="round"/>
<path d="M36.8 446.7 L49.8 452.6 L63.1 458.1 L76.5 463.2 L90 468.1 L103.5 473.1 L116.9 478.4 L130 484.1 L143 490.1 L155.9 496.3 L168.9 502.4 L181.9 508.2 L195.2 513.6 L208.7 518.7 L222.2 523.6 L235.7 528.7 L249 534 L262.1 539.7 L275.1 545.8 L288 551.9 L300.9 558 L314.1 563.8 L327.4 569.2 L340.8 574.2 L354.4 579.1 L367.8 584.2 L381.1 589.6 L394.2 595.4 L407.2 601.5 L420.1 607.6 L433 613.7 L446.2 619.4 L459.5 624.7 L473 629.7 L486.5 634.6 L500 639.7" stroke="#bb8875" stroke-width="0.9" fill="none" opacity="0.45" transform="translate(0.3 -0.5)"/>
<path d="M35.5 449.3 L48.7 454.9 L61.8 460.6 L74.9 466.5 L87.9 472.4 L101 478.3 L114.1 484 L127.2 489.7 L140.5 495.1 L153.8 500.4 L167.2 505.7 L180.6 510.9 L194 516.1 L207.3 521.5 L220.5 527.1 L233.6 532.8 L246.7 538.6 L259.7 544.5 L272.8 550.4 L285.9 556.2 L299 561.9 L312.3 567.4 L325.6 572.7 L339 577.9 L352.3 583.1 L365.7 588.4 L379 593.8 L392.3 599.3 L405.4 604.9 L418.5 610.8 L431.5 616.7 L444.6 622.5 L457.7 628.4 L470.8 634.1 L484 639.6 L497.3 645" stroke="#81493c" stroke-width="2.9" fill="none" stroke-linejoin="round"/>
<path d="M35.5 449.3 L48.7 454.9 L61.8 460.6 L74.9 466.5 L87.9 472.4 L101 478.3 L114.1 484 L127.2 489.7 L140.5 495.1 L153.8 500.4 L167.2 505.7 L180.6 510.9 L194 516.1 L207.3 521.5 L220.5 527.1 L233.6 532.8 L246.7 538.6 L259.7 544.5 L272.8 550.4 L285.9 556.2 L299 561.9 L312.3 567.4 L325.6 572.7 L339 577.9 L352.3 583.1 L365.7 588.4 L379 593.8 L392.3 599.3 L405.4 604.9 L418.5 610.8 L431.5 616.7 L444.6 622.5 L457.7 628.4 L470.8 634.1 L484 639.6 L497.3 645" stroke="#bb8875" stroke-width="0.9" fill="none" opacity="0.45" transform="translate(0.3 -0.5)"/>
<path d="M33.2 454 L46.2 459.8 L59.3 465.6 L72.5 471.1 L85.9 476.3 L99.3 481.4 L112.8 486.4 L126.2 491.6 L139.5 497 L152.6 502.7 L165.7 508.6 L178.7 514.4 L191.8 520.2 L205.1 525.7 L218.4 530.9 L231.9 536 L245.4 541 L258.8 546.2 L272 551.6 L285.2 557.3 L298.2 563.2 L311.3 569.1 L324.4 574.8 L337.6 580.2 L351 585.5 L364.5 590.5 L377.9 595.6 L391.3 600.8 L404.6 606.2 L417.7 611.9 L430.7 617.8 L443.8 623.7 L456.9 629.4 L470.2 634.8 L483.6 640 L497 645.1" stroke="#704034" stroke-width="2.8" fill="none" stroke-linejoin="round"/>
<path d="M33.2 454 L46.2 459.8 L59.3 465.6 L72.5 471.1 L85.9 476.3 L99.3 481.4 L112.8 486.4 L126.2 491.6 L139.5 497 L152.6 502.7 L165.7 508.6 L178.7 514.4 L191.8 520.2 L205.1 525.7 L218.4 530.9 L231.9 536 L245.4 541 L258.8 546.2 L272 551.6 L285.2 557.3 L298.2 563.2 L311.3 569.1 L324.4 574.8 L337.6 580.2 L351 585.5 L364.5 590.5 L377.9 595.6 L391.3 600.8 L404.6 606.2 L417.7 611.9 L430.7 617.8 L443.8 623.7 L456.9 629.4 L470.2 634.8 L483.6 640 L497 645.1" stroke="#bb8875" stroke-width="0.9" fill="none" opacity="0.45" transform="translate(0.3 -0.5)"/>
<path d="M31.1 457.9 L44.2 463.8 L57.3 469.6 L70.6 475.1 L83.9 480.4 L97.3 485.6 L110.6 490.9 L123.9 496.3 L137.1 501.9 L150.2 507.7 L163.2 513.6 L176.3 519.5 L189.4 525.3 L202.6 530.8 L216 536.1 L229.3 541.3 L242.7 546.6 L256 552 L269.2 557.6 L282.3 563.4 L295.3 569.3 L308.4 575.2 L321.5 581 L334.7 586.5 L348 591.8 L361.4 597 L374.8 602.3 L388.1 607.7 L401.3 613.3 L414.4 619.1 L427.4 625 L440.4 630.9 L453.5 636.7 L466.8 642.2 L480.1 647.5 L493.5 652.7" stroke="#87503f" stroke-width="2.7" fill="none" stroke-linejoin="round"/>
<path d="M31.1 457.9 L44.2 463.8 L57.3 469.6 L70.6 475.1 L83.9 480.4 L97.3 485.6 L110.6 490.9 L123.9 496.3 L137.1 501.9 L150.2 507.7 L163.2 513.6 L176.3 519.5 L189.4 525.3 L202.6 530.8 L216 536.1 L229.3 541.3 L242.7 546.6 L256 552 L269.2 557.6 L282.3 563.4 L295.3 569.3 L308.4 575.2 L321.5 581 L334.7 586.5 L348 591.8 L361.4 597 L374.8 602.3 L388.1 607.7 L401.3 613.3 L414.4 619.1 L427.4 625 L440.4 630.9 L453.5 636.7 L466.8 642.2 L480.1 647.5 L493.5 652.7" stroke="#bb8875" stroke-width="0.9" fill="none" opacity="0.45" transform="translate(0.2 -0.5)"/>
<path d="M29.5 461.2 L42.9 466.4 L56.2 471.7 L69.5 477.2 L82.7 482.7 L95.9 488.4 L109 494.1 L122.1 499.9 L135.2 505.6 L148.4 511.2 L161.6 516.6 L174.9 522 L188.3 527.3 L201.7 532.4 L215.1 537.6 L228.5 542.9 L241.8 548.2 L255 553.7 L268.2 559.2 L281.4 564.9 L294.5 570.7 L307.6 576.4 L320.7 582.1 L333.9 587.7 L347.2 593.1 L360.5 598.5 L373.9 603.7 L387.2 608.9 L400.6 614.1 L414 619.3 L427.3 624.7 L440.5 630.2 L453.7 635.8 L466.9 641.5 L480 647.2 L493.1 652.9" stroke="#704034" stroke-width="2.4" fill="none" stroke-linejoin="round"/>
<path d="M29.5 461.2 L42.9 466.4 L56.2 471.7 L69.5 477.2 L82.7 482.7 L95.9 488.4 L109 494.1 L122.1 499.9 L135.2 505.6 L148.4 511.2 L161.6 516.6 L174.9 522 L188.3 527.3 L201.7 532.4 L215.1 537.6 L228.5 542.9 L241.8 548.2 L255 553.7 L268.2 559.2 L281.4 564.9 L294.5 570.7 L307.6 576.4 L320.7 582.1 L333.9 587.7 L347.2 593.1 L360.5 598.5 L373.9 603.7 L387.2 608.9 L400.6 614.1 L414 619.3 L427.3 624.7 L440.5 630.2 L453.7 635.8 L466.9 641.5 L480 647.2 L493.1 652.9" stroke="#bb8875" stroke-width="0.8" fill="none" opacity="0.45" transform="translate(0.2 -0.4)"/>
<path d="M27.3 465.7 L40.4 471.4 L53.7 476.9 L67 482.1 L80.4 487.3 L93.9 492.4 L107.3 497.5 L120.6 502.8 L133.9 508.3 L147 514 L160.1 519.8 L173.1 525.7 L186.2 531.5 L199.3 537.2 L212.6 542.7 L225.9 548 L239.3 553.2 L252.7 558.3 L266.2 563.4 L279.5 568.7 L292.8 574.1 L305.9 579.8 L319 585.6 L332.1 591.5 L345.1 597.3 L358.2 603.1 L371.5 608.6 L384.8 613.9 L398.2 619.1 L411.6 624.2 L425 629.3 L438.4 634.6 L451.7 640 L464.9 645.6 L477.9 651.4 L491 657.3" stroke="#9e6857" stroke-width="2.6" fill="none" stroke-linejoin="round"/>
<path d="M27.3 465.7 L40.4 471.4 L53.7 476.9 L67 482.1 L80.4 487.3 L93.9 492.4 L107.3 497.5 L120.6 502.8 L133.9 508.3 L147 514 L160.1 519.8 L173.1 525.7 L186.2 531.5 L199.3 537.2 L212.6 542.7 L225.9 548 L239.3 553.2 L252.7 558.3 L266.2 563.4 L279.5 568.7 L292.8 574.1 L305.9 579.8 L319 585.6 L332.1 591.5 L345.1 597.3 L358.2 603.1 L371.5 608.6 L384.8 613.9 L398.2 619.1 L411.6 624.2 L425 629.3 L438.4 634.6 L451.7 640 L464.9 645.6 L477.9 651.4 L491 657.3" stroke="#bb8875" stroke-width="0.8" fill="none" opacity="0.45" transform="translate(0.2 -0.5)"/>
<path d="M25.2 469.9 L38.4 475.5 L51.7 480.9 L65 486.1 L78.4 491.3 L91.8 496.5 L105.2 501.7 L118.5 507 L131.8 512.5 L144.9 518.2 L158 524 L171.1 529.9 L184.1 535.9 L197.1 541.8 L210.2 547.6 L223.3 553.3 L236.6 558.8 L249.9 564.1 L263.3 569.4 L276.7 574.5 L290.1 579.7 L303.5 584.9 L316.8 590.3 L330 595.9 L343.1 601.6 L356.2 607.5 L369.2 613.4 L382.2 619.4 L395.2 625.3 L408.3 631 L421.5 636.7 L434.8 642.1 L448.1 647.4 L461.5 652.6 L475 657.7 L488.4 662.9" stroke="#9e6857" stroke-width="2.9" fill="none" stroke-linejoin="round"/>
<path d="M25.2 469.9 L38.4 475.5 L51.7 480.9 L65 486.1 L78.4 491.3 L91.8 496.5 L105.2 501.7 L118.5 507 L131.8 512.5 L144.9 518.2 L158 524 L171.1 529.9 L184.1 535.9 L197.1 541.8 L210.2 547.6 L223.3 553.3 L236.6 558.8 L249.9 564.1 L263.3 569.4 L276.7 574.5 L290.1 579.7 L303.5 584.9 L316.8 590.3 L330 595.9 L343.1 601.6 L356.2 607.5 L369.2 613.4 L382.2 619.4 L395.2 625.3 L408.3 631 L421.5 636.7 L434.8 642.1 L448.1 647.4 L461.5 652.6 L475 657.7 L488.4 662.9" stroke="#bb8875" stroke-width="0.9" fill="none" opacity="0.45" transform="translate(0.3 -0.5)"/>
<path d="M23.3 473.6 L36.7 478.9 L50.1 484 L63.5 489.2 L76.9 494.3 L90.3 499.4 L103.7 504.7 L117 510.1 L130.2 515.6 L143.3 521.3 L156.4 527 L169.5 532.9 L182.6 538.7 L195.7 544.5 L208.8 550.2 L222 555.8 L235.3 561.2 L248.6 566.6 L262 571.8 L275.4 576.9 L288.8 582 L302.2 587.1 L315.6 592.3 L328.9 597.7 L342.2 603.1 L355.4 608.7 L368.5 614.4 L381.6 620.1 L394.7 626 L407.8 631.8 L420.9 637.6 L434 643.2 L447.2 648.8 L460.5 654.2 L473.9 659.5 L487.3 664.6" stroke="#935b4a" stroke-width="2.6" fill="none" stroke-linejoin="round"/>
<path d="M23.3 473.6 L36.7 478.9 L50.1 484 L63.5 489.2 L76.9 494.3 L90.3 499.4 L103.7 504.7 L117 510.1 L130.2 515.6 L143.3 521.3 L156.4 527 L169.5 532.9 L182.6 538.7 L195.7 544.5 L208.8 550.2 L222 555.8 L235.3 561.2 L248.6 566.6 L262 571.8 L275.4 576.9 L288.8 582 L302.2 587.1 L315.6 592.3 L328.9 597.7 L342.2 603.1 L355.4 608.7 L368.5 614.4 L381.6 620.1 L394.7 626 L407.8 631.8 L420.9 637.6 L434 643.2 L447.2 648.8 L460.5 654.2 L473.9 659.5 L487.3 664.6" stroke="#bb8875" stroke-width="0.8" fill="none" opacity="0.45" transform="translate(0.2 -0.5)"/>
<path d="M22.2 475.8 L35.2 481.9 L48.1 488 L61.2 493.8 L74.5 499.2 L87.9 504.3 L101.4 509.3 L114.8 514.5 L128 520 L141 526 L154 532.1 L167 538.1 L180.1 543.7 L193.5 549 L207 554 L220.5 559 L233.8 564.4 L246.9 570.1 L259.9 576.1 L272.8 582.2 L285.9 588.1 L299.1 593.6 L312.6 598.7 L326.1 603.7 L339.5 608.8 L352.7 614.3 L365.8 620.2 L378.7 626.3 L391.7 632.4 L404.8 638.1 L418.2 643.4 L431.6 648.4 L445.1 653.4 L458.5 658.7 L471.6 664.4 L484.6 670.4" stroke="#935b4a" stroke-width="2.6" fill="none" stroke-linejoin="round"/>
<path d="M22.2 475.8 L35.2 481.9 L48.1 488 L61.2 493.8 L74.5 499.2 L87.9 504.3 L101.4 509.3 L114.8 514.5 L128 520 L141 526 L154 532.1 L167 538.1 L180.1 543.7 L193.5 549 L207 554 L220.5 559 L233.8 564.4 L246.9 570.1 L259.9 576.1 L272.8 582.2 L285.9 588.1 L299.1 593.6 L312.6 598.7 L326.1 603.7 L339.5 608.8 L352.7 614.3 L365.8 620.2 L378.7 626.3 L391.7 632.4 L404.8 638.1 L418.2 643.4 L431.6 648.4 L445.1 653.4 L458.5 658.7 L471.6 664.4 L484.6 670.4" stroke="#bb8875" stroke-width="0.8" fill="none" opacity="0.45" transform="translate(0.2 -0.5)"/>
<path d="M20.6 479 L33.7 484.8 L46.7 490.8 L59.7 496.8 L72.7 502.6 L85.9 508.2 L99.2 513.5 L112.7 518.6 L126.2 523.5 L139.8 528.4 L153.2 533.4 L166.5 538.7 L179.7 544.3 L192.8 550.2 L205.8 556.1 L218.8 562.1 L231.9 567.9 L245.1 573.5 L258.4 578.8 L271.9 583.8 L285.4 588.7 L298.9 593.6 L312.4 598.7 L325.7 604 L338.9 609.7 L351.9 615.5 L364.9 621.5 L377.9 627.5 L391 633.3 L404.2 638.8 L417.6 644 L431 649.1 L444.6 653.9 L458.1 658.9 L471.5 664 L484.8 669.3" stroke="#81493c" stroke-width="2.7" fill="none" stroke-linejoin="round"/>
<path d="M20.6 479 L33.7 484.8 L46.7 490.8 L59.7 496.8 L72.7 502.6 L85.9 508.2 L99.2 513.5 L112.7 518.6 L126.2 523.5 L139.8 528.4 L153.2 533.4 L166.5 538.7 L179.7 544.3 L192.8 550.2 L205.8 556.1 L218.8 562.1 L231.9 567.9 L245.1 573.5 L258.4 578.8 L271.9 583.8 L285.4 588.7 L298.9 593.6 L312.4 598.7 L325.7 604 L338.9 609.7 L351.9 615.5 L364.9 621.5 L377.9 627.5 L391 633.3 L404.2 638.8 L417.6 644 L431 649.1 L444.6 653.9 L458.1 658.9 L471.5 664 L484.8 669.3" stroke="#bb8875" stroke-width="0.9" fill="none" opacity="0.45" transform="translate(0.2 -0.5)"/>
<path d="M18.9 482.5 L32.1 487.9 L45.3 493.5 L58.5 499.2 L71.5 505 L84.6 510.8 L97.7 516.6 L110.9 522.3 L124.1 527.8 L137.4 533.2 L150.7 538.5 L164.1 543.6 L177.5 548.8 L190.9 554 L204.3 559.2 L217.6 564.6 L230.8 570.2 L243.9 575.8 L257 581.6 L270.1 587.4 L283.2 593.2 L296.3 598.9 L309.5 604.5 L322.8 609.9 L336.1 615.2 L349.5 620.4 L362.9 625.6 L376.3 630.7 L389.7 636 L403 641.3 L416.2 646.8 L429.4 652.5 L442.5 658.2 L455.6 664 L468.7 669.8 L481.8 675.6" stroke="#81493c" stroke-width="2.4" fill="none" stroke-linejoin="round"/>
<path d="M18.9 482.5 L32.1 487.9 L45.3 493.5 L58.5 499.2 L71.5 505 L84.6 510.8 L97.7 516.6 L110.9 522.3 L124.1 527.8 L137.4 533.2 L150.7 538.5 L164.1 543.6 L177.5 548.8 L190.9 554 L204.3 559.2 L217.6 564.6 L230.8 570.2 L243.9 575.8 L257 581.6 L270.1 587.4 L283.2 593.2 L296.3 598.9 L309.5 604.5 L322.8 609.9 L336.1 615.2 L349.5 620.4 L362.9 625.6 L376.3 630.7 L389.7 636 L403 641.3 L416.2 646.8 L429.4 652.5 L442.5 658.2 L455.6 664 L468.7 669.8 L481.8 675.6" stroke="#bb8875" stroke-width="0.8" fill="none" opacity="0.45" transform="translate(0.2 -0.4)"/>
<path d="M16.4 487.5 L29.7 492.8 L43.1 497.9 L56.5 503.1 L69.9 508.3 L83.3 513.5 L96.6 518.8 L109.9 524.2 L123.1 529.7 L136.3 535.4 L149.4 541.1 L162.5 546.8 L175.6 552.6 L188.8 558.3 L201.9 563.8 L215.2 569.3 L228.5 574.7 L241.8 579.9 L255.2 585.1 L268.6 590.3 L282 595.4 L295.4 600.7 L308.7 606 L322 611.4 L335.2 616.9 L348.4 622.6 L361.5 628.3 L374.6 634.1 L387.7 639.8 L400.9 645.5 L414.1 651.1 L427.3 656.5 L440.6 661.9 L454 667.1 L467.4 672.3 L480.8 677.5" stroke="#704034" stroke-width="2.8" fill="none" stroke-linejoin="round"/>
<path d="M16.4 487.5 L29.7 492.8 L43.1 497.9 L56.5 503.1 L69.9 508.3 L83.3 513.5 L96.6 518.8 L109.9 524.2 L123.1 529.7 L136.3 535.4 L149.4 541.1 L162.5 546.8 L175.6 552.6 L188.8 558.3 L201.9 563.8 L215.2 569.3 L228.5 574.7 L241.8 579.9 L255.2 585.1 L268.6 590.3 L282 595.4 L295.4 600.7 L308.7 606 L322 611.4 L335.2 616.9 L348.4 622.6 L361.5 628.3 L374.6 634.1 L387.7 639.8 L400.9 645.5 L414.1 651.1 L427.3 656.5 L440.6 661.9 L454 667.1 L467.4 672.3 L480.8 677.5" stroke="#bb8875" stroke-width="0.9" fill="none" opacity="0.45" transform="translate(0.2 -0.5)"/>
<path d="M14.5 491.3 L27.9 496.4 L41.4 501.3 L54.9 506.2 L68.3 511.4 L81.6 516.9 L94.6 522.8 L107.6 528.9 L120.5 535 L133.5 541 L146.7 546.6 L160.1 551.8 L173.6 556.8 L187.1 561.7 L200.6 566.8 L213.9 572.1 L227 577.9 L240 583.9 L252.9 590 L265.8 596.1 L279 601.8 L292.2 607.2 L305.7 612.3 L319.2 617.2 L332.7 622.2 L346.1 627.4 L359.3 633 L372.4 638.9 L385.3 645 L398.2 651.1 L411.3 657 L424.5 662.6 L437.8 667.8 L451.4 672.8 L464.9 677.7 L478.3 682.7" stroke="#704034" stroke-width="2.6" fill="none" stroke-linejoin="round"/>
<path d="M14.5 491.3 L27.9 496.4 L41.4 501.3 L54.9 506.2 L68.3 511.4 L81.6 516.9 L94.6 522.8 L107.6 528.9 L120.5 535 L133.5 541 L146.7 546.6 L160.1 551.8 L173.6 556.8 L187.1 561.7 L200.6 566.8 L213.9 572.1 L227 577.9 L240 583.9 L252.9 590 L265.8 596.1 L279 601.8 L292.2 607.2 L305.7 612.3 L319.2 617.2 L332.7 622.2 L346.1 627.4 L359.3 633 L372.4 638.9 L385.3 645 L398.2 651.1 L411.3 657 L424.5 662.6 L437.8 667.8 L451.4 672.8 L464.9 677.7 L478.3 682.7" stroke="#bb8875" stroke-width="0.8" fill="none" opacity="0.45" transform="translate(0.2 -0.5)"/>
<path d="M12.9 494.4 L26.3 499.6 L39.7 504.8 L53.1 510 L66.4 515.4 L79.5 521 L92.6 526.9 L105.6 532.9 L118.6 538.9 L131.6 544.8 L144.8 550.4 L158.1 555.8 L171.5 561 L184.9 566.1 L198.3 571.3 L211.6 576.7 L224.8 582.4 L237.8 588.3 L250.8 594.3 L263.8 600.3 L276.9 606.1 L290.1 611.8 L303.4 617.2 L316.7 622.4 L330.2 627.5 L343.6 632.7 L356.9 638.1 L370 643.8 L383.1 649.6 L396.1 655.6 L409.1 661.7 L422.1 667.5 L435.3 673.2 L448.6 678.5 L462 683.7 L475.4 688.9" stroke="#81493c" stroke-width="2.5" fill="none" stroke-linejoin="round"/>
<path d="M12.9 494.4 L26.3 499.6 L39.7 504.8 L53.1 510 L66.4 515.4 L79.5 521 L92.6 526.9 L105.6 532.9 L118.6 538.9 L131.6 544.8 L144.8 550.4 L158.1 555.8 L171.5 561 L184.9 566.1 L198.3 571.3 L211.6 576.7 L224.8 582.4 L237.8 588.3 L250.8 594.3 L263.8 600.3 L276.9 606.1 L290.1 611.8 L303.4 617.2 L316.7 622.4 L330.2 627.5 L343.6 632.7 L356.9 638.1 L370 643.8 L383.1 649.6 L396.1 655.6 L409.1 661.7 L422.1 667.5 L435.3 673.2 L448.6 678.5 L462 683.7 L475.4 688.9" stroke="#bb8875" stroke-width="0.8" fill="none" opacity="0.45" transform="translate(0.2 -0.4)"/>
<path d="M11 498.3 L24.1 503.9 L37.4 509.3 L50.8 514.5 L64.3 519.5 L77.7 524.6 L91.1 529.8 L104.4 535.3 L117.5 541 L130.6 546.8 L143.6 552.8 L156.6 558.6 L169.8 564.3 L183.1 569.7 L196.4 574.9 L209.9 580 L223.3 585.1 L236.7 590.3 L250 595.7 L263.2 601.3 L276.3 607.1 L289.3 613.1 L302.3 618.9 L315.4 624.7 L328.7 630.2 L342 635.4 L355.5 640.5 L368.9 645.6 L382.4 650.7 L395.7 656.1 L408.9 661.6 L421.9 667.4 L435 673.4 L448 679.3 L461.1 685 L474.3 690.6" stroke="#935b4a" stroke-width="2.8" fill="none" stroke-linejoin="round"/>
<path d="M11 498.3 L24.1 503.9 L37.4 509.3 L50.8 514.5 L64.3 519.5 L77.7 524.6 L91.1 529.8 L104.4 535.3 L117.5 541 L130.6 546.8 L143.6 552.8 L156.6 558.6 L169.8 564.3 L183.1 569.7 L196.4 574.9 L209.9 580 L223.3 585.1 L236.7 590.3 L250 595.7 L263.2 601.3 L276.3 607.1 L289.3 613.1 L302.3 618.9 L315.4 624.7 L328.7 630.2 L342 635.4 L355.5 640.5 L368.9 645.6 L382.4 650.7 L395.7 656.1 L408.9 661.6 L421.9 667.4 L435 673.4 L448 679.3 L461.1 685 L474.3 690.6" stroke="#bb8875" stroke-width="0.9" fill="none" opacity="0.45" transform="translate(0.3 -0.5)"/>
<path d="M9.3 501.6 L22.3 507.6 L35.3 513.4 L48.6 518.8 L62.1 523.8 L75.7 528.6 L89.3 533.5 L102.7 538.6 L115.9 544.1 L129 549.9 L141.9 556 L154.9 562.1 L167.9 567.9 L181.2 573.4 L194.6 578.5 L208.2 583.4 L221.7 588.2 L235.2 593.2 L248.5 598.6 L261.6 604.4 L274.6 610.4 L287.5 616.5 L300.5 622.5 L313.7 628 L327.1 633.2 L340.6 638.1 L354.2 642.9 L367.7 647.8 L381.1 653.1 L394.2 658.8 L407.2 664.8 L420.1 671 L433.1 676.9 L446.2 682.6 L459.6 687.9 L473.1 692.8" stroke="#87503f" stroke-width="2.8" fill="none" stroke-linejoin="round"/>
<path d="M9.3 501.6 L22.3 507.6 L35.3 513.4 L48.6 518.8 L62.1 523.8 L75.7 528.6 L89.3 533.5 L102.7 538.6 L115.9 544.1 L129 549.9 L141.9 556 L154.9 562.1 L167.9 567.9 L181.2 573.4 L194.6 578.5 L208.2 583.4 L221.7 588.2 L235.2 593.2 L248.5 598.6 L261.6 604.4 L274.6 610.4 L287.5 616.5 L300.5 622.5 L313.7 628 L327.1 633.2 L340.6 638.1 L354.2 642.9 L367.7 647.8 L381.1 653.1 L394.2 658.8 L407.2 664.8 L420.1 671 L433.1 676.9 L446.2 682.6 L459.6 687.9 L473.1 692.8" stroke="#bb8875" stroke-width="0.9" fill="none" opacity="0.45" transform="translate(0.3 -0.5)"/>
<path d="M7.4 505.3 L20.8 510.6 L34.1 515.9 L47.5 521.2 L60.8 526.6 L74 532 L87.2 537.6 L100.4 543.2 L113.5 549 L126.6 554.7 L139.7 560.5 L152.9 566.2 L166 571.8 L179.3 577.3 L192.5 582.8 L205.8 588.1 L219.2 593.4 L232.5 598.7 L245.9 604 L259.2 609.3 L272.5 614.8 L285.7 620.3 L298.9 625.9 L312 631.6 L325.1 637.4 L338.2 643.1 L351.3 648.9 L364.5 654.5 L377.7 660.1 L391 665.5 L404.3 670.9 L417.6 676.2 L431 681.5 L444.3 686.8 L457.6 692.1 L470.9 697.5" stroke="#81493c" stroke-width="2.5" fill="none" stroke-linejoin="round"/>
<path d="M7.4 505.3 L20.8 510.6 L34.1 515.9 L47.5 521.2 L60.8 526.6 L74 532 L87.2 537.6 L100.4 543.2 L113.5 549 L126.6 554.7 L139.7 560.5 L152.9 566.2 L166 571.8 L179.3 577.3 L192.5 582.8 L205.8 588.1 L219.2 593.4 L232.5 598.7 L245.9 604 L259.2 609.3 L272.5 614.8 L285.7 620.3 L298.9 625.9 L312 631.6 L325.1 637.4 L338.2 643.1 L351.3 648.9 L364.5 654.5 L377.7 660.1 L391 665.5 L404.3 670.9 L417.6 676.2 L431 681.5 L444.3 686.8 L457.6 692.1 L470.9 697.5" stroke="#bb8875" stroke-width="0.8" fill="none" opacity="0.45" transform="translate(0.2 -0.5)"/>
<line x1="51.2" y1="418" x2="478.5" y2="680.9" stroke="#40201a" stroke-width="1.9" opacity="0.7"/>
<line x1="47.1" y1="426.2" x2="474.4" y2="689.1" stroke="#40201a" stroke-width="1.9" opacity="0.7"/>
<line x1="43" y1="434.3" x2="470.3" y2="697.2" stroke="#40201a" stroke-width="1.9" opacity="0.7"/>
<line x1="39" y1="442.4" x2="466.3" y2="705.3" stroke="#40201a" stroke-width="1.9" opacity="0.7"/>
<line x1="34.9" y1="450.6" x2="462.2" y2="713.5" stroke="#40201a" stroke-width="1.9" opacity="0.7"/>
<line x1="30.8" y1="458.7" x2="458.1" y2="721.6" stroke="#40201a" stroke-width="1.9" opacity="0.7"/>
<line x1="26.7" y1="466.8" x2="454" y2="729.7" stroke="#40201a" stroke-width="1.9" opacity="0.7"/>
<line x1="22.7" y1="475" x2="450" y2="737.8" stroke="#40201a" stroke-width="1.9" opacity="0.7"/>
<line x1="18.6" y1="483.1" x2="445.9" y2="746" stroke="#40201a" stroke-width="1.9" opacity="0.7"/>
<line x1="14.5" y1="491.2" x2="441.8" y2="754.1" stroke="#40201a" stroke-width="1.9" opacity="0.7"/>
<line x1="10.5" y1="499.3" x2="437.8" y2="762.2" stroke="#40201a" stroke-width="1.9" opacity="0.7"/>
<line x1="6.4" y1="507.5" x2="433.7" y2="770.4" stroke="#40201a" stroke-width="1.9" opacity="0.7"/>
<path d="M45.3 485.4 L430.4 680.4 L441.6 658.2 L54.7 466.6 A8 10.5 26.6 0 0 45.3 485.4 Z" fill="url(#gbr9)"/>
<polygon points="27.9,453.2 92.7,480.1 110.1,523.4 18.5,472" fill="#0b0b0b" opacity="0.86" filter="url(#fbr9)"/>
<path d="M45.3 485.4 L430.4 680.4 L441.6 658.2 L54.7 466.6 A8 10.5 26.6 0 0 45.3 485.4 Z" fill="url(#hbr9)"/>
</g>
<line x1="437.9" y1="659.9" x2="441" y2="661.4" stroke="#81493c" stroke-width="3.3"/>
<ellipse cx="441" cy="661.4" rx="1.2" ry="1.7" fill="#c99478" stroke="#40201a" stroke-width="0.5" transform="rotate(26.6 441 661.4)"/>
<line x1="436.3" y1="663.2" x2="438.7" y2="664.4" stroke="#87503f" stroke-width="3.3"/>
<ellipse cx="438.7" cy="664.4" rx="1.2" ry="1.7" fill="#c99478" stroke="#40201a" stroke-width="0.5" transform="rotate(26.6 438.7 664.4)"/>
<line x1="434.6" y1="666.5" x2="437.6" y2="668" stroke="#87503f" stroke-width="3.3"/>
<ellipse cx="437.6" cy="668" rx="1.2" ry="1.7" fill="#c99478" stroke="#40201a" stroke-width="0.5" transform="rotate(26.6 437.6 668)"/>
<line x1="432.9" y1="669.8" x2="437.7" y2="672.3" stroke="#87503f" stroke-width="3.3"/>
<ellipse cx="437.7" cy="672.3" rx="1.2" ry="1.7" fill="#c99478" stroke="#40201a" stroke-width="0.5" transform="rotate(26.6 437.7 672.3)"/>
<line x1="431.3" y1="673.2" x2="433.6" y2="674.3" stroke="#935b4a" stroke-width="3.3"/>
<ellipse cx="433.6" cy="674.3" rx="1.2" ry="1.7" fill="#c99478" stroke="#40201a" stroke-width="0.5" transform="rotate(26.6 433.6 674.3)"/>
<line x1="429.6" y1="676.5" x2="432.1" y2="677.8" stroke="#9e6857" stroke-width="3.3"/>
<ellipse cx="432.1" cy="677.8" rx="1.2" ry="1.7" fill="#c99478" stroke="#40201a" stroke-width="0.5" transform="rotate(26.6 432.1 677.8)"/>
<line x1="437.1" y1="661.5" x2="438.1" y2="662" stroke="#40201a" stroke-width="3.3"/>
<ellipse cx="438.1" cy="662" rx="1.2" ry="1.7" fill="#c99478" stroke="#40201a" stroke-width="0.5" transform="rotate(26.6 438.1 662)"/>
<line x1="435.4" y1="664.9" x2="436.3" y2="665.3" stroke="#40201a" stroke-width="3.3"/>
<ellipse cx="436.3" cy="665.3" rx="1.2" ry="1.7" fill="#c99478" stroke="#40201a" stroke-width="0.5" transform="rotate(26.6 436.3 665.3)"/>
<line x1="433.8" y1="668.2" x2="436.2" y2="669.4" stroke="#40201a" stroke-width="3.3"/>
<ellipse cx="436.2" cy="669.4" rx="1.2" ry="1.7" fill="#c99478" stroke="#40201a" stroke-width="0.5" transform="rotate(26.6 436.2 669.4)"/>
<line x1="432.1" y1="671.5" x2="433.9" y2="672.4" stroke="#40201a" stroke-width="3.3"/>
<ellipse cx="433.9" cy="672.4" rx="1.2" ry="1.7" fill="#c99478" stroke="#40201a" stroke-width="0.5" transform="rotate(26.6 433.9 672.4)"/>
<line x1="430.4" y1="674.8" x2="432.9" y2="676.1" stroke="#40201a" stroke-width="3.3"/>
<ellipse cx="432.9" cy="676.1" rx="1.2" ry="1.7" fill="#c99478" stroke="#40201a" stroke-width="0.5" transform="rotate(26.6 432.9 676.1)"/>
<g clip-path="url(#p10)">
<path d="M34.3 473.5 L267.4 578.6 L276.6 558.6 L45.7 448.9 A10.3 13.5 24.8 0 0 34.3 473.5 Z" fill="#82284e"/>
<path d="M29.7 424.1 L43.1 428.8 L56.4 433.8 L69.5 439.1 L82.5 444.7 L95.4 450.5 L108.3 456.2 L121.4 461.6 L134.6 466.6 L148 471.3 L161.4 476.1 L174.7 481 L187.8 486.3 L200.8 491.9 L213.7 497.7 L226.6 503.4 L239.7 508.8 L253 513.8 L266.4 518.6 L279.7 523.3 L293 528.3 L306.2 533.6 L319.2 539.2 L332.1 545" stroke="#c84682" stroke-width="2.7" fill="none" stroke-linejoin="round"/>
<path d="M29.7 424.1 L43.1 428.8 L56.4 433.8 L69.5 439.1 L82.5 444.7 L95.4 450.5 L108.3 456.2 L121.4 461.6 L134.6 466.6 L148 471.3 L161.4 476.1 L174.7 481 L187.8 486.3 L200.8 491.9 L213.7 497.7 L226.6 503.4 L239.7 508.8 L253 513.8 L266.4 518.6 L279.7 523.3 L293 528.3 L306.2 533.6 L319.2 539.2 L332.1 545" stroke="#f7a8d0" stroke-width="0.9" fill="none" opacity="0.45" transform="translate(0.2 -0.5)"/>
<path d="M28.3 427.1 L41.5 432.2 L54.7 437.4 L67.8 442.8 L80.8 448.3 L93.8 453.8 L106.8 459.3 L119.9 464.8 L133 470.2 L146.1 475.4 L159.3 480.6 L172.6 485.6 L185.9 490.5 L199.2 495.3 L212.5 500.2 L225.8 505.2 L239 510.2 L252.2 515.4 L265.3 520.7 L278.4 526.1 L291.4 531.6 L304.4 537.2 L317.5 542.7 L330.5 548.1" stroke="#d4508e" stroke-width="2.7" fill="none" stroke-linejoin="round"/>
<path d="M28.3 427.1 L41.5 432.2 L54.7 437.4 L67.8 442.8 L80.8 448.3 L93.8 453.8 L106.8 459.3 L119.9 464.8 L133 470.2 L146.1 475.4 L159.3 480.6 L172.6 485.6 L185.9 490.5 L199.2 495.3 L212.5 500.2 L225.8 505.2 L239 510.2 L252.2 515.4 L265.3 520.7 L278.4 526.1 L291.4 531.6 L304.4 537.2 L317.5 542.7 L330.5 548.1" stroke="#f7a8d0" stroke-width="0.9" fill="none" opacity="0.45" transform="translate(0.2 -0.5)"/>
<path d="M26.4 431.2 L39.7 436 L53 441 L66.2 446.2 L79.3 451.6 L92.2 457.2 L105.2 463 L118 468.8 L130.9 474.6 L143.9 480.3 L157 485.7 L170.2 490.9 L183.5 495.8 L196.8 500.7 L210.2 505.4 L223.5 510.3 L236.8 515.3 L249.9 520.6 L263 526.1 L275.9 531.8 L288.8 537.6 L301.7 543.5 L314.6 549.2 L327.6 554.8" stroke="#da5894" stroke-width="2.7" fill="none" stroke-linejoin="round"/>
<path d="M26.4 431.2 L39.7 436 L53 441 L66.2 446.2 L79.3 451.6 L92.2 457.2 L105.2 463 L118 468.8 L130.9 474.6 L143.9 480.3 L157 485.7 L170.2 490.9 L183.5 495.8 L196.8 500.7 L210.2 505.4 L223.5 510.3 L236.8 515.3 L249.9 520.6 L263 526.1 L275.9 531.8 L288.8 537.6 L301.7 543.5 L314.6 549.2 L327.6 554.8" stroke="#f7a8d0" stroke-width="0.9" fill="none" opacity="0.45" transform="translate(0.2 -0.5)"/>
<path d="M24.2 436 L37.2 441.5 L50.5 446.5 L63.9 451.2 L77.3 455.9 L90.7 460.6 L103.9 465.8 L116.9 471.4 L129.7 477.3 L142.5 483.3 L155.4 489.1 L168.4 494.6 L181.7 499.7 L195.1 504.4 L208.5 509 L221.9 513.8 L235.1 518.9 L248.1 524.5 L261 530.4 L273.8 536.4 L286.6 542.3 L299.7 547.8 L312.9 552.9 L326.3 557.6" stroke="#ea7ab0" stroke-width="2.8" fill="none" stroke-linejoin="round"/>
<path d="M24.2 436 L37.2 441.5 L50.5 446.5 L63.9 451.2 L77.3 455.9 L90.7 460.6 L103.9 465.8 L116.9 471.4 L129.7 477.3 L142.5 483.3 L155.4 489.1 L168.4 494.6 L181.7 499.7 L195.1 504.4 L208.5 509 L221.9 513.8 L235.1 518.9 L248.1 524.5 L261 530.4 L273.8 536.4 L286.6 542.3 L299.7 547.8 L312.9 552.9 L326.3 557.6" stroke="#f7a8d0" stroke-width="0.9" fill="none" opacity="0.45" transform="translate(0.2 -0.5)"/>
<path d="M23 438.5 L35.9 444.3 L48.9 449.9 L61.9 455.4 L75.1 460.5 L88.5 465.4 L101.8 470.2 L115.1 475.1 L128.4 480.2 L141.4 485.6 L154.4 491.2 L167.3 497 L180.2 502.8 L193.2 508.3 L206.4 513.6 L219.7 518.6 L233 523.4 L246.4 528.2 L259.6 533.2 L272.8 538.5 L285.8 544 L298.7 549.8 L311.6 555.6 L324.6 561.2" stroke="#c84682" stroke-width="2.3" fill="none" stroke-linejoin="round"/>
<path d="M23 438.5 L35.9 444.3 L48.9 449.9 L61.9 455.4 L75.1 460.5 L88.5 465.4 L101.8 470.2 L115.1 475.1 L128.4 480.2 L141.4 485.6 L154.4 491.2 L167.3 497 L180.2 502.8 L193.2 508.3 L206.4 513.6 L219.7 518.6 L233 523.4 L246.4 528.2 L259.6 533.2 L272.8 538.5 L285.8 544 L298.7 549.8 L311.6 555.6 L324.6 561.2" stroke="#f7a8d0" stroke-width="0.7" fill="none" opacity="0.45" transform="translate(0.2 -0.4)"/>
<path d="M21.6 441.6 L34.6 447.1 L47.6 452.6 L60.7 458 L73.8 463.5 L86.9 468.8 L100 474 L113.2 479.2 L126.5 484.2 L139.7 489.2 L153 494.2 L166.3 499.2 L179.5 504.2 L192.7 509.4 L205.9 514.6 L219 519.9 L232.1 525.3 L245.1 530.8 L258.2 536.3 L271.2 541.8 L284.3 547.2 L297.4 552.6 L310.5 557.8 L323.7 563" stroke="#da5894" stroke-width="2.4" fill="none" stroke-linejoin="round"/>
<path d="M21.6 441.6 L34.6 447.1 L47.6 452.6 L60.7 458 L73.8 463.5 L86.9 468.8 L100 474 L113.2 479.2 L126.5 484.2 L139.7 489.2 L153 494.2 L166.3 499.2 L179.5 504.2 L192.7 509.4 L205.9 514.6 L219 519.9 L232.1 525.3 L245.1 530.8 L258.2 536.3 L271.2 541.8 L284.3 547.2 L297.4 552.6 L310.5 557.8 L323.7 563" stroke="#f7a8d0" stroke-width="0.8" fill="none" opacity="0.45" transform="translate(0.2 -0.4)"/>
<path d="M19.4 446.3 L32.6 451.5 L45.9 456.4 L59.2 461.2 L72.6 466 L85.8 471 L98.9 476.4 L111.9 482 L124.9 487.6 L138 493 L151.2 498.1 L164.5 503 L177.8 507.8 L191.2 512.6 L204.4 517.8 L217.4 523.2 L230.4 528.8 L243.4 534.4 L256.5 539.7 L269.7 544.8 L283.1 549.6 L296.5 554.4 L309.8 559.3 L322.9 564.5" stroke="#ea7ab0" stroke-width="2.7" fill="none" stroke-linejoin="round"/>
<path d="M19.4 446.3 L32.6 451.5 L45.9 456.4 L59.2 461.2 L72.6 466 L85.8 471 L98.9 476.4 L111.9 482 L124.9 487.6 L138 493 L151.2 498.1 L164.5 503 L177.8 507.8 L191.2 512.6 L204.4 517.8 L217.4 523.2 L230.4 528.8 L243.4 534.4 L256.5 539.7 L269.7 544.8 L283.1 549.6 L296.5 554.4 L309.8 559.3 L322.9 564.5" stroke="#f7a8d0" stroke-width="0.9" fill="none" opacity="0.45" transform="translate(0.2 -0.5)"/>
<path d="M17.8 449.6 L31.1 454.6 L44.5 459.4 L57.8 464.2 L71.1 469.1 L84.3 474.4 L97.3 479.9 L110.2 485.6 L123.2 491.3 L136.3 496.7 L149.5 501.8 L162.8 506.7 L176.2 511.4 L189.5 516.3 L202.7 521.4 L215.8 526.8 L228.8 532.4 L241.7 538.1 L254.7 543.6 L267.9 548.9 L281.2 553.9 L294.5 558.7 L307.9 563.4 L321.2 568.4" stroke="#ea7ab0" stroke-width="2.5" fill="none" stroke-linejoin="round"/>
<path d="M17.8 449.6 L31.1 454.6 L44.5 459.4 L57.8 464.2 L71.1 469.1 L84.3 474.4 L97.3 479.9 L110.2 485.6 L123.2 491.3 L136.3 496.7 L149.5 501.8 L162.8 506.7 L176.2 511.4 L189.5 516.3 L202.7 521.4 L215.8 526.8 L228.8 532.4 L241.7 538.1 L254.7 543.6 L267.9 548.9 L281.2 553.9 L294.5 558.7 L307.9 563.4 L321.2 568.4" stroke="#f7a8d0" stroke-width="0.8" fill="none" opacity="0.45" transform="translate(0.2 -0.5)"/>
<path d="M17.1 451.2 L30.1 456.9 L42.9 462.7 L55.8 468.6 L68.8 474.3 L81.8 479.8 L95 484.9 L108.3 489.9 L121.6 494.7 L135 499.5 L148.4 504.3 L161.6 509.3 L174.7 514.7 L187.7 520.2 L200.7 526 L213.5 531.9 L226.4 537.7 L239.4 543.3 L252.5 548.8 L265.7 553.9 L279 558.8 L292.3 563.6 L305.7 568.4 L319 573.3" stroke="#c84682" stroke-width="2.6" fill="none" stroke-linejoin="round"/>
<path d="M17.1 451.2 L30.1 456.9 L42.9 462.7 L55.8 468.6 L68.8 474.3 L81.8 479.8 L95 484.9 L108.3 489.9 L121.6 494.7 L135 499.5 L148.4 504.3 L161.6 509.3 L174.7 514.7 L187.7 520.2 L200.7 526 L213.5 531.9 L226.4 537.7 L239.4 543.3 L252.5 548.8 L265.7 553.9 L279 558.8 L292.3 563.6 L305.7 568.4 L319 573.3" stroke="#f7a8d0" stroke-width="0.8" fill="none" opacity="0.45" transform="translate(0.2 -0.5)"/>
<path d="M15.4 454.9 L28.3 460.8 L41.1 466.7 L54 472.4 L67.2 477.6 L80.6 482.3 L94.1 486.8 L107.5 491.5 L120.7 496.7 L133.7 502.3 L146.5 508.3 L159.3 514.2 L172.4 519.7 L185.6 524.7 L199.1 529.3 L212.6 533.8 L225.9 538.7 L239 544 L251.9 549.9 L264.7 555.9 L277.6 561.6 L290.7 566.9 L304.1 571.7 L317.6 576.2" stroke="#c84682" stroke-width="2.6" fill="none" stroke-linejoin="round"/>
<path d="M15.4 454.9 L28.3 460.8 L41.1 466.7 L54 472.4 L67.2 477.6 L80.6 482.3 L94.1 486.8 L107.5 491.5 L120.7 496.7 L133.7 502.3 L146.5 508.3 L159.3 514.2 L172.4 519.7 L185.6 524.7 L199.1 529.3 L212.6 533.8 L225.9 538.7 L239 544 L251.9 549.9 L264.7 555.9 L277.6 561.6 L290.7 566.9 L304.1 571.7 L317.6 576.2" stroke="#f7a8d0" stroke-width="0.8" fill="none" opacity="0.45" transform="translate(0.2 -0.5)"/>
<path d="M13.5 459.1 L26.8 463.9 L40.1 468.9 L53.3 474 L66.4 479.3 L79.5 484.8 L92.4 490.4 L105.4 496 L118.4 501.6 L131.5 506.9 L144.7 512.1 L158 517.1 L171.3 522 L184.6 526.8 L198 531.7 L211.2 536.7 L224.4 541.9 L237.5 547.3 L250.5 552.8 L263.4 558.5 L276.4 564.1 L289.5 569.5 L302.6 574.8 L315.8 579.9" stroke="#e468a2" stroke-width="2.7" fill="none" stroke-linejoin="round"/>
<path d="M13.5 459.1 L26.8 463.9 L40.1 468.9 L53.3 474 L66.4 479.3 L79.5 484.8 L92.4 490.4 L105.4 496 L118.4 501.6 L131.5 506.9 L144.7 512.1 L158 517.1 L171.3 522 L184.6 526.8 L198 531.7 L211.2 536.7 L224.4 541.9 L237.5 547.3 L250.5 552.8 L263.4 558.5 L276.4 564.1 L289.5 569.5 L302.6 574.8 L315.8 579.9" stroke="#f7a8d0" stroke-width="0.9" fill="none" opacity="0.45" transform="translate(0.2 -0.5)"/>
<path d="M11.8 462.6 L25.1 467.5 L38.4 472.5 L51.7 477.5 L64.9 482.6 L78.1 487.9 L91.1 493.3 L104.1 499 L117 504.7 L130 510.4 L142.9 516.2 L155.8 521.9 L168.8 527.5 L181.9 532.9 L195.1 538.1 L208.3 543.2 L221.6 548.2 L234.9 553.1 L248.2 558 L261.5 563 L274.7 568.1 L287.8 573.4 L300.9 578.9 L313.9 584.5" stroke="#e468a2" stroke-width="2.7" fill="none" stroke-linejoin="round"/>
<path d="M11.8 462.6 L25.1 467.5 L38.4 472.5 L51.7 477.5 L64.9 482.6 L78.1 487.9 L91.1 493.3 L104.1 499 L117 504.7 L130 510.4 L142.9 516.2 L155.8 521.9 L168.8 527.5 L181.9 532.9 L195.1 538.1 L208.3 543.2 L221.6 548.2 L234.9 553.1 L248.2 558 L261.5 563 L274.7 568.1 L287.8 573.4 L300.9 578.9 L313.9 584.5" stroke="#f7a8d0" stroke-width="0.9" fill="none" opacity="0.45" transform="translate(0.2 -0.5)"/>
<path d="M10.7 465.2 L23.5 471.1 L36.3 477 L49.3 482.5 L62.6 487.6 L76 492.3 L89.5 496.8 L102.9 501.6 L116 506.8 L129 512.4 L141.8 518.3 L154.7 524.2 L167.7 529.8 L180.9 534.9 L194.3 539.7 L207.8 544.2 L221.2 548.9 L234.4 554 L247.4 559.6 L260.2 565.6 L273 571.5 L286 577.1 L299.2 582.3 L312.6 587" stroke="#e468a2" stroke-width="2.4" fill="none" stroke-linejoin="round"/>
<path d="M10.7 465.2 L23.5 471.1 L36.3 477 L49.3 482.5 L62.6 487.6 L76 492.3 L89.5 496.8 L102.9 501.6 L116 506.8 L129 512.4 L141.8 518.3 L154.7 524.2 L167.7 529.8 L180.9 534.9 L194.3 539.7 L207.8 544.2 L221.2 548.9 L234.4 554 L247.4 559.6 L260.2 565.6 L273 571.5 L286 577.1 L299.2 582.3 L312.6 587" stroke="#f7a8d0" stroke-width="0.8" fill="none" opacity="0.45" transform="translate(0.2 -0.4)"/>
<path d="M9 468.6 L22.1 474.1 L35 479.9 L47.9 485.7 L60.9 491.2 L74.1 496.4 L87.4 501.2 L100.9 505.8 L114.3 510.5 L127.5 515.5 L140.6 520.9 L153.5 526.7 L166.4 532.5 L179.4 538.1 L192.6 543.3 L205.9 548.2 L219.3 552.8 L232.8 557.4 L246 562.4 L259.1 567.8 L272.1 573.5 L285 579.3 L297.9 584.9 L311 590.2" stroke="#d4508e" stroke-width="2.3" fill="none" stroke-linejoin="round"/>
<path d="M9 468.6 L22.1 474.1 L35 479.9 L47.9 485.7 L60.9 491.2 L74.1 496.4 L87.4 501.2 L100.9 505.8 L114.3 510.5 L127.5 515.5 L140.6 520.9 L153.5 526.7 L166.4 532.5 L179.4 538.1 L192.6 543.3 L205.9 548.2 L219.3 552.8 L232.8 557.4 L246 562.4 L259.1 567.8 L272.1 573.5 L285 579.3 L297.9 584.9 L311 590.2" stroke="#f7a8d0" stroke-width="0.7" fill="none" opacity="0.45" transform="translate(0.2 -0.4)"/>
<path d="M7.5 471.9 L20.6 477.2 L33.7 482.8 L46.6 488.5 L59.6 494.2 L72.6 499.7 L85.7 505 L98.9 510.1 L112.2 515.1 L125.5 520 L138.7 525.1 L151.9 530.4 L164.9 535.9 L177.9 541.6 L190.8 547.3 L203.8 552.9 L216.9 558.2 L230.1 563.4 L243.4 568.3 L256.7 573.3 L269.9 578.3 L283.1 583.6 L296.2 589 L309.1 594.7" stroke="#e468a2" stroke-width="2.7" fill="none" stroke-linejoin="round"/>
<path d="M7.5 471.9 L20.6 477.2 L33.7 482.8 L46.6 488.5 L59.6 494.2 L72.6 499.7 L85.7 505 L98.9 510.1 L112.2 515.1 L125.5 520 L138.7 525.1 L151.9 530.4 L164.9 535.9 L177.9 541.6 L190.8 547.3 L203.8 552.9 L216.9 558.2 L230.1 563.4 L243.4 568.3 L256.7 573.3 L269.9 578.3 L283.1 583.6 L296.2 589 L309.1 594.7" stroke="#f7a8d0" stroke-width="0.9" fill="none" opacity="0.45" transform="translate(0.2 -0.5)"/>
<path d="M5.7 475.8 L19.1 480.6 L32.4 485.5 L45.6 490.6 L58.7 495.9 L71.7 501.5 L84.7 507.2 L97.6 513 L110.5 518.7 L123.6 524.2 L136.7 529.5 L150 534.5 L163.3 539.3 L176.7 544.1 L190 548.9 L203.3 553.8 L216.5 559 L229.6 564.4 L242.6 570.1 L255.5 575.8 L268.4 581.6 L281.4 587.2 L294.4 592.7 L307.6 597.9" stroke="#ea7ab0" stroke-width="2.2" fill="none" stroke-linejoin="round"/>
<path d="M5.7 475.8 L19.1 480.6 L32.4 485.5 L45.6 490.6 L58.7 495.9 L71.7 501.5 L84.7 507.2 L97.6 513 L110.5 518.7 L123.6 524.2 L136.7 529.5 L150 534.5 L163.3 539.3 L176.7 544.1 L190 548.9 L203.3 553.8 L216.5 559 L229.6 564.4 L242.6 570.1 L255.5 575.8 L268.4 581.6 L281.4 587.2 L294.4 592.7 L307.6 597.9" stroke="#f7a8d0" stroke-width="0.7" fill="none" opacity="0.45" transform="translate(0.2 -0.4)"/>
<path d="M3.9 479.7 L17.1 484.9 L30.3 490 L43.5 495.1 L56.8 500.1 L70.1 505 L83.4 510 L96.6 515 L109.8 520.2 L123 525.4 L136.1 530.7 L149.2 536.2 L162.2 541.6 L175.2 547.1 L188.3 552.5 L201.4 557.9 L214.5 563.2 L227.7 568.3 L240.9 573.4 L254.2 578.4 L267.5 583.4 L280.8 588.3 L294 593.3 L307.3 598.4" stroke="#e468a2" stroke-width="2.7" fill="none" stroke-linejoin="round"/>
<path d="M3.9 479.7 L17.1 484.9 L30.3 490 L43.5 495.1 L56.8 500.1 L70.1 505 L83.4 510 L96.6 515 L109.8 520.2 L123 525.4 L136.1 530.7 L149.2 536.2 L162.2 541.6 L175.2 547.1 L188.3 552.5 L201.4 557.9 L214.5 563.2 L227.7 568.3 L240.9 573.4 L254.2 578.4 L267.5 583.4 L280.8 588.3 L294 593.3 L307.3 598.4" stroke="#f7a8d0" stroke-width="0.9" fill="none" opacity="0.45" transform="translate(0.2 -0.5)"/>
<path d="M34.3 473.5 L267.4 578.6 L276.6 558.6 L45.7 448.9 A10.3 13.5 24.8 0 0 34.3 473.5 Z" fill="url(#gp10)"/>
<path d="M38.6 464.1 L270.9 571 L267.4 578.6 L34.3 473.5 Z" fill="#b87474" opacity="0.5"/>
<polygon points="18.4,436.3 67.7,453.7 75.8,498.2 7.1,460.8" fill="#0b0b0b" opacity="0.86" filter="url(#fp10)"/>
<path d="M34.3 473.5 L267.4 578.6 L276.6 558.6 L45.7 448.9 A10.3 13.5 24.8 0 0 34.3 473.5 Z" fill="url(#hp10)"/>
</g>
<line x1="273.3" y1="559.8" x2="277.1" y2="561.6" stroke="#e468a2" stroke-width="2.5"/>
<ellipse cx="277.1" cy="561.6" rx="0.9" ry="1.3" fill="#e8bca6" stroke="#82284e" stroke-width="0.5" transform="rotate(24.8 277.1 561.6)"/>
<line x1="272.1" y1="562.4" x2="277.1" y2="564.7" stroke="#c84682" stroke-width="2.5"/>
<ellipse cx="277.1" cy="564.7" rx="0.9" ry="1.3" fill="#e8bca6" stroke="#82284e" stroke-width="0.5" transform="rotate(24.8 277.1 564.7)"/>
<line x1="270.9" y1="565" x2="274.1" y2="566.5" stroke="#ea7ab0" stroke-width="2.5"/>
<ellipse cx="274.1" cy="566.5" rx="0.9" ry="1.3" fill="#e8bca6" stroke="#82284e" stroke-width="0.5" transform="rotate(24.8 274.1 566.5)"/>
<line x1="269.7" y1="567.5" x2="272.2" y2="568.7" stroke="#c84682" stroke-width="2.5"/>
<ellipse cx="272.2" cy="568.7" rx="0.9" ry="1.3" fill="#e8bca6" stroke="#82284e" stroke-width="0.5" transform="rotate(24.8 272.2 568.7)"/>
<line x1="268.5" y1="570.1" x2="273.7" y2="572.5" stroke="#da5894" stroke-width="2.5"/>
<ellipse cx="273.7" cy="572.5" rx="0.9" ry="1.3" fill="#e8bca6" stroke="#82284e" stroke-width="0.5" transform="rotate(24.8 273.7 572.5)"/>
<line x1="267.4" y1="572.7" x2="270.7" y2="574.2" stroke="#e468a2" stroke-width="2.5"/>
<ellipse cx="270.7" cy="574.2" rx="0.9" ry="1.3" fill="#e8bca6" stroke="#82284e" stroke-width="0.5" transform="rotate(24.8 270.7 574.2)"/>
<line x1="266.2" y1="575.3" x2="268.7" y2="576.4" stroke="#ea7ab0" stroke-width="2.5"/>
<ellipse cx="268.7" cy="576.4" rx="0.9" ry="1.3" fill="#e8bca6" stroke="#82284e" stroke-width="0.5" transform="rotate(24.8 268.7 576.4)"/>
<line x1="272.7" y1="561.1" x2="274.9" y2="562.2" stroke="#82284e" stroke-width="2.5"/>
<ellipse cx="274.9" cy="562.2" rx="0.9" ry="1.3" fill="#e8bca6" stroke="#82284e" stroke-width="0.5" transform="rotate(24.8 274.9 562.2)"/>
<line x1="271.5" y1="563.7" x2="274" y2="564.8" stroke="#82284e" stroke-width="2.5"/>
<ellipse cx="274" cy="564.8" rx="0.9" ry="1.3" fill="#e8bca6" stroke="#82284e" stroke-width="0.5" transform="rotate(24.8 274 564.8)"/>
<line x1="270.3" y1="566.3" x2="272.9" y2="567.4" stroke="#82284e" stroke-width="2.5"/>
<ellipse cx="272.9" cy="567.4" rx="0.9" ry="1.3" fill="#e8bca6" stroke="#82284e" stroke-width="0.5" transform="rotate(24.8 272.9 567.4)"/>
<line x1="269.1" y1="568.8" x2="269.8" y2="569.1" stroke="#82284e" stroke-width="2.5"/>
<ellipse cx="269.8" cy="569.1" rx="0.9" ry="1.3" fill="#e8bca6" stroke="#82284e" stroke-width="0.5" transform="rotate(24.8 269.8 569.1)"/>
<line x1="267.9" y1="571.4" x2="269.5" y2="572.1" stroke="#82284e" stroke-width="2.5"/>
<ellipse cx="269.5" cy="572.1" rx="0.9" ry="1.3" fill="#e8bca6" stroke="#82284e" stroke-width="0.5" transform="rotate(24.8 269.5 572.1)"/>
<line x1="266.8" y1="574" x2="269.5" y2="575.3" stroke="#82284e" stroke-width="2.5"/>
<ellipse cx="269.5" cy="575.3" rx="0.9" ry="1.3" fill="#e8bca6" stroke="#82284e" stroke-width="0.5" transform="rotate(24.8 269.5 575.3)"/>
<path d="M270.4 577.9 L381.4 632.4 A4.1 6 26.2 0 0 386.6 621.6 L275.6 567.1 A4.1 6 26.2 0 0 270.4 577.9 Z" fill="url(#c11)"/>
<line x1="274.8" y1="573.4" x2="382.2" y2="626.1" stroke="#c8c8c8" stroke-width="9.4" stroke-dasharray="1.3 2.4" opacity="0.32"/>
<ellipse cx="384" cy="627" rx="4.1" ry="5.5" fill="#eeeeee" stroke="#d6d6d6" stroke-width="1" transform="rotate(26.2 384 627)"/>
<path d="M435.4 675.9 L558.4 735.4 A4.1 6 25.8 0 0 563.6 724.6 L440.6 665.1 A4.1 6 25.8 0 0 435.4 675.9 Z" fill="url(#c12)"/>
<line x1="439.8" y1="671.4" x2="559.2" y2="729.1" stroke="#c8c8c8" stroke-width="9.4" stroke-dasharray="1.3 2.4" opacity="0.32"/>
<ellipse cx="561" cy="730" rx="4.1" ry="5.5" fill="#eeeeee" stroke="#d6d6d6" stroke-width="1" transform="rotate(25.8 561 730)"/>
<path d="M328.2 517.4 L437 517.4" fill="none" stroke="#b8121c" stroke-width="1.25"/>
<path d="M329 574 L329 516.8" fill="none" stroke="#e60f14" stroke-width="2"/>
<circle cx="328.8" cy="574.3" r="4.4" fill="#ec0f16"/></g></svg>
<div class="t" id="t1" style="left:153.8px;top:104.2px;letter-spacing:0.35px;">Enamelled</div>
<div class="t" id="t1b" style="left:423.2px;top:104.2px;letter-spacing:-0.4px;">Copper</div>
<div class="t" id="t1c" style="left:611.4px;top:104.2px;letter-spacing:0px;">Conductor</div>
<div class="t" id="t2" style="left:384.6px;top:164.6px;letter-spacing:-0.85px;">Cable Core</div>
<div class="t" id="t3" style="left:261.4px;top:221.6px;letter-spacing:0.03px;">Produced through strict test for pure sound</div>
<div class="t" id="t4" style="left:446.2px;top:511px;">Enamelled copper</div>
</body></html>
